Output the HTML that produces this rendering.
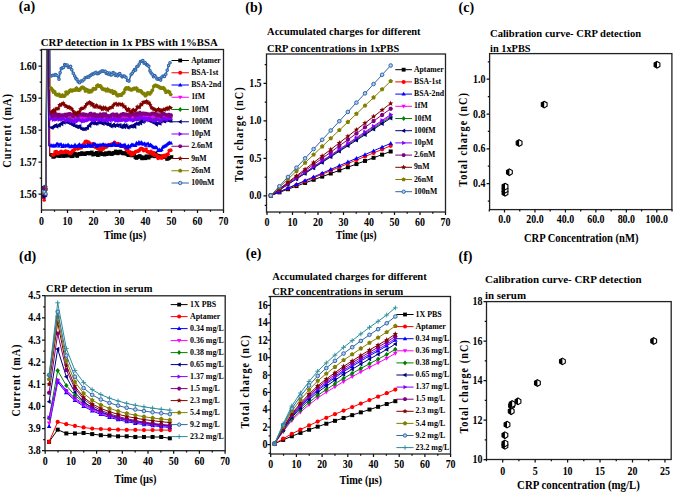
<!DOCTYPE html>
<html><head><meta charset="utf-8"><style>
html,body{margin:0;padding:0;background:#fff;width:675px;height:495px;overflow:hidden}
svg{display:block}
</style></head><body>
<svg width="675" height="495" viewBox="0 0 675 495" font-family='"Liberation Serif", serif'>
<rect width="675" height="495" fill="#fff"/>
<text x="18.8" y="11.3" font-size="14" text-anchor="start" font-weight="bold" fill="#000">(a)</text>
<text x="40.8" y="46.0" font-size="10.6" text-anchor="start" font-weight="bold" fill="#000" textLength="177.0" lengthAdjust="spacingAndGlyphs">CRP detection in 1x PBS with 1%BSA</text>
<clipPath id="ca"><rect x="41.5" y="49.5" width="182.0" height="160.5"/></clipPath>
<g clip-path="url(#ca)">
<polyline points="42.6,187.6 44.2,189.7 45.8,189.2 46.8,40.0 49.3,40.0 49.6,156.0 52.0,156.0" fill="none" stroke="#000000" stroke-width="0.9" stroke-linejoin="round"/>
<rect x="41.00" y="186.01" width="3.20" height="3.20" fill="#000000"/>
<rect x="42.60" y="188.10" width="3.20" height="3.20" fill="#000000"/>
<rect x="44.20" y="187.60" width="3.20" height="3.20" fill="#000000"/>
<polyline points="42.6,197.5 44.2,200.2 45.8,194.8 47.0,40.0 49.5,40.0 49.8,153.7 52.7,153.7" fill="none" stroke="#ff0000" stroke-width="0.9" stroke-linejoin="round"/>
<circle cx="42.60" cy="197.47" r="1.68" fill="#ff0000"/>
<circle cx="44.20" cy="200.16" r="1.68" fill="#ff0000"/>
<circle cx="45.80" cy="194.81" r="1.68" fill="#ff0000"/>
<polyline points="42.6,188.9 44.2,189.1 45.8,188.1 46.9,40.0 48.2,40.0 48.5,146.0 51.0,146.0" fill="none" stroke="#0000ff" stroke-width="0.9" stroke-linejoin="round"/>
<polygon points="42.6,186.9 44.4,190.1 40.8,190.1" fill="#0000ff"/>
<polygon points="44.2,187.2 46.0,190.4 42.4,190.4" fill="#0000ff"/>
<polygon points="45.8,186.2 47.6,189.4 44.0,189.4" fill="#0000ff"/>
<polyline points="42.6,188.8 44.2,186.5 45.8,188.2 47.3,40.0 48.8,40.0 49.1,117.0 51.0,117.0" fill="none" stroke="#008000" stroke-width="0.9" stroke-linejoin="round"/>
<polygon points="42.6,186.8 44.4,188.8 42.6,190.9 40.8,188.8" fill="#008000"/>
<polygon points="44.2,184.4 46.0,186.5 44.2,188.5 42.4,186.5" fill="#008000"/>
<polygon points="45.8,186.1 47.6,188.2 45.8,190.3 44.0,188.2" fill="#008000"/>
<polyline points="42.6,193.5 44.2,194.9 45.8,195.2 47.1,40.0 49.0,40.0 49.3,117.0 51.0,117.0" fill="none" stroke="#ff00ff" stroke-width="0.9" stroke-linejoin="round"/>
<polygon points="42.6,195.4 44.4,192.2 40.8,192.2" fill="#ff00ff"/>
<polygon points="44.2,196.8 46.0,193.6 42.4,193.6" fill="#ff00ff"/>
<polygon points="45.8,197.2 47.6,194.0 44.0,194.0" fill="#ff00ff"/>
<polyline points="42.6,195.5 44.2,197.5 45.8,195.4 46.7,40.0 48.5,40.0 48.8,126.9 51.3,126.9" fill="none" stroke="#000080" stroke-width="0.9" stroke-linejoin="round"/>
<polygon points="40.7,195.5 43.9,193.7 43.9,197.4" fill="#000080"/>
<polygon points="42.3,197.5 45.5,195.6 45.5,199.3" fill="#000080"/>
<polygon points="43.9,195.4 47.1,193.6 47.1,197.3" fill="#000080"/>
<polyline points="42.6,189.9 44.2,187.8 45.8,190.8 47.0,40.0 49.1,40.0 49.4,119.5 51.0,119.5" fill="none" stroke="#8000ff" stroke-width="0.9" stroke-linejoin="round"/>
<polygon points="44.5,189.9 41.3,188.0 41.3,191.7" fill="#8000ff"/>
<polygon points="46.1,187.8 42.9,186.0 42.9,189.6" fill="#8000ff"/>
<polygon points="47.7,190.8 44.5,189.0 44.5,192.6" fill="#8000ff"/>
<polyline points="42.6,188.7 44.2,191.5 45.8,186.5 47.2,40.0 49.4,40.0 49.7,115.0 51.0,115.0" fill="none" stroke="#800080" stroke-width="0.9" stroke-linejoin="round"/>
<polygon points="44.4,188.7 43.5,190.3 41.7,190.3 40.8,188.7 41.7,187.1 43.5,187.1" fill="#800080"/>
<polygon points="46.0,191.5 45.1,193.1 43.3,193.1 42.4,191.5 43.3,189.9 45.1,189.9" fill="#800080"/>
<polygon points="47.6,186.5 46.7,188.1 44.9,188.1 44.0,186.5 44.9,184.9 46.7,184.9" fill="#800080"/>
<polyline points="42.6,191.6 44.2,190.8 45.8,189.4 47.3,40.0 49.6,40.0 49.9,112.2 51.3,112.2" fill="none" stroke="#800000" stroke-width="0.9" stroke-linejoin="round"/>
<polygon points="42.6,189.3 43.2,190.7 44.7,190.9 43.6,191.9 43.9,193.4 42.6,192.6 41.3,193.4 41.6,191.9 40.5,190.9 42.0,190.7" fill="#800000"/>
<polygon points="44.2,188.6 44.8,190.0 46.3,190.1 45.2,191.1 45.5,192.6 44.2,191.8 42.9,192.6 43.2,191.1 42.1,190.1 43.6,190.0" fill="#800000"/>
<polygon points="45.8,187.1 46.4,188.6 47.9,188.7 46.8,189.7 47.1,191.2 45.8,190.4 44.5,191.2 44.8,189.7 43.7,188.7 45.2,188.6" fill="#800000"/>
<polyline points="42.6,192.9 44.2,192.4 45.8,193.3 46.5,40.0 49.8,40.0 50.1,88.0 51.0,88.0" fill="none" stroke="#808000" stroke-width="0.9" stroke-linejoin="round"/>
<polygon points="42.6,190.9 44.4,192.3 43.7,194.4 41.5,194.4 40.8,192.3" fill="#808000"/>
<polygon points="44.2,190.5 46.0,191.8 45.3,194.0 43.1,194.0 42.4,191.8" fill="#808000"/>
<polygon points="45.8,191.4 47.6,192.7 46.9,194.9 44.7,194.9 44.0,192.7" fill="#808000"/>
<polyline points="42.6,191.4 44.2,191.8 45.8,194.0 47.0,40.0 50.0,40.0 50.3,76.2 51.3,76.2" fill="none" stroke="#2f66a8" stroke-width="0.9" stroke-linejoin="round"/>
<circle cx="42.60" cy="191.43" r="1.44" fill="#b5cdee" stroke="#2f66a8" stroke-width="0.80"/>
<circle cx="44.20" cy="191.79" r="1.44" fill="#b5cdee" stroke="#2f66a8" stroke-width="0.80"/>
<circle cx="45.80" cy="193.97" r="1.44" fill="#b5cdee" stroke="#2f66a8" stroke-width="0.80"/>
<polyline points="52.0,155.0 53.1,156.9 54.3,156.5 55.5,155.0 56.6,155.6 57.8,155.4 58.9,155.8 60.1,156.1 61.2,154.1 62.4,153.9 63.5,156.1 64.7,155.0 65.8,155.9 67.0,153.7 68.1,154.9 69.2,155.7 70.4,154.3 71.5,156.3 72.7,156.2 73.8,153.7 75.0,153.7 76.1,155.0 77.2,156.0 78.3,154.4 79.5,153.8 80.6,154.3 81.7,153.1 82.8,153.5 83.9,154.0 85.0,154.1 86.2,153.3 87.3,153.1 88.4,153.0 89.5,153.6 90.7,153.1 91.8,152.4 93.0,154.6 94.2,153.9 95.3,154.1 96.5,152.8 97.7,155.1 98.8,154.7 100.0,152.6 101.1,153.2 102.3,154.2 103.4,154.1 104.5,154.6 105.7,153.1 106.8,154.2 107.9,153.7 109.0,152.6 110.2,153.3 111.3,154.1 112.4,153.9 113.5,152.9 114.6,153.0 115.7,151.4 116.8,151.9 117.9,153.4 119.0,152.2 120.1,151.5 121.2,152.4 122.4,153.2 123.6,153.5 124.8,153.0 125.9,153.6 127.1,154.1 128.3,155.2 129.5,154.9 130.7,154.9 131.8,155.5 133.0,154.6 134.2,155.0 135.4,157.2 136.5,158.0 137.6,157.0 138.7,156.5 139.8,156.0 140.9,157.0 142.0,158.4 143.1,157.9 144.2,157.3 145.3,158.3 146.4,156.3 147.6,156.8 148.7,157.7 149.8,156.4 150.9,155.8 152.1,155.0 153.2,155.5 154.3,156.3 155.5,153.4 156.6,155.3 157.8,155.8 158.9,156.3 160.1,156.3 161.2,156.9 162.4,156.5 163.5,157.0 164.7,157.0 165.8,156.3 167.0,159.0 168.1,158.5 169.3,157.9 171.5,157.0" fill="none" stroke="#000000" stroke-width="1.6" stroke-linejoin="round"/>
<rect x="50.20" y="153.18" width="3.60" height="3.60" fill="#000000"/>
<rect x="51.35" y="155.07" width="3.60" height="3.60" fill="#000000"/>
<rect x="52.50" y="154.74" width="3.60" height="3.60" fill="#000000"/>
<rect x="53.65" y="153.21" width="3.60" height="3.60" fill="#000000"/>
<rect x="54.80" y="153.79" width="3.60" height="3.60" fill="#000000"/>
<rect x="55.95" y="153.56" width="3.60" height="3.60" fill="#000000"/>
<rect x="57.10" y="154.02" width="3.60" height="3.60" fill="#000000"/>
<rect x="58.25" y="154.31" width="3.60" height="3.60" fill="#000000"/>
<rect x="59.40" y="152.26" width="3.60" height="3.60" fill="#000000"/>
<rect x="60.55" y="152.06" width="3.60" height="3.60" fill="#000000"/>
<rect x="61.70" y="154.31" width="3.60" height="3.60" fill="#000000"/>
<rect x="62.85" y="153.16" width="3.60" height="3.60" fill="#000000"/>
<rect x="64.00" y="154.07" width="3.60" height="3.60" fill="#000000"/>
<rect x="65.15" y="151.92" width="3.60" height="3.60" fill="#000000"/>
<rect x="66.30" y="153.15" width="3.60" height="3.60" fill="#000000"/>
<rect x="67.45" y="153.90" width="3.60" height="3.60" fill="#000000"/>
<rect x="68.60" y="152.51" width="3.60" height="3.60" fill="#000000"/>
<rect x="69.75" y="154.50" width="3.60" height="3.60" fill="#000000"/>
<rect x="70.90" y="154.36" width="3.60" height="3.60" fill="#000000"/>
<rect x="72.05" y="151.90" width="3.60" height="3.60" fill="#000000"/>
<rect x="73.20" y="151.87" width="3.60" height="3.60" fill="#000000"/>
<rect x="74.32" y="153.22" width="3.60" height="3.60" fill="#000000"/>
<rect x="75.43" y="154.23" width="3.60" height="3.60" fill="#000000"/>
<rect x="76.55" y="152.57" width="3.60" height="3.60" fill="#000000"/>
<rect x="77.66" y="152.01" width="3.60" height="3.60" fill="#000000"/>
<rect x="78.78" y="152.48" width="3.60" height="3.60" fill="#000000"/>
<rect x="79.89" y="151.28" width="3.60" height="3.60" fill="#000000"/>
<rect x="81.01" y="151.72" width="3.60" height="3.60" fill="#000000"/>
<rect x="82.12" y="152.23" width="3.60" height="3.60" fill="#000000"/>
<rect x="83.24" y="152.29" width="3.60" height="3.60" fill="#000000"/>
<rect x="84.35" y="151.45" width="3.60" height="3.60" fill="#000000"/>
<rect x="85.47" y="151.35" width="3.60" height="3.60" fill="#000000"/>
<rect x="86.58" y="151.21" width="3.60" height="3.60" fill="#000000"/>
<rect x="87.70" y="151.79" width="3.60" height="3.60" fill="#000000"/>
<rect x="88.87" y="151.31" width="3.60" height="3.60" fill="#000000"/>
<rect x="90.03" y="150.56" width="3.60" height="3.60" fill="#000000"/>
<rect x="91.20" y="152.85" width="3.60" height="3.60" fill="#000000"/>
<rect x="92.37" y="152.06" width="3.60" height="3.60" fill="#000000"/>
<rect x="93.53" y="152.30" width="3.60" height="3.60" fill="#000000"/>
<rect x="94.70" y="151.02" width="3.60" height="3.60" fill="#000000"/>
<rect x="95.87" y="153.28" width="3.60" height="3.60" fill="#000000"/>
<rect x="97.03" y="152.91" width="3.60" height="3.60" fill="#000000"/>
<rect x="98.20" y="150.84" width="3.60" height="3.60" fill="#000000"/>
<rect x="99.33" y="151.36" width="3.60" height="3.60" fill="#000000"/>
<rect x="100.46" y="152.38" width="3.60" height="3.60" fill="#000000"/>
<rect x="101.59" y="152.28" width="3.60" height="3.60" fill="#000000"/>
<rect x="102.72" y="152.84" width="3.60" height="3.60" fill="#000000"/>
<rect x="103.85" y="151.33" width="3.60" height="3.60" fill="#000000"/>
<rect x="104.98" y="152.40" width="3.60" height="3.60" fill="#000000"/>
<rect x="106.11" y="151.89" width="3.60" height="3.60" fill="#000000"/>
<rect x="107.24" y="150.79" width="3.60" height="3.60" fill="#000000"/>
<rect x="108.37" y="151.52" width="3.60" height="3.60" fill="#000000"/>
<rect x="109.50" y="152.27" width="3.60" height="3.60" fill="#000000"/>
<rect x="110.60" y="152.09" width="3.60" height="3.60" fill="#000000"/>
<rect x="111.70" y="151.06" width="3.60" height="3.60" fill="#000000"/>
<rect x="112.80" y="151.22" width="3.60" height="3.60" fill="#000000"/>
<rect x="113.90" y="149.59" width="3.60" height="3.60" fill="#000000"/>
<rect x="115.00" y="150.09" width="3.60" height="3.60" fill="#000000"/>
<rect x="116.10" y="151.57" width="3.60" height="3.60" fill="#000000"/>
<rect x="117.20" y="150.42" width="3.60" height="3.60" fill="#000000"/>
<rect x="118.30" y="149.66" width="3.60" height="3.60" fill="#000000"/>
<rect x="119.40" y="150.64" width="3.60" height="3.60" fill="#000000"/>
<rect x="120.58" y="151.43" width="3.60" height="3.60" fill="#000000"/>
<rect x="121.77" y="151.71" width="3.60" height="3.60" fill="#000000"/>
<rect x="122.95" y="151.22" width="3.60" height="3.60" fill="#000000"/>
<rect x="124.13" y="151.76" width="3.60" height="3.60" fill="#000000"/>
<rect x="125.32" y="152.32" width="3.60" height="3.60" fill="#000000"/>
<rect x="126.50" y="153.43" width="3.60" height="3.60" fill="#000000"/>
<rect x="127.68" y="153.07" width="3.60" height="3.60" fill="#000000"/>
<rect x="128.87" y="153.07" width="3.60" height="3.60" fill="#000000"/>
<rect x="130.05" y="153.70" width="3.60" height="3.60" fill="#000000"/>
<rect x="131.23" y="152.77" width="3.60" height="3.60" fill="#000000"/>
<rect x="132.42" y="153.16" width="3.60" height="3.60" fill="#000000"/>
<rect x="133.60" y="155.37" width="3.60" height="3.60" fill="#000000"/>
<rect x="134.70" y="156.23" width="3.60" height="3.60" fill="#000000"/>
<rect x="135.80" y="155.22" width="3.60" height="3.60" fill="#000000"/>
<rect x="136.90" y="154.74" width="3.60" height="3.60" fill="#000000"/>
<rect x="138.00" y="154.19" width="3.60" height="3.60" fill="#000000"/>
<rect x="139.10" y="155.20" width="3.60" height="3.60" fill="#000000"/>
<rect x="140.20" y="156.62" width="3.60" height="3.60" fill="#000000"/>
<rect x="141.30" y="156.10" width="3.60" height="3.60" fill="#000000"/>
<rect x="142.40" y="155.53" width="3.60" height="3.60" fill="#000000"/>
<rect x="143.50" y="156.51" width="3.60" height="3.60" fill="#000000"/>
<rect x="144.63" y="154.47" width="3.60" height="3.60" fill="#000000"/>
<rect x="145.76" y="154.98" width="3.60" height="3.60" fill="#000000"/>
<rect x="146.89" y="155.93" width="3.60" height="3.60" fill="#000000"/>
<rect x="148.02" y="154.60" width="3.60" height="3.60" fill="#000000"/>
<rect x="149.15" y="153.99" width="3.60" height="3.60" fill="#000000"/>
<rect x="150.28" y="153.17" width="3.60" height="3.60" fill="#000000"/>
<rect x="151.41" y="153.67" width="3.60" height="3.60" fill="#000000"/>
<rect x="152.54" y="154.54" width="3.60" height="3.60" fill="#000000"/>
<rect x="153.67" y="151.60" width="3.60" height="3.60" fill="#000000"/>
<rect x="154.80" y="153.49" width="3.60" height="3.60" fill="#000000"/>
<rect x="155.95" y="153.98" width="3.60" height="3.60" fill="#000000"/>
<rect x="157.11" y="154.54" width="3.60" height="3.60" fill="#000000"/>
<rect x="158.26" y="154.52" width="3.60" height="3.60" fill="#000000"/>
<rect x="159.42" y="155.09" width="3.60" height="3.60" fill="#000000"/>
<rect x="160.57" y="154.66" width="3.60" height="3.60" fill="#000000"/>
<rect x="161.73" y="155.16" width="3.60" height="3.60" fill="#000000"/>
<rect x="162.88" y="155.17" width="3.60" height="3.60" fill="#000000"/>
<rect x="164.04" y="154.51" width="3.60" height="3.60" fill="#000000"/>
<rect x="165.19" y="157.17" width="3.60" height="3.60" fill="#000000"/>
<rect x="166.35" y="156.71" width="3.60" height="3.60" fill="#000000"/>
<rect x="167.50" y="156.06" width="3.60" height="3.60" fill="#000000"/>
<rect x="169.70" y="155.20" width="3.60" height="3.60" fill="#000000"/>
<polyline points="52.7,155.0 53.9,154.7 55.1,151.9 56.4,151.7 57.6,153.5 58.8,152.9 60.0,152.5 61.1,151.5 62.2,152.3 63.3,152.3 64.4,152.2 65.6,151.0 66.7,151.8 67.8,151.7 68.9,152.6 70.0,153.4 71.1,152.8 72.2,151.2 73.3,150.5 74.4,149.6 75.6,148.5 76.7,148.0 77.8,148.8 78.9,147.9 80.0,147.7 81.3,147.7 82.7,145.3 84.0,144.0 85.3,141.7 86.4,141.3 87.5,142.4 88.7,142.2 89.8,143.5 90.9,145.1 92.0,144.5 93.1,143.8 94.3,146.5 95.4,146.9 96.6,147.4 97.7,148.6 98.9,148.9 100.0,149.6 101.1,147.9 102.2,149.2 103.3,148.7 104.5,146.0 105.6,147.2 106.7,146.7 107.8,145.5 108.9,145.2 110.0,144.7 111.1,145.4 112.3,143.8 113.4,144.2 114.5,142.4 115.6,143.5 116.8,144.1 118.0,143.5 119.2,144.4 120.4,146.0 121.6,146.1 122.8,146.0 124.0,145.9 125.2,147.4 126.4,149.6 127.5,149.3 128.7,152.5 129.9,151.9 131.1,154.9 132.2,152.7 133.4,154.0 134.5,152.8 135.6,151.8 136.8,151.3 137.9,151.2 139.0,150.5 140.1,149.3 141.3,148.5 142.4,148.8 143.6,150.5 144.8,150.1 146.0,149.1 147.3,151.7 148.5,151.9 149.7,152.9 150.9,151.4 152.1,153.8 153.3,152.7 154.5,155.2 155.8,154.9 157.0,155.6 158.2,158.2 159.4,156.9 160.6,157.6 161.8,158.1 162.9,155.9 164.1,155.3 165.3,156.7 166.5,155.0 167.9,154.1 169.3,150.6 170.7,150.2" fill="none" stroke="#ff0000" stroke-width="1.6" stroke-linejoin="round"/>
<circle cx="52.70" cy="154.98" r="1.89" fill="#ff0000"/>
<circle cx="53.92" cy="154.67" r="1.89" fill="#ff0000"/>
<circle cx="55.13" cy="151.89" r="1.89" fill="#ff0000"/>
<circle cx="56.35" cy="151.69" r="1.89" fill="#ff0000"/>
<circle cx="57.57" cy="153.51" r="1.89" fill="#ff0000"/>
<circle cx="58.78" cy="152.94" r="1.89" fill="#ff0000"/>
<circle cx="60.00" cy="152.48" r="1.89" fill="#ff0000"/>
<circle cx="61.11" cy="151.46" r="1.89" fill="#ff0000"/>
<circle cx="62.22" cy="152.30" r="1.89" fill="#ff0000"/>
<circle cx="63.33" cy="152.30" r="1.89" fill="#ff0000"/>
<circle cx="64.44" cy="152.23" r="1.89" fill="#ff0000"/>
<circle cx="65.56" cy="151.04" r="1.89" fill="#ff0000"/>
<circle cx="66.67" cy="151.81" r="1.89" fill="#ff0000"/>
<circle cx="67.78" cy="151.70" r="1.89" fill="#ff0000"/>
<circle cx="68.89" cy="152.62" r="1.89" fill="#ff0000"/>
<circle cx="70.00" cy="153.39" r="1.89" fill="#ff0000"/>
<circle cx="71.11" cy="152.81" r="1.89" fill="#ff0000"/>
<circle cx="72.22" cy="151.23" r="1.89" fill="#ff0000"/>
<circle cx="73.33" cy="150.51" r="1.89" fill="#ff0000"/>
<circle cx="74.44" cy="149.57" r="1.89" fill="#ff0000"/>
<circle cx="75.56" cy="148.48" r="1.89" fill="#ff0000"/>
<circle cx="76.67" cy="148.01" r="1.89" fill="#ff0000"/>
<circle cx="77.78" cy="148.79" r="1.89" fill="#ff0000"/>
<circle cx="78.89" cy="147.94" r="1.89" fill="#ff0000"/>
<circle cx="80.00" cy="147.66" r="1.89" fill="#ff0000"/>
<circle cx="81.33" cy="147.70" r="1.89" fill="#ff0000"/>
<circle cx="82.65" cy="145.27" r="1.89" fill="#ff0000"/>
<circle cx="83.97" cy="143.97" r="1.89" fill="#ff0000"/>
<circle cx="85.30" cy="141.66" r="1.89" fill="#ff0000"/>
<circle cx="86.42" cy="141.33" r="1.89" fill="#ff0000"/>
<circle cx="87.53" cy="142.44" r="1.89" fill="#ff0000"/>
<circle cx="88.65" cy="142.18" r="1.89" fill="#ff0000"/>
<circle cx="89.77" cy="143.50" r="1.89" fill="#ff0000"/>
<circle cx="90.88" cy="145.13" r="1.89" fill="#ff0000"/>
<circle cx="92.00" cy="144.49" r="1.89" fill="#ff0000"/>
<circle cx="93.14" cy="143.79" r="1.89" fill="#ff0000"/>
<circle cx="94.29" cy="146.47" r="1.89" fill="#ff0000"/>
<circle cx="95.43" cy="146.89" r="1.89" fill="#ff0000"/>
<circle cx="96.57" cy="147.40" r="1.89" fill="#ff0000"/>
<circle cx="97.71" cy="148.57" r="1.89" fill="#ff0000"/>
<circle cx="98.86" cy="148.85" r="1.89" fill="#ff0000"/>
<circle cx="100.00" cy="149.61" r="1.89" fill="#ff0000"/>
<circle cx="101.11" cy="147.93" r="1.89" fill="#ff0000"/>
<circle cx="102.23" cy="149.23" r="1.89" fill="#ff0000"/>
<circle cx="103.34" cy="148.72" r="1.89" fill="#ff0000"/>
<circle cx="104.46" cy="146.02" r="1.89" fill="#ff0000"/>
<circle cx="105.57" cy="147.23" r="1.89" fill="#ff0000"/>
<circle cx="106.69" cy="146.66" r="1.89" fill="#ff0000"/>
<circle cx="107.80" cy="145.49" r="1.89" fill="#ff0000"/>
<circle cx="108.91" cy="145.23" r="1.89" fill="#ff0000"/>
<circle cx="110.03" cy="144.66" r="1.89" fill="#ff0000"/>
<circle cx="111.14" cy="145.42" r="1.89" fill="#ff0000"/>
<circle cx="112.26" cy="143.77" r="1.89" fill="#ff0000"/>
<circle cx="113.37" cy="144.24" r="1.89" fill="#ff0000"/>
<circle cx="114.49" cy="142.45" r="1.89" fill="#ff0000"/>
<circle cx="115.60" cy="143.47" r="1.89" fill="#ff0000"/>
<circle cx="116.80" cy="144.13" r="1.89" fill="#ff0000"/>
<circle cx="118.00" cy="143.52" r="1.89" fill="#ff0000"/>
<circle cx="119.20" cy="144.43" r="1.89" fill="#ff0000"/>
<circle cx="120.40" cy="146.03" r="1.89" fill="#ff0000"/>
<circle cx="121.60" cy="146.10" r="1.89" fill="#ff0000"/>
<circle cx="122.80" cy="146.05" r="1.89" fill="#ff0000"/>
<circle cx="124.00" cy="145.92" r="1.89" fill="#ff0000"/>
<circle cx="125.18" cy="147.38" r="1.89" fill="#ff0000"/>
<circle cx="126.37" cy="149.59" r="1.89" fill="#ff0000"/>
<circle cx="127.55" cy="149.26" r="1.89" fill="#ff0000"/>
<circle cx="128.73" cy="152.51" r="1.89" fill="#ff0000"/>
<circle cx="129.92" cy="151.88" r="1.89" fill="#ff0000"/>
<circle cx="131.10" cy="154.85" r="1.89" fill="#ff0000"/>
<circle cx="132.23" cy="152.68" r="1.89" fill="#ff0000"/>
<circle cx="133.36" cy="154.00" r="1.89" fill="#ff0000"/>
<circle cx="134.49" cy="152.81" r="1.89" fill="#ff0000"/>
<circle cx="135.62" cy="151.75" r="1.89" fill="#ff0000"/>
<circle cx="136.75" cy="151.30" r="1.89" fill="#ff0000"/>
<circle cx="137.88" cy="151.18" r="1.89" fill="#ff0000"/>
<circle cx="139.01" cy="150.52" r="1.89" fill="#ff0000"/>
<circle cx="140.14" cy="149.25" r="1.89" fill="#ff0000"/>
<circle cx="141.27" cy="148.47" r="1.89" fill="#ff0000"/>
<circle cx="142.40" cy="148.83" r="1.89" fill="#ff0000"/>
<circle cx="143.61" cy="150.52" r="1.89" fill="#ff0000"/>
<circle cx="144.83" cy="150.15" r="1.89" fill="#ff0000"/>
<circle cx="146.04" cy="149.11" r="1.89" fill="#ff0000"/>
<circle cx="147.26" cy="151.70" r="1.89" fill="#ff0000"/>
<circle cx="148.47" cy="151.93" r="1.89" fill="#ff0000"/>
<circle cx="149.69" cy="152.94" r="1.89" fill="#ff0000"/>
<circle cx="150.90" cy="151.44" r="1.89" fill="#ff0000"/>
<circle cx="152.11" cy="153.80" r="1.89" fill="#ff0000"/>
<circle cx="153.33" cy="152.69" r="1.89" fill="#ff0000"/>
<circle cx="154.54" cy="155.17" r="1.89" fill="#ff0000"/>
<circle cx="155.76" cy="154.92" r="1.89" fill="#ff0000"/>
<circle cx="156.97" cy="155.61" r="1.89" fill="#ff0000"/>
<circle cx="158.19" cy="158.24" r="1.89" fill="#ff0000"/>
<circle cx="159.40" cy="156.90" r="1.89" fill="#ff0000"/>
<circle cx="160.58" cy="157.60" r="1.89" fill="#ff0000"/>
<circle cx="161.77" cy="158.06" r="1.89" fill="#ff0000"/>
<circle cx="162.95" cy="155.89" r="1.89" fill="#ff0000"/>
<circle cx="164.13" cy="155.32" r="1.89" fill="#ff0000"/>
<circle cx="165.32" cy="156.73" r="1.89" fill="#ff0000"/>
<circle cx="166.50" cy="154.98" r="1.89" fill="#ff0000"/>
<circle cx="167.90" cy="154.14" r="1.89" fill="#ff0000"/>
<circle cx="169.30" cy="150.56" r="1.89" fill="#ff0000"/>
<circle cx="170.70" cy="150.20" r="1.89" fill="#ff0000"/>
<polyline points="51.0,145.3 52.1,146.0 53.2,145.4 54.4,145.9 55.5,145.9 56.6,144.2 57.8,143.9 58.9,146.1 60.0,144.3 61.2,144.3 62.3,146.5 63.5,145.1 64.6,146.2 65.8,145.3 66.9,145.9 68.1,144.6 69.2,146.0 70.4,146.7 71.5,145.8 72.7,146.5 73.8,146.4 75.0,144.8 76.2,146.6 77.3,146.1 78.5,145.2 79.6,144.4 80.8,146.6 81.9,145.5 83.1,146.1 84.2,146.4 85.4,145.9 86.5,146.4 87.7,144.9 88.8,145.9 90.0,144.8 91.1,146.3 92.2,146.1 93.3,144.0 94.4,144.1 95.6,144.4 96.7,146.5 97.8,145.1 98.9,145.6 100.0,144.7 101.2,145.2 102.3,144.7 103.5,144.5 104.7,145.0 105.8,144.9 107.0,145.7 108.2,144.9 109.3,145.5 110.5,145.2 111.7,145.4 112.8,144.4 114.0,142.9 115.1,145.0 116.2,145.5 117.3,145.6 118.4,144.9 119.5,145.5 120.6,144.3 121.7,146.3 122.8,145.8 123.9,145.2 125.0,144.8 126.1,147.2 127.2,147.8 128.3,145.5 129.5,147.2 130.7,145.7 131.8,144.6 133.0,144.7 134.2,145.7 135.4,145.6 136.5,142.9 137.7,144.2 138.9,142.2 140.1,143.7 141.2,142.3 142.4,143.5 143.6,144.3 144.7,143.4 145.9,145.3 147.1,143.9 148.2,143.8 149.4,145.7 150.5,144.7 151.7,145.6 152.9,146.7 154.0,147.8 155.2,147.0 156.6,147.5 158.0,150.5 159.4,149.7 160.5,150.6 161.6,149.6 162.7,147.3 163.8,146.6 164.9,145.9 166.0,145.4 167.1,144.4 168.2,143.4 169.3,142.7 171.0,143.0" fill="none" stroke="#0000ff" stroke-width="1.6" stroke-linejoin="round"/>
<polygon points="51.0,143.1 53.1,146.7 48.9,146.7" fill="#0000ff"/>
<polygon points="52.1,143.8 54.2,147.4 50.1,147.4" fill="#0000ff"/>
<polygon points="53.2,143.2 55.3,146.8 51.2,146.8" fill="#0000ff"/>
<polygon points="54.4,143.8 56.4,147.4 52.3,147.4" fill="#0000ff"/>
<polygon points="55.5,143.7 57.6,147.3 53.4,147.3" fill="#0000ff"/>
<polygon points="56.6,142.0 58.7,145.6 54.6,145.6" fill="#0000ff"/>
<polygon points="57.8,141.7 59.8,145.3 55.7,145.3" fill="#0000ff"/>
<polygon points="58.9,143.9 60.9,147.5 56.8,147.5" fill="#0000ff"/>
<polygon points="60.0,142.2 62.1,145.8 57.9,145.8" fill="#0000ff"/>
<polygon points="61.2,142.2 63.2,145.8 59.1,145.8" fill="#0000ff"/>
<polygon points="62.3,144.4 64.4,148.0 60.2,148.0" fill="#0000ff"/>
<polygon points="63.5,143.0 65.5,146.6 61.4,146.6" fill="#0000ff"/>
<polygon points="64.6,144.1 66.7,147.7 62.5,147.7" fill="#0000ff"/>
<polygon points="65.8,143.2 67.8,146.8 63.7,146.8" fill="#0000ff"/>
<polygon points="66.9,143.7 69.0,147.3 64.9,147.3" fill="#0000ff"/>
<polygon points="68.1,142.4 70.1,146.0 66.0,146.0" fill="#0000ff"/>
<polygon points="69.2,143.8 71.3,147.4 67.2,147.4" fill="#0000ff"/>
<polygon points="70.4,144.6 72.5,148.2 68.3,148.2" fill="#0000ff"/>
<polygon points="71.5,143.7 73.6,147.3 69.5,147.3" fill="#0000ff"/>
<polygon points="72.7,144.4 74.8,148.0 70.6,148.0" fill="#0000ff"/>
<polygon points="73.8,144.2 75.9,147.8 71.8,147.8" fill="#0000ff"/>
<polygon points="75.0,142.6 77.1,146.2 72.9,146.2" fill="#0000ff"/>
<polygon points="76.2,144.5 78.2,148.1 74.1,148.1" fill="#0000ff"/>
<polygon points="77.3,143.9 79.4,147.5 75.2,147.5" fill="#0000ff"/>
<polygon points="78.5,143.1 80.5,146.7 76.4,146.7" fill="#0000ff"/>
<polygon points="79.6,142.2 81.7,145.8 77.5,145.8" fill="#0000ff"/>
<polygon points="80.8,144.5 82.8,148.1 78.7,148.1" fill="#0000ff"/>
<polygon points="81.9,143.3 84.0,146.9 79.9,146.9" fill="#0000ff"/>
<polygon points="83.1,143.9 85.1,147.5 81.0,147.5" fill="#0000ff"/>
<polygon points="84.2,144.3 86.3,147.9 82.2,147.9" fill="#0000ff"/>
<polygon points="85.4,143.7 87.5,147.3 83.3,147.3" fill="#0000ff"/>
<polygon points="86.5,144.2 88.6,147.8 84.5,147.8" fill="#0000ff"/>
<polygon points="87.7,142.7 89.8,146.3 85.6,146.3" fill="#0000ff"/>
<polygon points="88.8,143.8 90.9,147.4 86.8,147.4" fill="#0000ff"/>
<polygon points="90.0,142.7 92.1,146.3 87.9,146.3" fill="#0000ff"/>
<polygon points="91.1,144.1 93.2,147.7 89.0,147.7" fill="#0000ff"/>
<polygon points="92.2,144.0 94.3,147.6 90.2,147.6" fill="#0000ff"/>
<polygon points="93.3,141.8 95.4,145.4 91.3,145.4" fill="#0000ff"/>
<polygon points="94.4,142.0 96.5,145.6 92.4,145.6" fill="#0000ff"/>
<polygon points="95.6,142.2 97.6,145.8 93.5,145.8" fill="#0000ff"/>
<polygon points="96.7,144.3 98.7,147.9 94.6,147.9" fill="#0000ff"/>
<polygon points="97.8,142.9 99.8,146.5 95.7,146.5" fill="#0000ff"/>
<polygon points="98.9,143.5 101.0,147.1 96.8,147.1" fill="#0000ff"/>
<polygon points="100.0,142.6 102.1,146.2 97.9,146.2" fill="#0000ff"/>
<polygon points="101.2,143.0 103.2,146.6 99.1,146.6" fill="#0000ff"/>
<polygon points="102.3,142.6 104.4,146.2 100.3,146.2" fill="#0000ff"/>
<polygon points="103.5,142.3 105.6,145.9 101.4,145.9" fill="#0000ff"/>
<polygon points="104.7,142.9 106.7,146.5 102.6,146.5" fill="#0000ff"/>
<polygon points="105.8,142.8 107.9,146.4 103.8,146.4" fill="#0000ff"/>
<polygon points="107.0,143.5 109.1,147.1 104.9,147.1" fill="#0000ff"/>
<polygon points="108.2,142.8 110.2,146.4 106.1,146.4" fill="#0000ff"/>
<polygon points="109.3,143.3 111.4,146.9 107.3,146.9" fill="#0000ff"/>
<polygon points="110.5,143.0 112.6,146.6 108.4,146.6" fill="#0000ff"/>
<polygon points="111.7,143.3 113.7,146.9 109.6,146.9" fill="#0000ff"/>
<polygon points="112.8,142.2 114.9,145.8 110.8,145.8" fill="#0000ff"/>
<polygon points="114.0,140.7 116.1,144.3 111.9,144.3" fill="#0000ff"/>
<polygon points="115.1,142.9 117.2,146.5 113.0,146.5" fill="#0000ff"/>
<polygon points="116.2,143.4 118.3,147.0 114.1,147.0" fill="#0000ff"/>
<polygon points="117.3,143.4 119.4,147.0 115.2,147.0" fill="#0000ff"/>
<polygon points="118.4,142.7 120.5,146.3 116.3,146.3" fill="#0000ff"/>
<polygon points="119.5,143.4 121.6,147.0 117.4,147.0" fill="#0000ff"/>
<polygon points="120.6,142.2 122.7,145.8 118.5,145.8" fill="#0000ff"/>
<polygon points="121.7,144.1 123.8,147.7 119.6,147.7" fill="#0000ff"/>
<polygon points="122.8,143.6 124.9,147.2 120.7,147.2" fill="#0000ff"/>
<polygon points="123.9,143.0 126.0,146.6 121.8,146.6" fill="#0000ff"/>
<polygon points="125.0,142.6 127.1,146.2 122.9,146.2" fill="#0000ff"/>
<polygon points="126.1,145.1 128.2,148.7 124.0,148.7" fill="#0000ff"/>
<polygon points="127.2,145.7 129.3,149.3 125.1,149.3" fill="#0000ff"/>
<polygon points="128.3,143.4 130.4,147.0 126.2,147.0" fill="#0000ff"/>
<polygon points="129.5,145.0 131.5,148.6 127.4,148.6" fill="#0000ff"/>
<polygon points="130.7,143.6 132.7,147.2 128.6,147.2" fill="#0000ff"/>
<polygon points="131.8,142.5 133.9,146.1 129.8,146.1" fill="#0000ff"/>
<polygon points="133.0,142.5 135.1,146.1 130.9,146.1" fill="#0000ff"/>
<polygon points="134.2,143.5 136.2,147.1 132.1,147.1" fill="#0000ff"/>
<polygon points="135.4,143.4 137.4,147.0 133.3,147.0" fill="#0000ff"/>
<polygon points="136.5,140.8 138.6,144.4 134.5,144.4" fill="#0000ff"/>
<polygon points="137.7,142.0 139.8,145.6 135.6,145.6" fill="#0000ff"/>
<polygon points="138.9,140.0 140.9,143.6 136.8,143.6" fill="#0000ff"/>
<polygon points="140.1,141.6 142.1,145.2 138.0,145.2" fill="#0000ff"/>
<polygon points="141.2,140.1 143.3,143.7 139.2,143.7" fill="#0000ff"/>
<polygon points="142.4,141.3 144.5,144.9 140.3,144.9" fill="#0000ff"/>
<polygon points="143.6,142.1 145.6,145.7 141.5,145.7" fill="#0000ff"/>
<polygon points="144.7,141.3 146.8,144.9 142.7,144.9" fill="#0000ff"/>
<polygon points="145.9,143.2 148.0,146.8 143.8,146.8" fill="#0000ff"/>
<polygon points="147.1,141.7 149.1,145.3 145.0,145.3" fill="#0000ff"/>
<polygon points="148.2,141.6 150.3,145.2 146.1,145.2" fill="#0000ff"/>
<polygon points="149.4,143.6 151.5,147.2 147.3,147.2" fill="#0000ff"/>
<polygon points="150.5,142.5 152.6,146.1 148.5,146.1" fill="#0000ff"/>
<polygon points="151.7,143.5 153.8,147.1 149.6,147.1" fill="#0000ff"/>
<polygon points="152.9,144.6 154.9,148.2 150.8,148.2" fill="#0000ff"/>
<polygon points="154.0,145.6 156.1,149.2 152.0,149.2" fill="#0000ff"/>
<polygon points="155.2,144.9 157.3,148.5 153.1,148.5" fill="#0000ff"/>
<polygon points="156.6,145.3 158.7,148.9 154.5,148.9" fill="#0000ff"/>
<polygon points="158.0,148.3 160.1,151.9 155.9,151.9" fill="#0000ff"/>
<polygon points="159.4,147.5 161.5,151.1 157.3,151.1" fill="#0000ff"/>
<polygon points="160.5,148.5 162.6,152.1 158.4,152.1" fill="#0000ff"/>
<polygon points="161.6,147.4 163.7,151.0 159.5,151.0" fill="#0000ff"/>
<polygon points="162.7,145.1 164.8,148.7 160.6,148.7" fill="#0000ff"/>
<polygon points="163.8,144.5 165.9,148.1 161.7,148.1" fill="#0000ff"/>
<polygon points="164.9,143.8 167.0,147.4 162.8,147.4" fill="#0000ff"/>
<polygon points="166.0,143.2 168.1,146.8 163.9,146.8" fill="#0000ff"/>
<polygon points="167.1,142.2 169.2,145.8 165.0,145.8" fill="#0000ff"/>
<polygon points="168.2,141.3 170.3,144.9 166.1,144.9" fill="#0000ff"/>
<polygon points="169.3,140.6 171.4,144.2 167.2,144.2" fill="#0000ff"/>
<polygon points="171.0,140.8 173.1,144.4 168.9,144.4" fill="#0000ff"/>
<polyline points="51.0,116.3 52.1,115.9 53.2,116.8 54.4,116.1 55.5,115.9 56.6,116.9 57.7,118.3 58.8,118.0 59.9,118.0 61.1,116.5 62.2,117.4 63.3,116.7 64.4,116.4 65.5,116.3 66.6,116.6 67.8,118.6 68.9,118.4 70.0,118.4 71.1,118.3 72.2,116.6 73.3,116.9 74.4,117.8 75.6,118.1 76.7,118.4 77.8,118.4 78.9,116.2 80.0,117.6 81.1,117.8 82.2,117.3 83.3,116.4 84.4,117.2 85.6,116.1 86.7,118.4 87.8,118.2 88.9,117.3 90.0,116.6 91.1,118.3 92.2,117.3 93.3,118.2 94.4,118.1 95.6,117.1 96.7,116.8 97.8,117.3 98.9,116.8 100.0,116.1 101.1,116.5 102.2,117.9 103.3,115.8 104.4,115.9 105.6,117.5 106.7,116.6 107.8,117.4 108.9,117.2 110.0,116.9 111.1,118.8 112.2,116.6 113.3,117.2 114.4,116.6 115.6,117.9 116.7,116.9 117.8,117.2 118.9,118.3 120.0,117.2 121.1,117.9 122.2,118.9 123.3,116.7 124.4,116.6 125.6,117.1 126.7,118.6 127.8,118.2 128.9,117.2 130.0,117.5 131.1,117.1 132.2,117.8 133.3,116.6 134.4,118.4 135.5,119.0 136.6,119.1 137.8,118.5 138.9,119.1 140.0,116.4 141.1,117.1 142.2,119.0 143.3,118.4 144.4,117.4 145.5,118.9 146.6,117.9 147.7,118.5 148.8,117.0 149.9,116.6 151.1,117.3 152.2,116.4 153.3,117.1 154.4,118.7 155.5,116.9 156.6,116.0 157.7,116.0 158.8,116.4 159.9,118.1 161.0,116.9 162.1,116.6 163.2,116.1 164.4,118.5 165.5,116.9 166.6,116.3 167.7,115.8 168.8,115.8 169.9,116.1 171.0,117.0" fill="none" stroke="#008000" stroke-width="1.6" stroke-linejoin="round"/>
<polygon points="51.0,113.9 53.0,116.3 51.0,118.6 49.0,116.3" fill="#008000"/>
<polygon points="52.1,113.6 54.1,115.9 52.1,118.3 50.1,115.9" fill="#008000"/>
<polygon points="53.2,114.4 55.2,116.8 53.2,119.1 51.3,116.8" fill="#008000"/>
<polygon points="54.4,113.8 56.3,116.1 54.4,118.5 52.4,116.1" fill="#008000"/>
<polygon points="55.5,113.6 57.5,115.9 55.5,118.2 53.5,115.9" fill="#008000"/>
<polygon points="56.6,114.5 58.6,116.9 56.6,119.2 54.6,116.9" fill="#008000"/>
<polygon points="57.7,116.0 59.7,118.3 57.7,120.7 55.7,118.3" fill="#008000"/>
<polygon points="58.8,115.7 60.8,118.0 58.8,120.4 56.8,118.0" fill="#008000"/>
<polygon points="59.9,115.6 61.9,118.0 59.9,120.3 58.0,118.0" fill="#008000"/>
<polygon points="61.1,114.1 63.0,116.5 61.1,118.8 59.1,116.5" fill="#008000"/>
<polygon points="62.2,115.1 64.2,117.4 62.2,119.7 60.2,117.4" fill="#008000"/>
<polygon points="63.3,114.4 65.3,116.7 63.3,119.0 61.3,116.7" fill="#008000"/>
<polygon points="64.4,114.1 66.4,116.4 64.4,118.8 62.4,116.4" fill="#008000"/>
<polygon points="65.5,113.9 67.5,116.3 65.5,118.6 63.5,116.3" fill="#008000"/>
<polygon points="66.6,114.3 68.6,116.6 66.6,119.0 64.7,116.6" fill="#008000"/>
<polygon points="67.8,116.3 69.7,118.6 67.8,121.0 65.8,118.6" fill="#008000"/>
<polygon points="68.9,116.1 70.9,118.4 68.9,120.7 66.9,118.4" fill="#008000"/>
<polygon points="70.0,116.0 72.0,118.4 70.0,120.7 68.0,118.4" fill="#008000"/>
<polygon points="71.1,116.0 73.1,118.3 71.1,120.7 69.1,118.3" fill="#008000"/>
<polygon points="72.2,114.3 74.2,116.6 72.2,118.9 70.2,116.6" fill="#008000"/>
<polygon points="73.3,114.6 75.3,116.9 73.3,119.3 71.4,116.9" fill="#008000"/>
<polygon points="74.4,115.4 76.4,117.8 74.4,120.1 72.5,117.8" fill="#008000"/>
<polygon points="75.6,115.7 77.5,118.1 75.6,120.4 73.6,118.1" fill="#008000"/>
<polygon points="76.7,116.0 78.6,118.4 76.7,120.7 74.7,118.4" fill="#008000"/>
<polygon points="77.8,116.1 79.8,118.4 77.8,120.8 75.8,118.4" fill="#008000"/>
<polygon points="78.9,113.9 80.9,116.2 78.9,118.5 76.9,116.2" fill="#008000"/>
<polygon points="80.0,115.3 82.0,117.6 80.0,120.0 78.0,117.6" fill="#008000"/>
<polygon points="81.1,115.5 83.1,117.8 81.1,120.1 79.1,117.8" fill="#008000"/>
<polygon points="82.2,115.0 84.2,117.3 82.2,119.7 80.2,117.3" fill="#008000"/>
<polygon points="83.3,114.0 85.3,116.4 83.3,118.7 81.4,116.4" fill="#008000"/>
<polygon points="84.4,114.8 86.4,117.2 84.4,119.5 82.5,117.2" fill="#008000"/>
<polygon points="85.6,113.8 87.5,116.1 85.6,118.4 83.6,116.1" fill="#008000"/>
<polygon points="86.7,116.1 88.6,118.4 86.7,120.8 84.7,118.4" fill="#008000"/>
<polygon points="87.8,115.9 89.8,118.2 87.8,120.6 85.8,118.2" fill="#008000"/>
<polygon points="88.9,115.0 90.9,117.3 88.9,119.7 86.9,117.3" fill="#008000"/>
<polygon points="90.0,114.3 92.0,116.6 90.0,118.9 88.0,116.6" fill="#008000"/>
<polygon points="91.1,116.0 93.1,118.3 91.1,120.6 89.1,118.3" fill="#008000"/>
<polygon points="92.2,115.0 94.2,117.3 92.2,119.7 90.2,117.3" fill="#008000"/>
<polygon points="93.3,115.8 95.3,118.2 93.3,120.5 91.4,118.2" fill="#008000"/>
<polygon points="94.4,115.7 96.4,118.1 94.4,120.4 92.5,118.1" fill="#008000"/>
<polygon points="95.6,114.8 97.5,117.1 95.6,119.4 93.6,117.1" fill="#008000"/>
<polygon points="96.7,114.5 98.6,116.8 96.7,119.2 94.7,116.8" fill="#008000"/>
<polygon points="97.8,115.0 99.8,117.3 97.8,119.7 95.8,117.3" fill="#008000"/>
<polygon points="98.9,114.5 100.9,116.8 98.9,119.2 96.9,116.8" fill="#008000"/>
<polygon points="100.0,113.7 102.0,116.1 100.0,118.4 98.0,116.1" fill="#008000"/>
<polygon points="101.1,114.2 103.1,116.5 101.1,118.8 99.1,116.5" fill="#008000"/>
<polygon points="102.2,115.6 104.2,117.9 102.2,120.3 100.2,117.9" fill="#008000"/>
<polygon points="103.3,113.5 105.3,115.8 103.3,118.2 101.4,115.8" fill="#008000"/>
<polygon points="104.4,113.5 106.4,115.9 104.4,118.2 102.5,115.9" fill="#008000"/>
<polygon points="105.6,115.2 107.5,117.5 105.6,119.9 103.6,117.5" fill="#008000"/>
<polygon points="106.7,114.3 108.6,116.6 106.7,118.9 104.7,116.6" fill="#008000"/>
<polygon points="107.8,115.0 109.8,117.4 107.8,119.7 105.8,117.4" fill="#008000"/>
<polygon points="108.9,114.9 110.9,117.2 108.9,119.6 106.9,117.2" fill="#008000"/>
<polygon points="110.0,114.6 112.0,116.9 110.0,119.2 108.0,116.9" fill="#008000"/>
<polygon points="111.1,116.4 113.1,118.8 111.1,121.1 109.1,118.8" fill="#008000"/>
<polygon points="112.2,114.2 114.2,116.6 112.2,118.9 110.2,116.6" fill="#008000"/>
<polygon points="113.3,114.9 115.3,117.2 113.3,119.5 111.4,117.2" fill="#008000"/>
<polygon points="114.4,114.3 116.4,116.6 114.4,119.0 112.5,116.6" fill="#008000"/>
<polygon points="115.6,115.5 117.5,117.9 115.6,120.2 113.6,117.9" fill="#008000"/>
<polygon points="116.7,114.6 118.6,116.9 116.7,119.3 114.7,116.9" fill="#008000"/>
<polygon points="117.8,114.8 119.8,117.2 117.8,119.5 115.8,117.2" fill="#008000"/>
<polygon points="118.9,116.0 120.9,118.3 118.9,120.7 116.9,118.3" fill="#008000"/>
<polygon points="120.0,114.8 122.0,117.2 120.0,119.5 118.0,117.2" fill="#008000"/>
<polygon points="121.1,115.5 123.1,117.9 121.1,120.2 119.1,117.9" fill="#008000"/>
<polygon points="122.2,116.5 124.2,118.9 122.2,121.2 120.2,118.9" fill="#008000"/>
<polygon points="123.3,114.3 125.3,116.7 123.3,119.0 121.4,116.7" fill="#008000"/>
<polygon points="124.4,114.2 126.4,116.6 124.4,118.9 122.5,116.6" fill="#008000"/>
<polygon points="125.6,114.8 127.5,117.1 125.6,119.4 123.6,117.1" fill="#008000"/>
<polygon points="126.7,116.3 128.6,118.6 126.7,121.0 124.7,118.6" fill="#008000"/>
<polygon points="127.8,115.9 129.8,118.2 127.8,120.6 125.8,118.2" fill="#008000"/>
<polygon points="128.9,114.9 130.9,117.2 128.9,119.6 126.9,117.2" fill="#008000"/>
<polygon points="130.0,115.2 132.0,117.5 130.0,119.9 128.0,117.5" fill="#008000"/>
<polygon points="131.1,114.7 133.1,117.1 131.1,119.4 129.1,117.1" fill="#008000"/>
<polygon points="132.2,115.5 134.2,117.8 132.2,120.2 130.2,117.8" fill="#008000"/>
<polygon points="133.3,114.3 135.3,116.6 133.3,119.0 131.3,116.6" fill="#008000"/>
<polygon points="134.4,116.1 136.4,118.4 134.4,120.8 132.5,118.4" fill="#008000"/>
<polygon points="135.5,116.6 137.5,119.0 135.5,121.3 133.6,119.0" fill="#008000"/>
<polygon points="136.6,116.8 138.6,119.1 136.6,121.5 134.7,119.1" fill="#008000"/>
<polygon points="137.8,116.1 139.7,118.5 137.8,120.8 135.8,118.5" fill="#008000"/>
<polygon points="138.9,116.7 140.8,119.1 138.9,121.4 136.9,119.1" fill="#008000"/>
<polygon points="140.0,114.1 142.0,116.4 140.0,118.7 138.0,116.4" fill="#008000"/>
<polygon points="141.1,114.8 143.1,117.1 141.1,119.5 139.1,117.1" fill="#008000"/>
<polygon points="142.2,116.7 144.2,119.0 142.2,121.3 140.2,119.0" fill="#008000"/>
<polygon points="143.3,116.1 145.3,118.4 143.3,120.8 141.3,118.4" fill="#008000"/>
<polygon points="144.4,115.1 146.4,117.4 144.4,119.7 142.4,117.4" fill="#008000"/>
<polygon points="145.5,116.5 147.5,118.9 145.5,121.2 143.5,118.9" fill="#008000"/>
<polygon points="146.6,115.6 148.6,117.9 146.6,120.3 144.6,117.9" fill="#008000"/>
<polygon points="147.7,116.1 149.7,118.5 147.7,120.8 145.7,118.5" fill="#008000"/>
<polygon points="148.8,114.6 150.8,117.0 148.8,119.3 146.9,117.0" fill="#008000"/>
<polygon points="149.9,114.3 151.9,116.6 149.9,119.0 148.0,116.6" fill="#008000"/>
<polygon points="151.1,115.0 153.0,117.3 151.1,119.7 149.1,117.3" fill="#008000"/>
<polygon points="152.2,114.1 154.1,116.4 152.2,118.8 150.2,116.4" fill="#008000"/>
<polygon points="153.3,114.8 155.3,117.1 153.3,119.4 151.3,117.1" fill="#008000"/>
<polygon points="154.4,116.4 156.4,118.7 154.4,121.0 152.4,118.7" fill="#008000"/>
<polygon points="155.5,114.6 157.5,116.9 155.5,119.2 153.5,116.9" fill="#008000"/>
<polygon points="156.6,113.6 158.6,116.0 156.6,118.3 154.6,116.0" fill="#008000"/>
<polygon points="157.7,113.7 159.7,116.0 157.7,118.4 155.7,116.0" fill="#008000"/>
<polygon points="158.8,114.0 160.8,116.4 158.8,118.7 156.8,116.4" fill="#008000"/>
<polygon points="159.9,115.7 161.9,118.1 159.9,120.4 157.9,118.1" fill="#008000"/>
<polygon points="161.0,114.5 163.0,116.9 161.0,119.2 159.0,116.9" fill="#008000"/>
<polygon points="162.1,114.3 164.1,116.6 162.1,119.0 160.2,116.6" fill="#008000"/>
<polygon points="163.2,113.7 165.2,116.1 163.2,118.4 161.3,116.1" fill="#008000"/>
<polygon points="164.4,116.2 166.3,118.5 164.4,120.9 162.4,118.5" fill="#008000"/>
<polygon points="165.5,114.6 167.4,116.9 165.5,119.3 163.5,116.9" fill="#008000"/>
<polygon points="166.6,114.0 168.5,116.3 166.6,118.6 164.6,116.3" fill="#008000"/>
<polygon points="167.7,113.5 169.7,115.8 167.7,118.2 165.7,115.8" fill="#008000"/>
<polygon points="168.8,113.5 170.8,115.8 168.8,118.1 166.8,115.8" fill="#008000"/>
<polygon points="169.9,113.8 171.9,116.1 169.9,118.4 167.9,116.1" fill="#008000"/>
<polygon points="171.0,114.7 173.0,117.0 171.0,119.3 169.0,117.0" fill="#008000"/>
<polyline points="51.0,117.3 52.1,117.6 53.2,117.8 54.4,118.2 55.5,117.6 56.6,118.0 57.7,115.5 58.8,116.7 59.9,118.0 61.1,117.2 62.2,117.8 63.3,115.6 64.4,116.6 65.5,115.9 66.6,116.7 67.8,116.8 68.9,115.2 70.0,115.7 71.1,115.9 72.2,117.7 73.3,117.4 74.4,115.7 75.6,117.5 76.7,115.7 77.8,117.1 78.9,115.8 80.0,115.4 81.1,117.9 82.2,116.1 83.3,116.1 84.4,118.3 85.6,118.1 86.7,116.5 87.8,118.4 88.9,117.2 90.0,117.7 91.1,116.4 92.2,118.5 93.3,117.8 94.4,118.6 95.6,118.5 96.7,116.8 97.8,117.0 98.9,116.5 100.0,116.5 101.1,116.3 102.2,116.9 103.3,117.7 104.4,116.0 105.6,117.9 106.7,116.9 107.8,116.8 108.9,118.2 110.0,117.3 111.1,116.8 112.2,117.2 113.3,117.9 114.4,116.0 115.6,118.6 116.7,115.9 117.8,117.9 118.9,118.2 120.0,115.8 121.1,118.0 122.2,116.8 123.3,117.3 124.4,115.7 125.6,115.8 126.7,116.2 127.8,118.3 128.9,116.2 130.0,117.7 131.1,118.2 132.2,118.2 133.3,116.5 134.4,116.5 135.5,117.0 136.6,117.7 137.8,115.8 138.9,117.6 140.0,117.7 141.1,117.9 142.2,115.6 143.3,118.1 144.4,115.7 145.5,116.4 146.6,117.1 147.7,118.0 148.8,116.3 149.9,117.9 151.1,116.9 152.2,116.2 153.3,116.2 154.4,115.8 155.5,115.5 156.6,115.7 157.7,117.2 158.8,118.0 159.9,115.7 161.0,115.4 162.1,118.0 163.2,116.7 164.4,116.3 165.5,115.8 166.6,116.8 167.7,117.5 168.8,116.4 169.9,116.3 171.0,116.5" fill="none" stroke="#ff00ff" stroke-width="1.6" stroke-linejoin="round"/>
<polygon points="51.0,119.5 53.1,115.9 48.9,115.9" fill="#ff00ff"/>
<polygon points="52.1,119.8 54.2,116.2 50.0,116.2" fill="#ff00ff"/>
<polygon points="53.2,119.9 55.3,116.3 51.2,116.3" fill="#ff00ff"/>
<polygon points="54.4,120.3 56.4,116.7 52.3,116.7" fill="#ff00ff"/>
<polygon points="55.5,119.7 57.5,116.1 53.4,116.1" fill="#ff00ff"/>
<polygon points="56.6,120.2 58.7,116.6 54.5,116.6" fill="#ff00ff"/>
<polygon points="57.7,117.7 59.8,114.1 55.6,114.1" fill="#ff00ff"/>
<polygon points="58.8,118.9 60.9,115.3 56.8,115.3" fill="#ff00ff"/>
<polygon points="59.9,120.2 62.0,116.6 57.9,116.6" fill="#ff00ff"/>
<polygon points="61.1,119.3 63.1,115.7 59.0,115.7" fill="#ff00ff"/>
<polygon points="62.2,120.0 64.2,116.4 60.1,116.4" fill="#ff00ff"/>
<polygon points="63.3,117.8 65.4,114.2 61.2,114.2" fill="#ff00ff"/>
<polygon points="64.4,118.7 66.5,115.1 62.3,115.1" fill="#ff00ff"/>
<polygon points="65.5,118.1 67.6,114.5 63.5,114.5" fill="#ff00ff"/>
<polygon points="66.6,118.9 68.7,115.3 64.6,115.3" fill="#ff00ff"/>
<polygon points="67.8,118.9 69.8,115.3 65.7,115.3" fill="#ff00ff"/>
<polygon points="68.9,117.3 71.0,113.7 66.8,113.7" fill="#ff00ff"/>
<polygon points="70.0,117.9 72.1,114.3 67.9,114.3" fill="#ff00ff"/>
<polygon points="71.1,118.1 73.2,114.5 69.0,114.5" fill="#ff00ff"/>
<polygon points="72.2,119.9 74.3,116.3 70.2,116.3" fill="#ff00ff"/>
<polygon points="73.3,119.5 75.4,115.9 71.3,115.9" fill="#ff00ff"/>
<polygon points="74.4,117.9 76.5,114.3 72.4,114.3" fill="#ff00ff"/>
<polygon points="75.6,119.7 77.6,116.1 73.5,116.1" fill="#ff00ff"/>
<polygon points="76.7,117.9 78.7,114.3 74.6,114.3" fill="#ff00ff"/>
<polygon points="77.8,119.2 79.8,115.6 75.7,115.6" fill="#ff00ff"/>
<polygon points="78.9,117.9 81.0,114.3 76.8,114.3" fill="#ff00ff"/>
<polygon points="80.0,117.6 82.1,114.0 77.9,114.0" fill="#ff00ff"/>
<polygon points="81.1,120.1 83.2,116.5 79.0,116.5" fill="#ff00ff"/>
<polygon points="82.2,118.3 84.3,114.7 80.2,114.7" fill="#ff00ff"/>
<polygon points="83.3,118.3 85.4,114.7 81.3,114.7" fill="#ff00ff"/>
<polygon points="84.4,120.5 86.5,116.9 82.4,116.9" fill="#ff00ff"/>
<polygon points="85.6,120.2 87.6,116.6 83.5,116.6" fill="#ff00ff"/>
<polygon points="86.7,118.6 88.7,115.0 84.6,115.0" fill="#ff00ff"/>
<polygon points="87.8,120.5 89.8,116.9 85.7,116.9" fill="#ff00ff"/>
<polygon points="88.9,119.4 91.0,115.8 86.8,115.8" fill="#ff00ff"/>
<polygon points="90.0,119.8 92.1,116.2 87.9,116.2" fill="#ff00ff"/>
<polygon points="91.1,118.5 93.2,114.9 89.0,114.9" fill="#ff00ff"/>
<polygon points="92.2,120.6 94.3,117.0 90.2,117.0" fill="#ff00ff"/>
<polygon points="93.3,120.0 95.4,116.4 91.3,116.4" fill="#ff00ff"/>
<polygon points="94.4,120.8 96.5,117.2 92.4,117.2" fill="#ff00ff"/>
<polygon points="95.6,120.6 97.6,117.0 93.5,117.0" fill="#ff00ff"/>
<polygon points="96.7,119.0 98.7,115.4 94.6,115.4" fill="#ff00ff"/>
<polygon points="97.8,119.2 99.8,115.6 95.7,115.6" fill="#ff00ff"/>
<polygon points="98.9,118.7 101.0,115.1 96.8,115.1" fill="#ff00ff"/>
<polygon points="100.0,118.7 102.1,115.1 97.9,115.1" fill="#ff00ff"/>
<polygon points="101.1,118.4 103.2,114.8 99.0,114.8" fill="#ff00ff"/>
<polygon points="102.2,119.1 104.3,115.5 100.2,115.5" fill="#ff00ff"/>
<polygon points="103.3,119.9 105.4,116.3 101.3,116.3" fill="#ff00ff"/>
<polygon points="104.4,118.2 106.5,114.6 102.4,114.6" fill="#ff00ff"/>
<polygon points="105.6,120.1 107.6,116.5 103.5,116.5" fill="#ff00ff"/>
<polygon points="106.7,119.1 108.7,115.5 104.6,115.5" fill="#ff00ff"/>
<polygon points="107.8,119.0 109.8,115.4 105.7,115.4" fill="#ff00ff"/>
<polygon points="108.9,120.4 111.0,116.8 106.8,116.8" fill="#ff00ff"/>
<polygon points="110.0,119.4 112.1,115.8 107.9,115.8" fill="#ff00ff"/>
<polygon points="111.1,119.0 113.2,115.4 109.0,115.4" fill="#ff00ff"/>
<polygon points="112.2,119.4 114.3,115.8 110.2,115.8" fill="#ff00ff"/>
<polygon points="113.3,120.0 115.4,116.4 111.3,116.4" fill="#ff00ff"/>
<polygon points="114.4,118.2 116.5,114.6 112.4,114.6" fill="#ff00ff"/>
<polygon points="115.6,120.7 117.6,117.1 113.5,117.1" fill="#ff00ff"/>
<polygon points="116.7,118.0 118.7,114.4 114.6,114.4" fill="#ff00ff"/>
<polygon points="117.8,120.1 119.8,116.5 115.7,116.5" fill="#ff00ff"/>
<polygon points="118.9,120.3 121.0,116.7 116.8,116.7" fill="#ff00ff"/>
<polygon points="120.0,118.0 122.1,114.4 117.9,114.4" fill="#ff00ff"/>
<polygon points="121.1,120.1 123.2,116.5 119.0,116.5" fill="#ff00ff"/>
<polygon points="122.2,118.9 124.3,115.3 120.2,115.3" fill="#ff00ff"/>
<polygon points="123.3,119.5 125.4,115.9 121.3,115.9" fill="#ff00ff"/>
<polygon points="124.4,117.9 126.5,114.3 122.4,114.3" fill="#ff00ff"/>
<polygon points="125.6,118.0 127.6,114.4 123.5,114.4" fill="#ff00ff"/>
<polygon points="126.7,118.3 128.7,114.7 124.6,114.7" fill="#ff00ff"/>
<polygon points="127.8,120.5 129.8,116.9 125.7,116.9" fill="#ff00ff"/>
<polygon points="128.9,118.3 131.0,114.7 126.8,114.7" fill="#ff00ff"/>
<polygon points="130.0,119.9 132.1,116.3 127.9,116.3" fill="#ff00ff"/>
<polygon points="131.1,120.3 133.2,116.7 129.0,116.7" fill="#ff00ff"/>
<polygon points="132.2,120.4 134.3,116.8 130.1,116.8" fill="#ff00ff"/>
<polygon points="133.3,118.7 135.4,115.1 131.3,115.1" fill="#ff00ff"/>
<polygon points="134.4,118.7 136.5,115.1 132.4,115.1" fill="#ff00ff"/>
<polygon points="135.5,119.2 137.6,115.6 133.5,115.6" fill="#ff00ff"/>
<polygon points="136.6,119.9 138.7,116.3 134.6,116.3" fill="#ff00ff"/>
<polygon points="137.8,118.0 139.8,114.4 135.7,114.4" fill="#ff00ff"/>
<polygon points="138.9,119.7 140.9,116.1 136.8,116.1" fill="#ff00ff"/>
<polygon points="140.0,119.9 142.0,116.3 137.9,116.3" fill="#ff00ff"/>
<polygon points="141.1,120.0 143.2,116.4 139.0,116.4" fill="#ff00ff"/>
<polygon points="142.2,117.7 144.3,114.1 140.1,114.1" fill="#ff00ff"/>
<polygon points="143.3,120.2 145.4,116.6 141.2,116.6" fill="#ff00ff"/>
<polygon points="144.4,117.8 146.5,114.2 142.3,114.2" fill="#ff00ff"/>
<polygon points="145.5,118.5 147.6,114.9 143.4,114.9" fill="#ff00ff"/>
<polygon points="146.6,119.3 148.7,115.7 144.6,115.7" fill="#ff00ff"/>
<polygon points="147.7,120.1 149.8,116.5 145.7,116.5" fill="#ff00ff"/>
<polygon points="148.8,118.5 150.9,114.9 146.8,114.9" fill="#ff00ff"/>
<polygon points="149.9,120.1 152.0,116.5 147.9,116.5" fill="#ff00ff"/>
<polygon points="151.1,119.0 153.1,115.4 149.0,115.4" fill="#ff00ff"/>
<polygon points="152.2,118.4 154.2,114.8 150.1,114.8" fill="#ff00ff"/>
<polygon points="153.3,118.4 155.3,114.8 151.2,114.8" fill="#ff00ff"/>
<polygon points="154.4,118.0 156.4,114.4 152.3,114.4" fill="#ff00ff"/>
<polygon points="155.5,117.7 157.6,114.1 153.4,114.1" fill="#ff00ff"/>
<polygon points="156.6,117.9 158.7,114.3 154.5,114.3" fill="#ff00ff"/>
<polygon points="157.7,119.4 159.8,115.8 155.6,115.8" fill="#ff00ff"/>
<polygon points="158.8,120.2 160.9,116.6 156.7,116.6" fill="#ff00ff"/>
<polygon points="159.9,117.8 162.0,114.2 157.8,114.2" fill="#ff00ff"/>
<polygon points="161.0,117.5 163.1,113.9 159.0,113.9" fill="#ff00ff"/>
<polygon points="162.1,120.1 164.2,116.5 160.1,116.5" fill="#ff00ff"/>
<polygon points="163.2,118.8 165.3,115.2 161.2,115.2" fill="#ff00ff"/>
<polygon points="164.4,118.5 166.4,114.9 162.3,114.9" fill="#ff00ff"/>
<polygon points="165.5,118.0 167.5,114.4 163.4,114.4" fill="#ff00ff"/>
<polygon points="166.6,119.0 168.6,115.4 164.5,115.4" fill="#ff00ff"/>
<polygon points="167.7,119.6 169.7,116.0 165.6,116.0" fill="#ff00ff"/>
<polygon points="168.8,118.6 170.9,115.0 166.7,115.0" fill="#ff00ff"/>
<polygon points="169.9,118.5 172.0,114.9 167.8,114.9" fill="#ff00ff"/>
<polygon points="171.0,118.7 173.1,115.1 168.9,115.1" fill="#ff00ff"/>
<polyline points="51.3,127.7 52.4,127.7 53.6,126.6 54.7,125.8 55.9,124.9 57.0,126.7 58.2,125.4 59.4,125.5 60.6,123.7 61.9,124.1 63.1,122.0 64.3,122.8 65.5,121.8 66.7,121.5 67.9,122.3 69.1,123.3 70.4,122.4 71.6,123.9 72.8,125.1 74.0,124.1 75.2,126.1 76.4,126.3 77.6,127.3 78.8,126.3 80.0,126.2 81.2,128.6 82.4,129.2 83.8,129.2 85.3,129.3 86.4,128.1 87.6,127.9 88.7,125.6 89.9,126.0 91.0,123.5 92.2,122.3 93.5,123.4 94.7,122.4 95.9,123.8 97.1,123.6 98.3,122.3 99.6,122.5 100.8,122.5 102.0,123.2 103.1,124.0 104.3,121.8 105.5,123.1 106.6,124.2 107.8,123.8 109.0,124.9 110.1,124.0 111.3,126.6 112.4,125.6 113.5,124.6 114.6,126.2 115.8,125.3 116.9,125.0 118.0,125.9 119.1,125.0 120.2,125.3 121.3,127.2 122.5,126.8 123.6,124.9 124.7,127.2 125.8,125.1 126.9,126.1 128.0,127.7 129.2,127.0 130.3,126.2 131.4,126.5 132.5,126.6 133.7,125.1 134.9,126.9 136.1,123.5 137.2,123.9 138.4,124.0 139.6,122.4 140.8,123.3 142.0,120.5 143.1,121.9 144.3,120.9 145.5,119.6 146.7,119.5 147.8,118.9 148.9,120.6 150.0,121.1 151.1,120.9 152.2,121.4 153.3,122.7 154.4,122.5 155.5,122.2 156.6,124.7 157.8,123.0 158.9,123.2 160.1,123.6 161.2,121.6 162.4,120.8 163.5,120.7 164.7,121.6 165.8,120.6 167.0,119.9 168.1,120.0 169.3,121.0 171.0,121.0" fill="none" stroke="#000080" stroke-width="1.6" stroke-linejoin="round"/>
<polygon points="49.1,127.7 52.7,125.7 52.7,129.8" fill="#000080"/>
<polygon points="50.3,127.7 53.9,125.6 53.9,129.7" fill="#000080"/>
<polygon points="51.4,126.6 55.0,124.5 55.0,128.6" fill="#000080"/>
<polygon points="52.6,125.8 56.2,123.7 56.2,127.9" fill="#000080"/>
<polygon points="53.7,124.9 57.3,122.9 57.3,127.0" fill="#000080"/>
<polygon points="54.8,126.7 58.4,124.6 58.4,128.7" fill="#000080"/>
<polygon points="56.1,125.4 59.7,123.3 59.7,127.5" fill="#000080"/>
<polygon points="57.3,125.5 60.9,123.4 60.9,127.6" fill="#000080"/>
<polygon points="58.5,123.7 62.1,121.6 62.1,125.8" fill="#000080"/>
<polygon points="59.7,124.1 63.3,122.0 63.3,126.2" fill="#000080"/>
<polygon points="60.9,122.0 64.5,119.9 64.5,124.1" fill="#000080"/>
<polygon points="62.1,122.8 65.7,120.7 65.7,124.8" fill="#000080"/>
<polygon points="63.3,121.8 66.9,119.8 66.9,123.9" fill="#000080"/>
<polygon points="64.6,121.5 68.2,119.4 68.2,123.5" fill="#000080"/>
<polygon points="65.8,122.3 69.4,120.3 69.4,124.4" fill="#000080"/>
<polygon points="67.0,123.3 70.6,121.2 70.6,125.3" fill="#000080"/>
<polygon points="68.2,122.4 71.8,120.3 71.8,124.5" fill="#000080"/>
<polygon points="69.4,123.9 73.0,121.9 73.0,126.0" fill="#000080"/>
<polygon points="70.6,125.1 74.2,123.1 74.2,127.2" fill="#000080"/>
<polygon points="71.8,124.1 75.4,122.1 75.4,126.2" fill="#000080"/>
<polygon points="73.0,126.1 76.6,124.1 76.6,128.2" fill="#000080"/>
<polygon points="74.2,126.3 77.8,124.2 77.8,128.4" fill="#000080"/>
<polygon points="75.4,127.3 79.0,125.2 79.0,129.3" fill="#000080"/>
<polygon points="76.6,126.3 80.2,124.3 80.2,128.4" fill="#000080"/>
<polygon points="77.8,126.2 81.4,124.1 81.4,128.2" fill="#000080"/>
<polygon points="79.0,128.6 82.6,126.6 82.6,130.7" fill="#000080"/>
<polygon points="80.2,129.2 83.8,127.1 83.8,131.2" fill="#000080"/>
<polygon points="81.7,129.2 85.3,127.1 85.3,131.3" fill="#000080"/>
<polygon points="83.1,129.3 86.7,127.2 86.7,131.3" fill="#000080"/>
<polygon points="84.3,128.1 87.9,126.1 87.9,130.2" fill="#000080"/>
<polygon points="85.4,127.9 89.0,125.9 89.0,130.0" fill="#000080"/>
<polygon points="86.6,125.6 90.2,123.5 90.2,127.6" fill="#000080"/>
<polygon points="87.7,126.0 91.3,123.9 91.3,128.1" fill="#000080"/>
<polygon points="88.8,123.5 92.4,121.5 92.4,125.6" fill="#000080"/>
<polygon points="90.1,122.3 93.7,120.2 93.7,124.4" fill="#000080"/>
<polygon points="91.3,123.4 94.9,121.3 94.9,125.5" fill="#000080"/>
<polygon points="92.5,122.4 96.1,120.3 96.1,124.5" fill="#000080"/>
<polygon points="93.7,123.8 97.3,121.7 97.3,125.9" fill="#000080"/>
<polygon points="95.0,123.6 98.6,121.5 98.6,125.6" fill="#000080"/>
<polygon points="96.2,122.3 99.8,120.2 99.8,124.4" fill="#000080"/>
<polygon points="97.4,122.5 101.0,120.4 101.0,124.5" fill="#000080"/>
<polygon points="98.6,122.5 102.2,120.4 102.2,124.5" fill="#000080"/>
<polygon points="99.8,123.2 103.4,121.1 103.4,125.2" fill="#000080"/>
<polygon points="101.0,124.0 104.6,122.0 104.6,126.1" fill="#000080"/>
<polygon points="102.1,121.8 105.7,119.7 105.7,123.8" fill="#000080"/>
<polygon points="103.3,123.1 106.9,121.0 106.9,125.2" fill="#000080"/>
<polygon points="104.5,124.2 108.1,122.1 108.1,126.3" fill="#000080"/>
<polygon points="105.6,123.8 109.2,121.7 109.2,125.8" fill="#000080"/>
<polygon points="106.8,124.9 110.4,122.9 110.4,127.0" fill="#000080"/>
<polygon points="108.0,124.0 111.6,121.9 111.6,126.0" fill="#000080"/>
<polygon points="109.1,126.6 112.7,124.5 112.7,128.6" fill="#000080"/>
<polygon points="110.3,125.6 113.9,123.6 113.9,127.7" fill="#000080"/>
<polygon points="111.4,124.6 115.0,122.5 115.0,126.6" fill="#000080"/>
<polygon points="112.5,126.2 116.1,124.1 116.1,128.2" fill="#000080"/>
<polygon points="113.6,125.3 117.2,123.2 117.2,127.3" fill="#000080"/>
<polygon points="114.7,125.0 118.3,122.9 118.3,127.1" fill="#000080"/>
<polygon points="115.8,125.9 119.4,123.8 119.4,128.0" fill="#000080"/>
<polygon points="117.0,125.0 120.6,122.9 120.6,127.1" fill="#000080"/>
<polygon points="118.1,125.3 121.7,123.2 121.7,127.3" fill="#000080"/>
<polygon points="119.2,127.2 122.8,125.1 122.8,129.3" fill="#000080"/>
<polygon points="120.3,126.8 123.9,124.7 123.9,128.9" fill="#000080"/>
<polygon points="121.4,124.9 125.0,122.9 125.0,127.0" fill="#000080"/>
<polygon points="122.5,127.2 126.1,125.1 126.1,129.2" fill="#000080"/>
<polygon points="123.6,125.1 127.2,123.0 127.2,127.2" fill="#000080"/>
<polygon points="124.8,126.1 128.4,124.0 128.4,128.1" fill="#000080"/>
<polygon points="125.9,127.7 129.5,125.7 129.5,129.8" fill="#000080"/>
<polygon points="127.0,127.0 130.6,124.9 130.6,129.1" fill="#000080"/>
<polygon points="128.1,126.2 131.7,124.1 131.7,128.3" fill="#000080"/>
<polygon points="129.2,126.5 132.8,124.4 132.8,128.6" fill="#000080"/>
<polygon points="130.3,126.6 133.9,124.5 133.9,128.7" fill="#000080"/>
<polygon points="131.5,125.1 135.1,123.1 135.1,127.2" fill="#000080"/>
<polygon points="132.7,126.9 136.3,124.8 136.3,129.0" fill="#000080"/>
<polygon points="133.9,123.5 137.5,121.5 137.5,125.6" fill="#000080"/>
<polygon points="135.1,123.9 138.7,121.8 138.7,125.9" fill="#000080"/>
<polygon points="136.3,124.0 139.9,122.0 139.9,126.1" fill="#000080"/>
<polygon points="137.4,122.4 141.0,120.3 141.0,124.4" fill="#000080"/>
<polygon points="138.6,123.3 142.2,121.2 142.2,125.4" fill="#000080"/>
<polygon points="139.8,120.5 143.4,118.5 143.4,122.6" fill="#000080"/>
<polygon points="141.0,121.9 144.6,119.8 144.6,123.9" fill="#000080"/>
<polygon points="142.2,120.9 145.8,118.8 145.8,123.0" fill="#000080"/>
<polygon points="143.4,119.6 147.0,117.5 147.0,121.7" fill="#000080"/>
<polygon points="144.5,119.5 148.1,117.4 148.1,121.6" fill="#000080"/>
<polygon points="145.6,118.9 149.2,116.8 149.2,120.9" fill="#000080"/>
<polygon points="146.7,120.6 150.3,118.5 150.3,122.6" fill="#000080"/>
<polygon points="147.8,121.1 151.4,119.0 151.4,123.2" fill="#000080"/>
<polygon points="148.9,120.9 152.5,118.9 152.5,123.0" fill="#000080"/>
<polygon points="150.0,121.4 153.6,119.4 153.6,123.5" fill="#000080"/>
<polygon points="151.1,122.7 154.7,120.6 154.7,124.8" fill="#000080"/>
<polygon points="152.2,122.5 155.8,120.4 155.8,124.6" fill="#000080"/>
<polygon points="153.3,122.2 156.9,120.1 156.9,124.3" fill="#000080"/>
<polygon points="154.4,124.7 158.0,122.6 158.0,126.8" fill="#000080"/>
<polygon points="155.6,123.0 159.2,120.9 159.2,125.0" fill="#000080"/>
<polygon points="156.7,123.2 160.3,121.1 160.3,125.3" fill="#000080"/>
<polygon points="157.9,123.6 161.5,121.6 161.5,125.7" fill="#000080"/>
<polygon points="159.1,121.6 162.7,119.5 162.7,123.6" fill="#000080"/>
<polygon points="160.2,120.8 163.8,118.7 163.8,122.8" fill="#000080"/>
<polygon points="161.4,120.7 165.0,118.6 165.0,122.7" fill="#000080"/>
<polygon points="162.5,121.6 166.1,119.5 166.1,123.6" fill="#000080"/>
<polygon points="163.7,120.6 167.3,118.5 167.3,122.6" fill="#000080"/>
<polygon points="164.8,119.9 168.4,117.8 168.4,122.0" fill="#000080"/>
<polygon points="166.0,120.0 169.6,118.0 169.6,122.1" fill="#000080"/>
<polygon points="167.1,121.0 170.7,118.9 170.7,123.1" fill="#000080"/>
<polygon points="168.8,121.0 172.4,118.9 172.4,123.1" fill="#000080"/>
<polyline points="51.0,119.0 52.2,118.6 53.3,120.0 54.5,118.4 55.7,119.8 56.8,119.3 58.0,118.5 59.2,119.8 60.3,118.5 61.5,119.7 62.7,118.7 63.8,118.8 65.0,119.8 66.2,121.0 67.3,119.1 68.5,119.5 69.6,120.7 70.8,121.6 71.9,120.7 73.1,120.2 74.2,121.9 75.4,119.4 76.5,121.8 77.7,120.3 78.8,119.9 80.0,119.9 81.1,120.4 82.2,121.7 83.3,119.9 84.4,120.9 85.6,121.0 86.7,120.1 87.8,120.6 88.9,119.1 90.0,119.0 91.1,119.3 92.2,120.6 93.3,119.8 94.4,119.4 95.6,120.1 96.7,119.6 97.8,119.1 98.9,120.4 100.0,120.1 101.1,118.8 102.2,119.8 103.3,119.7 104.4,120.7 105.6,120.3 106.7,119.1 107.8,121.0 108.9,118.7 110.0,119.5 111.1,120.5 112.2,118.8 113.3,119.8 114.4,118.6 115.6,120.4 116.7,120.7 117.8,120.1 118.9,121.0 120.0,119.5 121.1,120.5 122.2,120.2 123.3,120.1 124.4,119.7 125.6,120.7 126.7,120.9 127.8,119.5 128.9,120.0 130.0,118.3 131.1,120.0 132.2,119.8 133.3,120.7 134.4,120.2 135.6,118.6 136.7,118.8 137.8,119.6 138.9,117.7 140.0,118.9 141.1,118.1 142.2,118.0 143.3,117.9 144.4,120.0 145.6,118.2 146.7,118.6 147.8,119.1 148.9,120.5 150.0,118.3 151.1,119.4 152.2,119.7 153.3,120.7 154.4,120.6 155.6,120.8 156.7,119.2 157.8,119.7 158.9,119.5 160.0,121.1 161.1,121.2 162.2,118.8 163.3,118.8 164.4,118.8 165.5,118.8 166.6,119.4 167.7,119.5 168.8,118.5 169.9,117.7 171.0,119.0" fill="none" stroke="#8000ff" stroke-width="1.6" stroke-linejoin="round"/>
<polygon points="53.2,119.0 49.6,116.9 49.6,121.1" fill="#8000ff"/>
<polygon points="54.3,118.6 50.7,116.5 50.7,120.6" fill="#8000ff"/>
<polygon points="55.5,120.0 51.9,117.9 51.9,122.1" fill="#8000ff"/>
<polygon points="56.7,118.4 53.1,116.4 53.1,120.5" fill="#8000ff"/>
<polygon points="57.8,119.8 54.2,117.7 54.2,121.8" fill="#8000ff"/>
<polygon points="59.0,119.3 55.4,117.3 55.4,121.4" fill="#8000ff"/>
<polygon points="60.2,118.5 56.6,116.4 56.6,120.6" fill="#8000ff"/>
<polygon points="61.3,119.8 57.7,117.7 57.7,121.9" fill="#8000ff"/>
<polygon points="62.5,118.5 58.9,116.5 58.9,120.6" fill="#8000ff"/>
<polygon points="63.7,119.7 60.1,117.6 60.1,121.8" fill="#8000ff"/>
<polygon points="64.8,118.7 61.2,116.6 61.2,120.8" fill="#8000ff"/>
<polygon points="66.0,118.8 62.4,116.7 62.4,120.9" fill="#8000ff"/>
<polygon points="67.2,119.8 63.6,117.7 63.6,121.9" fill="#8000ff"/>
<polygon points="68.3,121.0 64.7,118.9 64.7,123.1" fill="#8000ff"/>
<polygon points="69.5,119.1 65.9,117.0 65.9,121.2" fill="#8000ff"/>
<polygon points="70.6,119.5 67.0,117.4 67.0,121.5" fill="#8000ff"/>
<polygon points="71.8,120.7 68.2,118.6 68.2,122.7" fill="#8000ff"/>
<polygon points="72.9,121.6 69.3,119.6 69.3,123.7" fill="#8000ff"/>
<polygon points="74.1,120.7 70.5,118.6 70.5,122.7" fill="#8000ff"/>
<polygon points="75.2,120.2 71.6,118.2 71.6,122.3" fill="#8000ff"/>
<polygon points="76.4,121.9 72.8,119.9 72.8,124.0" fill="#8000ff"/>
<polygon points="77.5,119.4 73.9,117.4 73.9,121.5" fill="#8000ff"/>
<polygon points="78.7,121.8 75.1,119.7 75.1,123.8" fill="#8000ff"/>
<polygon points="79.9,120.3 76.3,118.2 76.3,122.3" fill="#8000ff"/>
<polygon points="81.0,119.9 77.4,117.9 77.4,122.0" fill="#8000ff"/>
<polygon points="82.2,119.9 78.6,117.9 78.6,122.0" fill="#8000ff"/>
<polygon points="83.3,120.4 79.7,118.3 79.7,122.5" fill="#8000ff"/>
<polygon points="84.4,121.7 80.8,119.6 80.8,123.8" fill="#8000ff"/>
<polygon points="85.5,119.9 81.9,117.8 81.9,121.9" fill="#8000ff"/>
<polygon points="86.6,120.9 83.0,118.8 83.0,123.0" fill="#8000ff"/>
<polygon points="87.7,121.0 84.1,118.9 84.1,123.0" fill="#8000ff"/>
<polygon points="88.8,120.1 85.2,118.1 85.2,122.2" fill="#8000ff"/>
<polygon points="89.9,120.6 86.3,118.5 86.3,122.6" fill="#8000ff"/>
<polygon points="91.0,119.1 87.4,117.0 87.4,121.2" fill="#8000ff"/>
<polygon points="92.2,119.0 88.6,116.9 88.6,121.1" fill="#8000ff"/>
<polygon points="93.3,119.3 89.7,117.3 89.7,121.4" fill="#8000ff"/>
<polygon points="94.4,120.6 90.8,118.5 90.8,122.7" fill="#8000ff"/>
<polygon points="95.5,119.8 91.9,117.7 91.9,121.9" fill="#8000ff"/>
<polygon points="96.6,119.4 93.0,117.3 93.0,121.5" fill="#8000ff"/>
<polygon points="97.7,120.1 94.1,118.0 94.1,122.1" fill="#8000ff"/>
<polygon points="98.8,119.6 95.2,117.5 95.2,121.7" fill="#8000ff"/>
<polygon points="99.9,119.1 96.3,117.0 96.3,121.2" fill="#8000ff"/>
<polygon points="101.0,120.4 97.4,118.3 97.4,122.5" fill="#8000ff"/>
<polygon points="102.2,120.1 98.6,118.0 98.6,122.1" fill="#8000ff"/>
<polygon points="103.3,118.8 99.7,116.7 99.7,120.9" fill="#8000ff"/>
<polygon points="104.4,119.8 100.8,117.7 100.8,121.8" fill="#8000ff"/>
<polygon points="105.5,119.7 101.9,117.6 101.9,121.7" fill="#8000ff"/>
<polygon points="106.6,120.7 103.0,118.6 103.0,122.7" fill="#8000ff"/>
<polygon points="107.7,120.3 104.1,118.2 104.1,122.4" fill="#8000ff"/>
<polygon points="108.8,119.1 105.2,117.0 105.2,121.1" fill="#8000ff"/>
<polygon points="109.9,121.0 106.3,119.0 106.3,123.1" fill="#8000ff"/>
<polygon points="111.0,118.7 107.4,116.6 107.4,120.7" fill="#8000ff"/>
<polygon points="112.2,119.5 108.6,117.5 108.6,121.6" fill="#8000ff"/>
<polygon points="113.3,120.5 109.7,118.4 109.7,122.6" fill="#8000ff"/>
<polygon points="114.4,118.8 110.8,116.8 110.8,120.9" fill="#8000ff"/>
<polygon points="115.5,119.8 111.9,117.7 111.9,121.9" fill="#8000ff"/>
<polygon points="116.6,118.6 113.0,116.5 113.0,120.6" fill="#8000ff"/>
<polygon points="117.7,120.4 114.1,118.3 114.1,122.4" fill="#8000ff"/>
<polygon points="118.8,120.7 115.2,118.6 115.2,122.7" fill="#8000ff"/>
<polygon points="119.9,120.1 116.3,118.1 116.3,122.2" fill="#8000ff"/>
<polygon points="121.0,121.0 117.4,119.0 117.4,123.1" fill="#8000ff"/>
<polygon points="122.2,119.5 118.6,117.4 118.6,121.5" fill="#8000ff"/>
<polygon points="123.3,120.5 119.7,118.4 119.7,122.6" fill="#8000ff"/>
<polygon points="124.4,120.2 120.8,118.1 120.8,122.2" fill="#8000ff"/>
<polygon points="125.5,120.1 121.9,118.0 121.9,122.1" fill="#8000ff"/>
<polygon points="126.6,119.7 123.0,117.6 123.0,121.7" fill="#8000ff"/>
<polygon points="127.7,120.7 124.1,118.6 124.1,122.7" fill="#8000ff"/>
<polygon points="128.8,120.9 125.2,118.8 125.2,123.0" fill="#8000ff"/>
<polygon points="129.9,119.5 126.3,117.5 126.3,121.6" fill="#8000ff"/>
<polygon points="131.0,120.0 127.4,117.9 127.4,122.1" fill="#8000ff"/>
<polygon points="132.2,118.3 128.6,116.2 128.6,120.3" fill="#8000ff"/>
<polygon points="133.3,120.0 129.7,117.9 129.7,122.1" fill="#8000ff"/>
<polygon points="134.4,119.8 130.8,117.7 130.8,121.9" fill="#8000ff"/>
<polygon points="135.5,120.7 131.9,118.6 131.9,122.8" fill="#8000ff"/>
<polygon points="136.6,120.2 133.0,118.1 133.0,122.2" fill="#8000ff"/>
<polygon points="137.7,118.6 134.1,116.5 134.1,120.7" fill="#8000ff"/>
<polygon points="138.8,118.8 135.2,116.8 135.2,120.9" fill="#8000ff"/>
<polygon points="139.9,119.6 136.3,117.5 136.3,121.7" fill="#8000ff"/>
<polygon points="141.0,117.7 137.4,115.6 137.4,119.8" fill="#8000ff"/>
<polygon points="142.2,118.9 138.6,116.8 138.6,121.0" fill="#8000ff"/>
<polygon points="143.3,118.1 139.7,116.1 139.7,120.2" fill="#8000ff"/>
<polygon points="144.4,118.0 140.8,116.0 140.8,120.1" fill="#8000ff"/>
<polygon points="145.5,117.9 141.9,115.9 141.9,120.0" fill="#8000ff"/>
<polygon points="146.6,120.0 143.0,117.9 143.0,122.0" fill="#8000ff"/>
<polygon points="147.7,118.2 144.1,116.2 144.1,120.3" fill="#8000ff"/>
<polygon points="148.8,118.6 145.2,116.6 145.2,120.7" fill="#8000ff"/>
<polygon points="149.9,119.1 146.3,117.0 146.3,121.2" fill="#8000ff"/>
<polygon points="151.0,120.5 147.4,118.4 147.4,122.6" fill="#8000ff"/>
<polygon points="152.2,118.3 148.6,116.3 148.6,120.4" fill="#8000ff"/>
<polygon points="153.3,119.4 149.7,117.3 149.7,121.5" fill="#8000ff"/>
<polygon points="154.4,119.7 150.8,117.7 150.8,121.8" fill="#8000ff"/>
<polygon points="155.5,120.7 151.9,118.7 151.9,122.8" fill="#8000ff"/>
<polygon points="156.6,120.6 153.0,118.5 153.0,122.7" fill="#8000ff"/>
<polygon points="157.7,120.8 154.1,118.7 154.1,122.9" fill="#8000ff"/>
<polygon points="158.8,119.2 155.2,117.1 155.2,121.3" fill="#8000ff"/>
<polygon points="159.9,119.7 156.3,117.6 156.3,121.7" fill="#8000ff"/>
<polygon points="161.0,119.5 157.4,117.5 157.4,121.6" fill="#8000ff"/>
<polygon points="162.2,121.1 158.6,119.0 158.6,123.1" fill="#8000ff"/>
<polygon points="163.3,121.2 159.7,119.1 159.7,123.3" fill="#8000ff"/>
<polygon points="164.4,118.8 160.8,116.8 160.8,120.9" fill="#8000ff"/>
<polygon points="165.5,118.8 161.9,116.7 161.9,120.9" fill="#8000ff"/>
<polygon points="166.6,118.8 163.0,116.8 163.0,120.9" fill="#8000ff"/>
<polygon points="167.7,118.8 164.1,116.7 164.1,120.8" fill="#8000ff"/>
<polygon points="168.8,119.4 165.2,117.3 165.2,121.4" fill="#8000ff"/>
<polygon points="169.9,119.5 166.3,117.5 166.3,121.6" fill="#8000ff"/>
<polygon points="171.0,118.5 167.4,116.5 167.4,120.6" fill="#8000ff"/>
<polygon points="172.1,117.7 168.5,115.6 168.5,119.8" fill="#8000ff"/>
<polygon points="173.2,119.0 169.6,116.9 169.6,121.1" fill="#8000ff"/>
<polyline points="51.0,114.2 52.2,116.3 53.3,114.0 54.5,115.7 55.7,114.0 56.8,114.5 58.0,116.6 59.2,114.5 60.3,115.7 61.5,115.3 62.7,115.3 63.8,115.4 65.0,114.6 66.2,116.3 67.3,114.2 68.5,114.5 69.6,113.8 70.8,114.5 71.9,114.8 73.1,116.1 74.2,114.5 75.4,113.7 76.5,114.1 77.7,116.0 78.8,113.4 80.0,114.8 81.1,114.2 82.2,115.0 83.3,114.1 84.4,115.1 85.6,114.6 86.7,115.1 87.8,115.8 88.9,115.0 90.0,113.7 91.1,113.6 92.2,116.1 93.3,114.8 94.4,114.0 95.6,116.1 96.7,115.1 97.8,115.6 98.9,116.0 100.0,114.4 101.1,114.6 102.2,116.1 103.3,114.1 104.4,115.9 105.6,114.0 106.7,115.7 107.8,115.8 108.9,116.5 110.0,116.2 111.1,115.3 112.2,114.5 113.3,114.4 114.4,115.4 115.6,115.4 116.7,114.2 117.8,116.6 118.9,115.5 120.0,116.1 121.1,114.6 122.2,114.6 123.3,113.9 124.4,114.7 125.6,114.4 126.7,114.8 127.8,114.6 128.9,115.8 130.0,115.8 131.1,113.8 132.2,114.3 133.3,113.6 134.4,114.9 135.6,115.7 136.7,113.4 137.8,114.9 138.9,113.5 140.0,112.6 141.1,114.8 142.2,113.7 143.3,113.2 144.4,114.0 145.6,113.5 146.7,114.1 147.8,114.2 148.9,114.2 150.0,114.7 151.1,114.0 152.2,113.5 153.3,113.5 154.4,113.6 155.6,114.8 156.7,114.4 157.8,115.8 158.9,115.0 160.0,115.6 161.1,116.3 162.2,113.8 163.3,113.6 164.4,114.0 165.5,114.7 166.6,115.2 167.7,115.7 168.8,114.6 169.9,116.3 171.0,115.0" fill="none" stroke="#800080" stroke-width="1.6" stroke-linejoin="round"/>
<polygon points="53.1,114.2 52.0,116.0 50.0,116.0 48.9,114.2 50.0,112.4 52.0,112.4" fill="#800080"/>
<polygon points="54.2,116.3 53.2,118.1 51.1,118.1 50.1,116.3 51.1,114.5 53.2,114.5" fill="#800080"/>
<polygon points="55.4,114.0 54.4,115.8 52.3,115.8 51.3,114.0 52.3,112.2 54.4,112.2" fill="#800080"/>
<polygon points="56.6,115.7 55.5,117.5 53.5,117.5 52.4,115.7 53.5,113.9 55.5,113.9" fill="#800080"/>
<polygon points="57.7,114.0 56.7,115.8 54.6,115.8 53.6,114.0 54.6,112.2 56.7,112.2" fill="#800080"/>
<polygon points="58.9,114.5 57.9,116.3 55.8,116.3 54.8,114.5 55.8,112.7 57.9,112.7" fill="#800080"/>
<polygon points="60.1,116.6 59.0,118.4 57.0,118.4 55.9,116.6 57.0,114.9 59.0,114.9" fill="#800080"/>
<polygon points="61.2,114.5 60.2,116.3 58.1,116.3 57.1,114.5 58.1,112.7 60.2,112.7" fill="#800080"/>
<polygon points="62.4,115.7 61.4,117.5 59.3,117.5 58.3,115.7 59.3,113.9 61.4,113.9" fill="#800080"/>
<polygon points="63.6,115.3 62.5,117.1 60.5,117.1 59.4,115.3 60.5,113.5 62.5,113.5" fill="#800080"/>
<polygon points="64.7,115.3 63.7,117.1 61.6,117.1 60.6,115.3 61.6,113.5 63.7,113.5" fill="#800080"/>
<polygon points="65.9,115.4 64.9,117.2 62.8,117.2 61.8,115.4 62.8,113.7 64.9,113.7" fill="#800080"/>
<polygon points="67.1,114.6 66.0,116.4 64.0,116.4 62.9,114.6 64.0,112.8 66.0,112.8" fill="#800080"/>
<polygon points="68.2,116.3 67.2,118.1 65.1,118.1 64.1,116.3 65.1,114.6 67.2,114.6" fill="#800080"/>
<polygon points="69.4,114.2 68.3,116.0 66.3,116.0 65.2,114.2 66.3,112.4 68.3,112.4" fill="#800080"/>
<polygon points="70.5,114.5 69.5,116.3 67.4,116.3 66.4,114.5 67.4,112.7 69.5,112.7" fill="#800080"/>
<polygon points="71.7,113.8 70.7,115.6 68.6,115.6 67.5,113.8 68.6,112.1 70.7,112.1" fill="#800080"/>
<polygon points="72.8,114.5 71.8,116.3 69.7,116.3 68.7,114.5 69.7,112.7 71.8,112.7" fill="#800080"/>
<polygon points="74.0,114.8 73.0,116.6 70.9,116.6 69.9,114.8 70.9,113.0 73.0,113.0" fill="#800080"/>
<polygon points="75.1,116.1 74.1,117.9 72.0,117.9 71.0,116.1 72.0,114.3 74.1,114.3" fill="#800080"/>
<polygon points="76.3,114.5 75.3,116.3 73.2,116.3 72.2,114.5 73.2,112.8 75.3,112.8" fill="#800080"/>
<polygon points="77.5,113.7 76.4,115.5 74.3,115.5 73.3,113.7 74.3,111.9 76.4,111.9" fill="#800080"/>
<polygon points="78.6,114.1 77.6,115.8 75.5,115.8 74.5,114.1 75.5,112.3 77.6,112.3" fill="#800080"/>
<polygon points="79.8,116.0 78.7,117.8 76.7,117.8 75.6,116.0 76.7,114.2 78.7,114.2" fill="#800080"/>
<polygon points="80.9,113.4 79.9,115.1 77.8,115.1 76.8,113.4 77.8,111.6 79.9,111.6" fill="#800080"/>
<polygon points="82.1,114.8 81.0,116.6 79.0,116.6 77.9,114.8 79.0,113.0 81.0,113.0" fill="#800080"/>
<polygon points="83.2,114.2 82.1,116.0 80.1,116.0 79.0,114.2 80.1,112.4 82.1,112.4" fill="#800080"/>
<polygon points="84.3,115.0 83.3,116.8 81.2,116.8 80.2,115.0 81.2,113.2 83.3,113.2" fill="#800080"/>
<polygon points="85.4,114.1 84.4,115.9 82.3,115.9 81.3,114.1 82.3,112.3 84.4,112.3" fill="#800080"/>
<polygon points="86.5,115.1 85.5,116.9 83.4,116.9 82.4,115.1 83.4,113.4 85.5,113.4" fill="#800080"/>
<polygon points="87.6,114.6 86.6,116.4 84.5,116.4 83.5,114.6 84.5,112.8 86.6,112.8" fill="#800080"/>
<polygon points="88.7,115.1 87.7,116.9 85.6,116.9 84.6,115.1 85.6,113.3 87.7,113.3" fill="#800080"/>
<polygon points="89.8,115.8 88.8,117.6 86.7,117.6 85.7,115.8 86.7,114.0 88.8,114.0" fill="#800080"/>
<polygon points="91.0,115.0 89.9,116.7 87.9,116.7 86.8,115.0 87.9,113.2 89.9,113.2" fill="#800080"/>
<polygon points="92.1,113.7 91.0,115.5 89.0,115.5 87.9,113.7 89.0,112.0 91.0,112.0" fill="#800080"/>
<polygon points="93.2,113.6 92.1,115.4 90.1,115.4 89.0,113.6 90.1,111.8 92.1,111.8" fill="#800080"/>
<polygon points="94.3,116.1 93.3,117.8 91.2,117.8 90.2,116.1 91.2,114.3 93.3,114.3" fill="#800080"/>
<polygon points="95.4,114.8 94.4,116.6 92.3,116.6 91.3,114.8 92.3,113.0 94.4,113.0" fill="#800080"/>
<polygon points="96.5,114.0 95.5,115.8 93.4,115.8 92.4,114.0 93.4,112.2 95.5,112.2" fill="#800080"/>
<polygon points="97.6,116.1 96.6,117.9 94.5,117.9 93.5,116.1 94.5,114.3 96.6,114.3" fill="#800080"/>
<polygon points="98.7,115.1 97.7,116.9 95.6,116.9 94.6,115.1 95.6,113.3 97.7,113.3" fill="#800080"/>
<polygon points="99.8,115.6 98.8,117.4 96.7,117.4 95.7,115.6 96.7,113.8 98.8,113.8" fill="#800080"/>
<polygon points="101.0,116.0 99.9,117.8 97.9,117.8 96.8,116.0 97.9,114.2 99.9,114.2" fill="#800080"/>
<polygon points="102.1,114.4 101.0,116.2 99.0,116.2 97.9,114.4 99.0,112.6 101.0,112.6" fill="#800080"/>
<polygon points="103.2,114.6 102.1,116.4 100.1,116.4 99.0,114.6 100.1,112.8 102.1,112.8" fill="#800080"/>
<polygon points="104.3,116.1 103.3,117.9 101.2,117.9 100.2,116.1 101.2,114.3 103.3,114.3" fill="#800080"/>
<polygon points="105.4,114.1 104.4,115.9 102.3,115.9 101.3,114.1 102.3,112.3 104.4,112.3" fill="#800080"/>
<polygon points="106.5,115.9 105.5,117.6 103.4,117.6 102.4,115.9 103.4,114.1 105.5,114.1" fill="#800080"/>
<polygon points="107.6,114.0 106.6,115.8 104.5,115.8 103.5,114.0 104.5,112.2 106.6,112.2" fill="#800080"/>
<polygon points="108.7,115.7 107.7,117.5 105.6,117.5 104.6,115.7 105.6,113.9 107.7,113.9" fill="#800080"/>
<polygon points="109.8,115.8 108.8,117.6 106.7,117.6 105.7,115.8 106.7,114.0 108.8,114.0" fill="#800080"/>
<polygon points="111.0,116.5 109.9,118.3 107.9,118.3 106.8,116.5 107.9,114.7 109.9,114.7" fill="#800080"/>
<polygon points="112.1,116.2 111.0,118.0 109.0,118.0 107.9,116.2 109.0,114.4 111.0,114.4" fill="#800080"/>
<polygon points="113.2,115.3 112.1,117.1 110.1,117.1 109.0,115.3 110.1,113.5 112.1,113.5" fill="#800080"/>
<polygon points="114.3,114.5 113.3,116.3 111.2,116.3 110.2,114.5 111.2,112.7 113.3,112.7" fill="#800080"/>
<polygon points="115.4,114.4 114.4,116.1 112.3,116.1 111.3,114.4 112.3,112.6 114.4,112.6" fill="#800080"/>
<polygon points="116.5,115.4 115.5,117.2 113.4,117.2 112.4,115.4 113.4,113.6 115.5,113.6" fill="#800080"/>
<polygon points="117.6,115.4 116.6,117.2 114.5,117.2 113.5,115.4 114.5,113.6 116.6,113.6" fill="#800080"/>
<polygon points="118.7,114.2 117.7,116.0 115.6,116.0 114.6,114.2 115.6,112.4 117.7,112.4" fill="#800080"/>
<polygon points="119.8,116.6 118.8,118.4 116.7,118.4 115.7,116.6 116.7,114.8 118.8,114.8" fill="#800080"/>
<polygon points="121.0,115.5 119.9,117.3 117.9,117.3 116.8,115.5 117.9,113.7 119.9,113.7" fill="#800080"/>
<polygon points="122.1,116.1 121.0,117.9 119.0,117.9 117.9,116.1 119.0,114.3 121.0,114.3" fill="#800080"/>
<polygon points="123.2,114.6 122.1,116.4 120.1,116.4 119.0,114.6 120.1,112.8 122.1,112.8" fill="#800080"/>
<polygon points="124.3,114.6 123.3,116.4 121.2,116.4 120.2,114.6 121.2,112.8 123.3,112.8" fill="#800080"/>
<polygon points="125.4,113.9 124.4,115.7 122.3,115.7 121.3,113.9 122.3,112.1 124.4,112.1" fill="#800080"/>
<polygon points="126.5,114.7 125.5,116.5 123.4,116.5 122.4,114.7 123.4,112.9 125.5,112.9" fill="#800080"/>
<polygon points="127.6,114.4 126.6,116.2 124.5,116.2 123.5,114.4 124.5,112.6 126.6,112.6" fill="#800080"/>
<polygon points="128.7,114.8 127.7,116.6 125.6,116.6 124.6,114.8 125.6,113.0 127.7,113.0" fill="#800080"/>
<polygon points="129.8,114.6 128.8,116.4 126.7,116.4 125.7,114.6 126.7,112.8 128.8,112.8" fill="#800080"/>
<polygon points="131.0,115.8 129.9,117.6 127.9,117.6 126.8,115.8 127.9,114.0 129.9,114.0" fill="#800080"/>
<polygon points="132.1,115.8 131.0,117.6 129.0,117.6 127.9,115.8 129.0,114.1 131.0,114.1" fill="#800080"/>
<polygon points="133.2,113.8 132.1,115.6 130.1,115.6 129.0,113.8 130.1,112.0 132.1,112.0" fill="#800080"/>
<polygon points="134.3,114.3 133.3,116.1 131.2,116.1 130.2,114.3 131.2,112.5 133.3,112.5" fill="#800080"/>
<polygon points="135.4,113.6 134.4,115.4 132.3,115.4 131.3,113.6 132.3,111.8 134.4,111.8" fill="#800080"/>
<polygon points="136.5,114.9 135.5,116.7 133.4,116.7 132.4,114.9 133.4,113.1 135.5,113.1" fill="#800080"/>
<polygon points="137.6,115.7 136.6,117.5 134.5,117.5 133.5,115.7 134.5,113.9 136.6,113.9" fill="#800080"/>
<polygon points="138.7,113.4 137.7,115.2 135.6,115.2 134.6,113.4 135.6,111.6 137.7,111.6" fill="#800080"/>
<polygon points="139.8,114.9 138.8,116.7 136.7,116.7 135.7,114.9 136.7,113.1 138.8,113.1" fill="#800080"/>
<polygon points="141.0,113.5 139.9,115.3 137.9,115.3 136.8,113.5 137.9,111.7 139.9,111.7" fill="#800080"/>
<polygon points="142.1,112.6 141.0,114.4 139.0,114.4 137.9,112.6 139.0,110.8 141.0,110.8" fill="#800080"/>
<polygon points="143.2,114.8 142.1,116.6 140.1,116.6 139.0,114.8 140.1,113.0 142.1,113.0" fill="#800080"/>
<polygon points="144.3,113.7 143.3,115.5 141.2,115.5 140.2,113.7 141.2,111.9 143.3,111.9" fill="#800080"/>
<polygon points="145.4,113.2 144.4,115.0 142.3,115.0 141.3,113.2 142.3,111.5 144.4,111.5" fill="#800080"/>
<polygon points="146.5,114.0 145.5,115.8 143.4,115.8 142.4,114.0 143.4,112.2 145.5,112.2" fill="#800080"/>
<polygon points="147.6,113.5 146.6,115.3 144.5,115.3 143.5,113.5 144.5,111.7 146.6,111.7" fill="#800080"/>
<polygon points="148.7,114.1 147.7,115.9 145.6,115.9 144.6,114.1 145.6,112.3 147.7,112.3" fill="#800080"/>
<polygon points="149.8,114.2 148.8,116.0 146.7,116.0 145.7,114.2 146.7,112.4 148.8,112.4" fill="#800080"/>
<polygon points="151.0,114.2 149.9,116.0 147.9,116.0 146.8,114.2 147.9,112.4 149.9,112.4" fill="#800080"/>
<polygon points="152.1,114.7 151.0,116.5 149.0,116.5 147.9,114.7 149.0,113.0 151.0,113.0" fill="#800080"/>
<polygon points="153.2,114.0 152.1,115.8 150.1,115.8 149.0,114.0 150.1,112.2 152.1,112.2" fill="#800080"/>
<polygon points="154.3,113.5 153.3,115.3 151.2,115.3 150.2,113.5 151.2,111.7 153.3,111.7" fill="#800080"/>
<polygon points="155.4,113.5 154.4,115.3 152.3,115.3 151.3,113.5 152.3,111.7 154.4,111.7" fill="#800080"/>
<polygon points="156.5,113.6 155.5,115.4 153.4,115.4 152.4,113.6 153.4,111.8 155.5,111.8" fill="#800080"/>
<polygon points="157.6,114.8 156.6,116.6 154.5,116.6 153.5,114.8 154.5,113.0 156.6,113.0" fill="#800080"/>
<polygon points="158.7,114.4 157.7,116.2 155.6,116.2 154.6,114.4 155.6,112.6 157.7,112.6" fill="#800080"/>
<polygon points="159.8,115.8 158.8,117.5 156.7,117.5 155.7,115.8 156.7,114.0 158.8,114.0" fill="#800080"/>
<polygon points="161.0,115.0 159.9,116.8 157.9,116.8 156.8,115.0 157.9,113.2 159.9,113.2" fill="#800080"/>
<polygon points="162.1,115.6 161.0,117.4 159.0,117.4 157.9,115.6 159.0,113.8 161.0,113.8" fill="#800080"/>
<polygon points="163.2,116.3 162.1,118.1 160.1,118.1 159.0,116.3 160.1,114.6 162.1,114.6" fill="#800080"/>
<polygon points="164.3,113.8 163.2,115.6 161.2,115.6 160.1,113.8 161.2,112.0 163.2,112.0" fill="#800080"/>
<polygon points="165.4,113.6 164.3,115.4 162.3,115.4 161.2,113.6 162.3,111.9 164.3,111.9" fill="#800080"/>
<polygon points="166.5,114.0 165.4,115.8 163.4,115.8 162.3,114.0 163.4,112.2 165.4,112.2" fill="#800080"/>
<polygon points="167.6,114.7 166.5,116.5 164.5,116.5 163.4,114.7 164.5,112.9 166.5,112.9" fill="#800080"/>
<polygon points="168.7,115.2 167.6,117.0 165.6,117.0 164.5,115.2 165.6,113.4 167.6,113.4" fill="#800080"/>
<polygon points="169.8,115.7 168.7,117.5 166.7,117.5 165.6,115.7 166.7,113.9 168.7,113.9" fill="#800080"/>
<polygon points="170.9,114.6 169.8,116.4 167.8,116.4 166.7,114.6 167.8,112.8 169.8,112.8" fill="#800080"/>
<polygon points="172.0,116.3 170.9,118.1 168.9,118.1 167.8,116.3 168.9,114.5 170.9,114.5" fill="#800080"/>
<polygon points="173.1,115.0 172.0,116.8 170.0,116.8 168.9,115.0 170.0,113.2 172.0,113.2" fill="#800080"/>
<polyline points="51.3,112.1 52.5,111.3 53.6,110.1 54.8,111.6 56.0,108.6 57.2,108.7 58.4,108.6 59.6,105.0 60.8,105.1 62.0,104.0 63.2,103.1 64.4,104.7 65.6,106.2 66.8,106.2 68.0,107.6 69.3,107.0 70.5,108.2 71.8,108.7 73.0,110.8 74.3,112.9 75.5,112.9 76.8,114.4 78.0,112.2 79.3,112.0 80.5,109.1 81.8,108.5 83.0,108.5 84.3,107.6 85.6,105.8 86.9,103.8 88.2,103.3 89.5,102.2 90.6,103.0 91.7,105.1 92.8,104.0 93.9,106.5 95.0,107.1 96.2,105.3 97.5,106.7 98.8,107.5 100.0,106.7 101.1,107.9 102.2,109.4 103.3,107.4 104.4,108.9 105.6,107.7 106.7,109.2 107.8,110.2 108.9,108.4 110.0,108.0 111.3,107.1 112.5,107.2 113.8,104.6 115.0,103.7 116.3,103.7 117.5,105.1 118.8,103.9 120.0,104.0 121.2,104.9 122.4,104.3 123.7,106.6 124.9,106.5 126.2,108.7 127.4,110.6 128.6,109.0 129.9,111.4 131.1,112.5 132.3,110.3 133.5,109.8 134.7,110.9 136.0,110.0 137.2,106.6 138.4,107.4 139.6,107.2 140.8,104.3 142.0,104.5 143.1,102.1 144.3,102.2 145.5,102.2 146.7,101.2 147.9,103.1 149.0,102.6 150.2,104.7 151.4,107.6 152.5,108.2 153.7,109.3 154.9,109.3 156.1,111.2 157.3,110.2 158.6,108.9 159.8,111.2 161.0,110.1 162.2,110.6 163.4,109.6 164.6,109.8 165.8,109.1 167.1,108.0 168.3,109.2 169.5,107.3 170.7,108.0" fill="none" stroke="#800000" stroke-width="1.6" stroke-linejoin="round"/>
<polygon points="51.3,109.6 52.0,111.2 53.7,111.3 52.4,112.4 52.8,114.1 51.3,113.2 49.8,114.1 50.2,112.4 48.9,111.3 50.6,111.2" fill="#800000"/>
<polygon points="52.5,108.8 53.1,110.4 54.9,110.5 53.6,111.6 54.0,113.3 52.5,112.4 51.0,113.3 51.4,111.6 50.1,110.5 51.8,110.4" fill="#800000"/>
<polygon points="53.6,107.6 54.3,109.2 56.0,109.3 54.7,110.4 55.1,112.1 53.6,111.2 52.2,112.1 52.6,110.4 51.3,109.3 53.0,109.2" fill="#800000"/>
<polygon points="54.8,109.1 55.5,110.7 57.2,110.8 55.9,111.9 56.3,113.6 54.8,112.7 53.3,113.6 53.7,111.9 52.4,110.8 54.2,110.7" fill="#800000"/>
<polygon points="56.0,106.1 56.7,107.7 58.4,107.8 57.1,109.0 57.5,110.7 56.0,109.8 54.5,110.7 54.9,109.0 53.6,107.8 55.3,107.7" fill="#800000"/>
<polygon points="57.2,106.2 57.9,107.8 59.6,108.0 58.3,109.1 58.7,110.8 57.2,109.9 55.7,110.8 56.1,109.1 54.8,108.0 56.5,107.8" fill="#800000"/>
<polygon points="58.4,106.1 59.1,107.7 60.8,107.8 59.5,108.9 59.9,110.6 58.4,109.7 56.9,110.6 57.3,108.9 56.0,107.8 57.7,107.7" fill="#800000"/>
<polygon points="59.6,102.5 60.3,104.1 62.0,104.3 60.7,105.4 61.1,107.1 59.6,106.2 58.1,107.1 58.5,105.4 57.2,104.3 58.9,104.1" fill="#800000"/>
<polygon points="60.8,102.6 61.5,104.2 63.2,104.3 61.9,105.5 62.3,107.2 60.8,106.2 59.3,107.2 59.7,105.5 58.4,104.3 60.1,104.2" fill="#800000"/>
<polygon points="62.0,101.5 62.7,103.1 64.4,103.2 63.1,104.4 63.5,106.1 62.0,105.2 60.5,106.1 60.9,104.4 59.6,103.2 61.3,103.1" fill="#800000"/>
<polygon points="63.2,100.6 63.9,102.2 65.6,102.3 64.3,103.4 64.7,105.1 63.2,104.2 61.7,105.1 62.1,103.4 60.8,102.3 62.5,102.2" fill="#800000"/>
<polygon points="64.4,102.2 65.1,103.8 66.8,103.9 65.5,105.0 65.9,106.7 64.4,105.8 62.9,106.7 63.3,105.0 62.0,103.9 63.7,103.8" fill="#800000"/>
<polygon points="65.6,103.7 66.3,105.3 68.0,105.5 66.7,106.6 67.1,108.3 65.6,107.4 64.1,108.3 64.5,106.6 63.2,105.5 64.9,105.3" fill="#800000"/>
<polygon points="66.8,103.7 67.5,105.3 69.2,105.4 67.9,106.6 68.3,108.2 66.8,107.3 65.3,108.2 65.7,106.6 64.4,105.4 66.1,105.3" fill="#800000"/>
<polygon points="68.0,105.1 68.7,106.7 70.4,106.9 69.1,108.0 69.5,109.7 68.0,108.8 66.5,109.7 66.9,108.0 65.6,106.9 67.3,106.7" fill="#800000"/>
<polygon points="69.3,104.5 69.9,106.1 71.7,106.2 70.3,107.3 70.7,109.0 69.3,108.1 67.8,109.0 68.2,107.3 66.9,106.2 68.6,106.1" fill="#800000"/>
<polygon points="70.5,105.6 71.2,107.2 72.9,107.4 71.6,108.5 72.0,110.2 70.5,109.3 69.0,110.2 69.4,108.5 68.1,107.4 69.8,107.2" fill="#800000"/>
<polygon points="71.8,106.2 72.4,107.8 74.2,108.0 72.8,109.1 73.3,110.8 71.8,109.9 70.3,110.8 70.7,109.1 69.4,108.0 71.1,107.8" fill="#800000"/>
<polygon points="73.0,108.3 73.7,109.9 75.4,110.0 74.1,111.1 74.5,112.8 73.0,111.9 71.5,112.8 72.0,111.1 70.6,110.0 72.4,109.9" fill="#800000"/>
<polygon points="74.3,110.4 75.0,112.0 76.7,112.1 75.4,113.3 75.8,114.9 74.3,114.0 72.8,114.9 73.2,113.3 71.9,112.1 73.6,112.0" fill="#800000"/>
<polygon points="75.5,110.4 76.2,112.0 77.9,112.1 76.6,113.3 77.0,114.9 75.5,114.0 74.1,114.9 74.5,113.3 73.1,112.1 74.9,112.0" fill="#800000"/>
<polygon points="76.8,111.8 77.5,113.5 79.2,113.6 77.9,114.7 78.3,116.4 76.8,115.5 75.3,116.4 75.7,114.7 74.4,113.6 76.1,113.5" fill="#800000"/>
<polygon points="78.0,109.6 78.7,111.2 80.4,111.4 79.1,112.5 79.5,114.2 78.0,113.3 76.6,114.2 77.0,112.5 75.6,111.4 77.4,111.2" fill="#800000"/>
<polygon points="79.3,109.5 79.9,111.1 81.7,111.3 80.4,112.4 80.8,114.1 79.3,113.2 77.8,114.1 78.2,112.4 76.9,111.3 78.6,111.1" fill="#800000"/>
<polygon points="80.5,106.6 81.2,108.2 82.9,108.3 81.6,109.5 82.0,111.2 80.5,110.3 79.0,111.2 79.4,109.5 78.1,108.3 79.9,108.2" fill="#800000"/>
<polygon points="81.8,106.0 82.4,107.6 84.2,107.8 82.8,108.9 83.2,110.6 81.8,109.7 80.3,110.6 80.7,108.9 79.4,107.8 81.1,107.6" fill="#800000"/>
<polygon points="83.0,106.0 83.7,107.6 85.4,107.7 84.1,108.8 84.5,110.5 83.0,109.6 81.5,110.5 81.9,108.8 80.6,107.7 82.3,107.6" fill="#800000"/>
<polygon points="84.3,105.1 85.0,106.7 86.7,106.9 85.4,108.0 85.8,109.7 84.3,108.8 82.8,109.7 83.2,108.0 81.9,106.9 83.6,106.7" fill="#800000"/>
<polygon points="85.6,103.3 86.3,104.9 88.0,105.0 86.7,106.1 87.1,107.8 85.6,106.9 84.1,107.8 84.5,106.1 83.2,105.0 84.9,104.9" fill="#800000"/>
<polygon points="86.9,101.3 87.6,102.9 89.3,103.1 88.0,104.2 88.4,105.9 86.9,105.0 85.4,105.9 85.8,104.2 84.5,103.1 86.2,102.9" fill="#800000"/>
<polygon points="88.2,100.8 88.9,102.4 90.6,102.6 89.3,103.7 89.7,105.4 88.2,104.5 86.7,105.4 87.1,103.7 85.8,102.6 87.5,102.4" fill="#800000"/>
<polygon points="89.5,99.7 90.2,101.3 91.9,101.4 90.6,102.5 91.0,104.2 89.5,103.3 88.0,104.2 88.4,102.5 87.1,101.4 88.8,101.3" fill="#800000"/>
<polygon points="90.6,100.5 91.3,102.1 93.0,102.2 91.7,103.3 92.1,105.0 90.6,104.1 89.1,105.0 89.5,103.3 88.2,102.2 89.9,102.1" fill="#800000"/>
<polygon points="91.7,102.5 92.4,104.1 94.1,104.3 92.8,105.4 93.2,107.1 91.7,106.2 90.2,107.1 90.6,105.4 89.3,104.3 91.0,104.1" fill="#800000"/>
<polygon points="92.8,101.4 93.5,103.0 95.2,103.2 93.9,104.3 94.3,106.0 92.8,105.1 91.3,106.0 91.7,104.3 90.4,103.2 92.1,103.0" fill="#800000"/>
<polygon points="93.9,104.0 94.6,105.6 96.3,105.7 95.0,106.8 95.4,108.5 93.9,107.6 92.4,108.5 92.8,106.8 91.5,105.7 93.2,105.6" fill="#800000"/>
<polygon points="95.0,104.5 95.7,106.1 97.4,106.3 96.1,107.4 96.5,109.1 95.0,108.2 93.5,109.1 93.9,107.4 92.6,106.3 94.3,106.1" fill="#800000"/>
<polygon points="96.2,102.7 96.9,104.3 98.6,104.5 97.3,105.6 97.7,107.3 96.2,106.4 94.8,107.3 95.2,105.6 93.9,104.5 95.6,104.3" fill="#800000"/>
<polygon points="97.5,104.1 98.2,105.7 99.9,105.9 98.6,107.0 99.0,108.7 97.5,107.8 96.0,108.7 96.4,107.0 95.1,105.9 96.8,105.7" fill="#800000"/>
<polygon points="98.8,105.0 99.4,106.6 101.1,106.7 99.8,107.8 100.2,109.5 98.8,108.6 97.3,109.5 97.7,107.8 96.4,106.7 98.1,106.6" fill="#800000"/>
<polygon points="100.0,104.1 100.7,105.7 102.4,105.9 101.1,107.0 101.5,108.7 100.0,107.8 98.5,108.7 98.9,107.0 97.6,105.9 99.3,105.7" fill="#800000"/>
<polygon points="101.1,105.4 101.8,107.0 103.5,107.2 102.2,108.3 102.6,110.0 101.1,109.1 99.6,110.0 100.0,108.3 98.7,107.2 100.4,107.0" fill="#800000"/>
<polygon points="102.2,106.9 102.9,108.5 104.6,108.7 103.3,109.8 103.7,111.5 102.2,110.6 100.7,111.5 101.1,109.8 99.8,108.7 101.6,108.5" fill="#800000"/>
<polygon points="103.3,104.9 104.0,106.5 105.7,106.6 104.4,107.7 104.8,109.4 103.3,108.5 101.9,109.4 102.3,107.7 100.9,106.6 102.7,106.5" fill="#800000"/>
<polygon points="104.4,106.4 105.1,108.0 106.8,108.1 105.5,109.2 105.9,110.9 104.4,110.0 103.0,110.9 103.4,109.2 102.0,108.1 103.8,108.0" fill="#800000"/>
<polygon points="105.6,105.2 106.2,106.8 108.0,106.9 106.6,108.1 107.0,109.8 105.6,108.9 104.1,109.8 104.5,108.1 103.2,106.9 104.9,106.8" fill="#800000"/>
<polygon points="106.7,106.6 107.3,108.2 109.1,108.4 107.7,109.5 108.1,111.2 106.7,110.3 105.2,111.2 105.6,109.5 104.3,108.4 106.0,108.2" fill="#800000"/>
<polygon points="107.8,107.7 108.4,109.3 110.2,109.4 108.9,110.5 109.3,112.2 107.8,111.3 106.3,112.2 106.7,110.5 105.4,109.4 107.1,109.3" fill="#800000"/>
<polygon points="108.9,105.9 109.6,107.5 111.3,107.6 110.0,108.8 110.4,110.5 108.9,109.5 107.4,110.5 107.8,108.8 106.5,107.6 108.2,107.5" fill="#800000"/>
<polygon points="110.0,105.5 110.7,107.1 112.4,107.2 111.1,108.4 111.5,110.1 110.0,109.2 108.5,110.1 108.9,108.4 107.6,107.2 109.3,107.1" fill="#800000"/>
<polygon points="111.3,104.6 111.9,106.2 113.7,106.3 112.3,107.4 112.7,109.1 111.3,108.2 109.8,109.1 110.2,107.4 108.9,106.3 110.6,106.2" fill="#800000"/>
<polygon points="112.5,104.7 113.2,106.3 114.9,106.5 113.6,107.6 114.0,109.3 112.5,108.4 111.0,109.3 111.4,107.6 110.1,106.5 111.9,106.3" fill="#800000"/>
<polygon points="113.8,102.1 114.4,103.7 116.2,103.9 114.9,105.0 115.3,106.7 113.8,105.8 112.3,106.7 112.7,105.0 111.4,103.9 113.1,103.7" fill="#800000"/>
<polygon points="115.0,101.2 115.7,102.8 117.4,102.9 116.1,104.0 116.5,105.7 115.0,104.8 113.6,105.7 114.0,104.0 112.6,102.9 114.4,102.8" fill="#800000"/>
<polygon points="116.3,101.2 117.0,102.8 118.7,102.9 117.4,104.0 117.8,105.7 116.3,104.8 114.8,105.7 115.2,104.0 113.9,102.9 115.6,102.8" fill="#800000"/>
<polygon points="117.5,102.6 118.2,104.2 119.9,104.3 118.6,105.4 119.0,107.1 117.5,106.2 116.0,107.1 116.4,105.4 115.1,104.3 116.9,104.2" fill="#800000"/>
<polygon points="118.8,101.4 119.4,103.0 121.1,103.1 119.8,104.2 120.2,105.9 118.8,105.0 117.3,105.9 117.7,104.2 116.4,103.1 118.1,103.0" fill="#800000"/>
<polygon points="120.0,101.5 120.6,103.1 122.4,103.2 121.1,104.4 121.5,106.1 120.0,105.1 118.5,106.1 118.9,104.4 117.6,103.2 119.3,103.1" fill="#800000"/>
<polygon points="121.2,102.4 121.9,104.0 123.6,104.1 122.3,105.2 122.7,106.9 121.2,106.0 119.7,106.9 120.1,105.2 118.8,104.1 120.5,104.0" fill="#800000"/>
<polygon points="122.4,101.8 123.1,103.4 124.8,103.5 123.5,104.7 123.9,106.4 122.4,105.5 121.0,106.4 121.4,104.7 120.0,103.5 121.8,103.4" fill="#800000"/>
<polygon points="123.7,104.1 124.3,105.7 126.1,105.9 124.8,107.0 125.2,108.7 123.7,107.8 122.2,108.7 122.6,107.0 121.3,105.9 123.0,105.7" fill="#800000"/>
<polygon points="124.9,104.0 125.6,105.6 127.3,105.7 126.0,106.8 126.4,108.5 124.9,107.6 123.4,108.5 123.8,106.8 122.5,105.7 124.2,105.6" fill="#800000"/>
<polygon points="126.2,106.1 126.8,107.7 128.5,107.9 127.2,109.0 127.6,110.7 126.2,109.8 124.7,110.7 125.1,109.0 123.8,107.9 125.5,107.7" fill="#800000"/>
<polygon points="127.4,108.1 128.1,109.7 129.8,109.8 128.5,110.9 128.9,112.6 127.4,111.7 125.9,112.6 126.3,110.9 125.0,109.8 126.7,109.7" fill="#800000"/>
<polygon points="128.6,106.5 129.3,108.1 131.0,108.2 129.7,109.4 130.1,111.1 128.6,110.2 127.1,111.1 127.5,109.4 126.2,108.2 128.0,108.1" fill="#800000"/>
<polygon points="129.9,108.9 130.5,110.5 132.3,110.6 130.9,111.7 131.3,113.4 129.9,112.5 128.4,113.4 128.8,111.7 127.5,110.6 129.2,110.5" fill="#800000"/>
<polygon points="131.1,110.0 131.8,111.6 133.5,111.7 132.2,112.8 132.6,114.5 131.1,113.6 129.6,114.5 130.0,112.8 128.7,111.7 130.4,111.6" fill="#800000"/>
<polygon points="132.3,107.8 133.0,109.4 134.7,109.5 133.4,110.7 133.8,112.4 132.3,111.5 130.8,112.4 131.2,110.7 129.9,109.5 131.6,109.4" fill="#800000"/>
<polygon points="133.5,107.2 134.2,108.8 135.9,109.0 134.6,110.1 135.0,111.8 133.5,110.9 132.0,111.8 132.5,110.1 131.1,109.0 132.9,108.8" fill="#800000"/>
<polygon points="134.7,108.4 135.4,110.0 137.1,110.1 135.8,111.2 136.2,112.9 134.7,112.0 133.3,112.9 133.7,111.2 132.3,110.1 134.1,110.0" fill="#800000"/>
<polygon points="136.0,107.5 136.6,109.1 138.4,109.2 137.0,110.3 137.4,112.0 136.0,111.1 134.5,112.0 134.9,110.3 133.6,109.2 135.3,109.1" fill="#800000"/>
<polygon points="137.2,104.1 137.8,105.7 139.6,105.9 138.2,107.0 138.7,108.7 137.2,107.8 135.7,108.7 136.1,107.0 134.8,105.9 136.5,105.7" fill="#800000"/>
<polygon points="138.4,104.9 139.1,106.5 140.8,106.6 139.5,107.7 139.9,109.4 138.4,108.5 136.9,109.4 137.3,107.7 136.0,106.6 137.7,106.5" fill="#800000"/>
<polygon points="139.6,104.6 140.3,106.2 142.0,106.4 140.7,107.5 141.1,109.2 139.6,108.3 138.1,109.2 138.5,107.5 137.2,106.4 138.9,106.2" fill="#800000"/>
<polygon points="140.8,101.8 141.4,103.4 143.2,103.6 141.9,104.7 142.3,106.4 140.8,105.5 139.3,106.4 139.7,104.7 138.4,103.6 140.1,103.4" fill="#800000"/>
<polygon points="142.0,102.0 142.6,103.6 144.4,103.8 143.0,104.9 143.4,106.6 142.0,105.7 140.5,106.6 140.9,104.9 139.6,103.8 141.3,103.6" fill="#800000"/>
<polygon points="143.1,99.6 143.8,101.2 145.5,101.3 144.2,102.5 144.6,104.2 143.1,103.3 141.7,104.2 142.1,102.5 140.8,101.3 142.5,101.2" fill="#800000"/>
<polygon points="144.3,99.7 145.0,101.3 146.7,101.4 145.4,102.5 145.8,104.2 144.3,103.3 142.9,104.2 143.3,102.5 141.9,101.4 143.7,101.3" fill="#800000"/>
<polygon points="145.5,99.7 146.2,101.3 147.9,101.4 146.6,102.6 147.0,104.3 145.5,103.4 144.0,104.3 144.4,102.6 143.1,101.4 144.9,101.3" fill="#800000"/>
<polygon points="146.7,98.6 147.4,100.2 149.1,100.4 147.8,101.5 148.2,103.2 146.7,102.3 145.2,103.2 145.6,101.5 144.3,100.4 146.0,100.2" fill="#800000"/>
<polygon points="147.9,100.6 148.5,102.2 150.3,102.3 148.9,103.4 149.3,105.1 147.9,104.2 146.4,105.1 146.8,103.4 145.5,102.3 147.2,102.2" fill="#800000"/>
<polygon points="149.0,100.1 149.7,101.7 151.4,101.8 150.1,102.9 150.5,104.6 149.0,103.7 147.6,104.6 148.0,102.9 146.6,101.8 148.4,101.7" fill="#800000"/>
<polygon points="150.2,102.2 150.9,103.8 152.6,103.9 151.3,105.1 151.7,106.8 150.2,105.9 148.7,106.8 149.1,105.1 147.8,103.9 149.5,103.8" fill="#800000"/>
<polygon points="151.4,105.1 152.0,106.7 153.8,106.8 152.4,107.9 152.8,109.6 151.4,108.7 149.9,109.6 150.3,107.9 149.0,106.8 150.7,106.7" fill="#800000"/>
<polygon points="152.5,105.7 153.2,107.3 154.9,107.4 153.6,108.6 154.0,110.3 152.5,109.4 151.1,110.3 151.5,108.6 150.1,107.4 151.9,107.3" fill="#800000"/>
<polygon points="153.7,106.7 154.4,108.3 156.1,108.5 154.8,109.6 155.2,111.3 153.7,110.4 152.2,111.3 152.6,109.6 151.3,108.5 153.0,108.3" fill="#800000"/>
<polygon points="154.9,106.8 155.6,108.4 157.3,108.5 156.0,109.7 156.4,111.4 154.9,110.5 153.4,111.4 153.8,109.7 152.5,108.5 154.2,108.4" fill="#800000"/>
<polygon points="156.1,108.6 156.8,110.2 158.5,110.4 157.2,111.5 157.6,113.2 156.1,112.3 154.6,113.2 155.1,111.5 153.7,110.4 155.5,110.2" fill="#800000"/>
<polygon points="157.3,107.7 158.0,109.3 159.7,109.4 158.4,110.6 158.8,112.2 157.3,111.3 155.9,112.2 156.3,110.6 154.9,109.4 156.7,109.3" fill="#800000"/>
<polygon points="158.6,106.3 159.2,107.9 161.0,108.1 159.6,109.2 160.0,110.9 158.6,110.0 157.1,110.9 157.5,109.2 156.2,108.1 157.9,107.9" fill="#800000"/>
<polygon points="159.8,108.7 160.4,110.3 162.2,110.5 160.8,111.6 161.3,113.3 159.8,112.4 158.3,113.3 158.7,111.6 157.4,110.5 159.1,110.3" fill="#800000"/>
<polygon points="161.0,107.6 161.7,109.2 163.4,109.3 162.1,110.5 162.5,112.2 161.0,111.3 159.5,112.2 159.9,110.5 158.6,109.3 160.3,109.2" fill="#800000"/>
<polygon points="162.2,108.1 162.9,109.7 164.6,109.8 163.3,111.0 163.7,112.7 162.2,111.7 160.7,112.7 161.1,111.0 159.8,109.8 161.5,109.7" fill="#800000"/>
<polygon points="163.4,107.1 164.1,108.7 165.8,108.8 164.5,109.9 164.9,111.6 163.4,110.7 161.9,111.6 162.3,109.9 161.0,108.8 162.7,108.7" fill="#800000"/>
<polygon points="164.6,107.3 165.3,108.9 167.0,109.1 165.7,110.2 166.1,111.9 164.6,111.0 163.1,111.9 163.6,110.2 162.2,109.1 164.0,108.9" fill="#800000"/>
<polygon points="165.8,106.6 166.5,108.2 168.2,108.3 166.9,109.5 167.3,111.1 165.8,110.2 164.4,111.1 164.8,109.5 163.4,108.3 165.2,108.2" fill="#800000"/>
<polygon points="167.1,105.5 167.7,107.1 169.5,107.3 168.1,108.4 168.5,110.1 167.1,109.2 165.6,110.1 166.0,108.4 164.7,107.3 166.4,107.1" fill="#800000"/>
<polygon points="168.3,106.6 168.9,108.2 170.7,108.4 169.3,109.5 169.8,111.2 168.3,110.3 166.8,111.2 167.2,109.5 165.9,108.4 167.6,108.2" fill="#800000"/>
<polygon points="169.5,104.8 170.2,106.4 171.9,106.5 170.6,107.6 171.0,109.3 169.5,108.4 168.0,109.3 168.4,107.6 167.1,106.5 168.8,106.4" fill="#800000"/>
<polygon points="170.7,105.5 171.4,107.1 173.1,107.2 171.8,108.4 172.2,110.0 170.7,109.1 169.2,110.0 169.6,108.4 168.3,107.2 170.0,107.1" fill="#800000"/>
<polyline points="51.0,88.2 52.2,89.7 53.4,91.9 54.5,91.6 55.6,94.0 56.7,94.7 57.9,95.0 59.0,94.3 60.1,96.0 61.2,96.2 62.4,95.2 63.6,96.3 64.8,95.6 66.1,92.2 67.3,93.6 68.5,92.1 69.7,90.7 70.8,90.1 72.0,90.9 73.1,90.0 74.2,90.4 75.3,90.1 76.5,88.3 77.6,89.8 78.7,90.1 79.9,89.8 81.0,88.5 82.1,87.3 83.2,87.6 84.3,88.3 85.4,91.0 86.6,89.6 87.7,90.2 88.8,92.0 89.9,90.8 91.0,91.8 92.2,90.6 93.3,88.6 94.5,89.1 95.7,88.9 96.8,86.0 98.0,85.2 99.2,86.4 100.4,85.9 101.6,87.8 102.8,89.3 104.0,89.4 105.2,89.5 106.4,90.8 107.5,89.2 108.7,90.8 109.9,90.6 111.0,91.8 112.2,90.9 113.3,93.3 114.4,91.9 115.6,92.6 116.7,94.9 117.8,95.8 118.9,94.8 120.1,95.3 121.2,95.3 122.5,93.6 123.7,92.8 125.0,89.8 126.2,87.8 127.4,88.8 128.5,88.0 129.7,89.3 130.8,89.8 132.0,89.7 133.1,88.8 134.2,88.5 135.4,88.7 136.5,88.1 137.6,90.8 138.7,90.3 139.8,90.9 140.9,90.9 142.0,92.6 143.1,93.6 144.2,93.7 145.3,95.6 146.4,94.6 147.5,93.0 148.7,93.4 149.8,94.0 150.9,92.5 152.3,90.4 153.8,86.5 155.2,85.4 156.4,85.8 157.6,86.1 158.8,86.7 160.0,87.6 161.2,88.0 162.4,88.4 163.6,88.0 164.8,89.7 166.0,92.1 167.1,91.5 168.3,91.4 169.5,92.3 170.7,94.6" fill="none" stroke="#808000" stroke-width="1.6" stroke-linejoin="round"/>
<polygon points="51.0,86.0 53.1,87.5 52.3,89.9 49.7,89.9 48.9,87.5" fill="#808000"/>
<polygon points="52.2,87.5 54.3,89.0 53.5,91.4 50.9,91.4 50.1,89.0" fill="#808000"/>
<polygon points="53.4,89.8 55.5,91.3 54.7,93.7 52.1,93.7 51.3,91.3" fill="#808000"/>
<polygon points="54.5,89.4 56.6,90.9 55.8,93.3 53.2,93.3 52.5,90.9" fill="#808000"/>
<polygon points="55.6,91.8 57.7,93.3 56.9,95.8 54.4,95.8 53.6,93.3" fill="#808000"/>
<polygon points="56.7,92.6 58.8,94.1 58.0,96.5 55.5,96.5 54.7,94.1" fill="#808000"/>
<polygon points="57.9,92.8 59.9,94.3 59.1,96.7 56.6,96.7 55.8,94.3" fill="#808000"/>
<polygon points="59.0,92.2 61.0,93.7 60.2,96.1 57.7,96.1 56.9,93.7" fill="#808000"/>
<polygon points="60.1,93.9 62.1,95.4 61.4,97.8 58.8,97.8 58.0,95.4" fill="#808000"/>
<polygon points="61.2,94.1 63.3,95.6 62.5,98.0 59.9,98.0 59.1,95.6" fill="#808000"/>
<polygon points="62.4,93.0 64.5,94.5 63.7,96.9 61.1,96.9 60.4,94.5" fill="#808000"/>
<polygon points="63.6,94.2 65.7,95.7 64.9,98.1 62.4,98.1 61.6,95.7" fill="#808000"/>
<polygon points="64.8,93.5 66.9,95.0 66.1,97.4 63.6,97.4 62.8,95.0" fill="#808000"/>
<polygon points="66.1,90.0 68.1,91.5 67.3,93.9 64.8,93.9 64.0,91.5" fill="#808000"/>
<polygon points="67.3,91.5 69.3,93.0 68.5,95.4 66.0,95.4 65.2,93.0" fill="#808000"/>
<polygon points="68.5,89.9 70.5,91.4 69.8,93.9 67.2,93.9 66.4,91.4" fill="#808000"/>
<polygon points="69.7,88.5 71.8,90.0 71.0,92.4 68.4,92.4 67.6,90.0" fill="#808000"/>
<polygon points="70.8,88.0 72.9,89.4 72.1,91.9 69.6,91.9 68.8,89.4" fill="#808000"/>
<polygon points="72.0,88.8 74.0,90.3 73.2,92.7 70.7,92.7 69.9,90.3" fill="#808000"/>
<polygon points="73.1,87.9 75.1,89.4 74.4,91.8 71.8,91.8 71.0,89.4" fill="#808000"/>
<polygon points="74.2,88.2 76.3,89.7 75.5,92.1 73.0,92.1 72.2,89.7" fill="#808000"/>
<polygon points="75.3,87.9 77.4,89.4 76.6,91.8 74.1,91.8 73.3,89.4" fill="#808000"/>
<polygon points="76.5,86.1 78.5,87.6 77.7,90.0 75.2,90.0 74.4,87.6" fill="#808000"/>
<polygon points="77.6,87.6 79.7,89.1 78.9,91.5 76.3,91.5 75.6,89.1" fill="#808000"/>
<polygon points="78.7,88.0 80.8,89.4 80.0,91.9 77.5,91.9 76.7,89.4" fill="#808000"/>
<polygon points="79.9,87.6 81.9,89.1 81.1,91.5 78.6,91.5 77.8,89.1" fill="#808000"/>
<polygon points="81.0,86.4 83.1,87.8 82.3,90.3 79.7,90.3 78.9,87.8" fill="#808000"/>
<polygon points="82.1,85.2 84.2,86.6 83.4,89.1 80.8,89.1 80.1,86.6" fill="#808000"/>
<polygon points="83.2,85.4 85.3,86.9 84.5,89.3 82.0,89.3 81.2,86.9" fill="#808000"/>
<polygon points="84.3,86.2 86.4,87.7 85.6,90.1 83.1,90.1 82.3,87.7" fill="#808000"/>
<polygon points="85.4,88.8 87.5,90.3 86.7,92.7 84.2,92.7 83.4,90.3" fill="#808000"/>
<polygon points="86.6,87.4 88.6,88.9 87.8,91.3 85.3,91.3 84.5,88.9" fill="#808000"/>
<polygon points="87.7,88.0 89.7,89.5 88.9,91.9 86.4,91.9 85.6,89.5" fill="#808000"/>
<polygon points="88.8,89.9 90.8,91.4 90.0,93.8 87.5,93.8 86.7,91.4" fill="#808000"/>
<polygon points="89.9,88.6 91.9,90.1 91.2,92.5 88.6,92.5 87.8,90.1" fill="#808000"/>
<polygon points="91.0,89.7 93.1,91.2 92.3,93.6 89.7,93.6 88.9,91.2" fill="#808000"/>
<polygon points="92.2,88.4 94.2,89.9 93.4,92.3 90.9,92.3 90.1,89.9" fill="#808000"/>
<polygon points="93.3,86.4 95.4,87.9 94.6,90.3 92.1,90.3 91.3,87.9" fill="#808000"/>
<polygon points="94.5,86.9 96.6,88.4 95.8,90.8 93.2,90.8 92.4,88.4" fill="#808000"/>
<polygon points="95.7,86.7 97.7,88.2 96.9,90.6 94.4,90.6 93.6,88.2" fill="#808000"/>
<polygon points="96.8,83.8 98.9,85.3 98.1,87.7 95.6,87.7 94.8,85.3" fill="#808000"/>
<polygon points="98.0,83.1 100.1,84.6 99.3,87.0 96.7,87.0 95.9,84.6" fill="#808000"/>
<polygon points="99.2,84.2 101.3,85.7 100.5,88.1 97.9,88.1 97.1,85.7" fill="#808000"/>
<polygon points="100.4,83.7 102.5,85.2 101.7,87.7 99.1,87.7 98.3,85.2" fill="#808000"/>
<polygon points="101.6,85.6 103.7,87.1 102.9,89.5 100.3,89.5 99.5,87.1" fill="#808000"/>
<polygon points="102.8,87.1 104.9,88.6 104.1,91.0 101.5,91.0 100.7,88.6" fill="#808000"/>
<polygon points="104.0,87.3 106.1,88.8 105.3,91.2 102.7,91.2 101.9,88.8" fill="#808000"/>
<polygon points="105.2,87.3 107.2,88.8 106.4,91.2 103.9,91.2 103.1,88.8" fill="#808000"/>
<polygon points="106.4,88.6 108.4,90.1 107.6,92.5 105.1,92.5 104.3,90.1" fill="#808000"/>
<polygon points="107.5,87.1 109.6,88.6 108.8,91.0 106.3,91.0 105.5,88.6" fill="#808000"/>
<polygon points="108.7,88.6 110.8,90.1 110.0,92.5 107.5,92.5 106.7,90.1" fill="#808000"/>
<polygon points="109.9,88.5 112.0,90.0 111.2,92.4 108.6,92.4 107.8,90.0" fill="#808000"/>
<polygon points="111.0,89.6 113.1,91.1 112.3,93.5 109.8,93.5 109.0,91.1" fill="#808000"/>
<polygon points="112.2,88.8 114.2,90.2 113.4,92.7 110.9,92.7 110.1,90.2" fill="#808000"/>
<polygon points="113.3,91.1 115.3,92.6 114.6,95.0 112.0,95.0 111.2,92.6" fill="#808000"/>
<polygon points="114.4,89.7 116.5,91.2 115.7,93.6 113.2,93.6 112.4,91.2" fill="#808000"/>
<polygon points="115.6,90.4 117.6,91.9 116.8,94.3 114.3,94.3 113.5,91.9" fill="#808000"/>
<polygon points="116.7,92.7 118.7,94.2 117.9,96.6 115.4,96.6 114.6,94.2" fill="#808000"/>
<polygon points="117.8,93.6 119.9,95.1 119.1,97.5 116.5,97.5 115.8,95.1" fill="#808000"/>
<polygon points="118.9,92.7 121.0,94.1 120.2,96.6 117.7,96.6 116.9,94.1" fill="#808000"/>
<polygon points="120.1,93.1 122.1,94.6 121.3,97.0 118.8,97.0 118.0,94.6" fill="#808000"/>
<polygon points="121.2,93.1 123.3,94.6 122.5,97.0 119.9,97.0 119.1,94.6" fill="#808000"/>
<polygon points="122.5,91.4 124.5,92.9 123.7,95.3 121.2,95.3 120.4,92.9" fill="#808000"/>
<polygon points="123.7,90.6 125.8,92.1 125.0,94.5 122.4,94.5 121.6,92.1" fill="#808000"/>
<polygon points="125.0,87.6 127.0,89.1 126.2,91.5 123.7,91.5 122.9,89.1" fill="#808000"/>
<polygon points="126.2,85.7 128.3,87.2 127.5,89.6 124.9,89.6 124.1,87.2" fill="#808000"/>
<polygon points="127.4,86.6 129.4,88.1 128.6,90.5 126.1,90.5 125.3,88.1" fill="#808000"/>
<polygon points="128.5,85.8 130.6,87.3 129.8,89.7 127.2,89.7 126.4,87.3" fill="#808000"/>
<polygon points="129.7,87.2 131.7,88.6 130.9,91.1 128.4,91.1 127.6,88.6" fill="#808000"/>
<polygon points="130.8,87.6 132.9,89.1 132.1,91.5 129.5,91.5 128.7,89.1" fill="#808000"/>
<polygon points="132.0,87.5 134.0,89.0 133.2,91.4 130.7,91.4 129.9,89.0" fill="#808000"/>
<polygon points="133.1,86.7 135.2,88.2 134.4,90.6 131.8,90.6 131.0,88.2" fill="#808000"/>
<polygon points="134.2,86.3 136.3,87.8 135.5,90.2 133.0,90.2 132.2,87.8" fill="#808000"/>
<polygon points="135.4,86.6 137.5,88.0 136.7,90.5 134.1,90.5 133.3,88.0" fill="#808000"/>
<polygon points="136.5,86.0 138.6,87.5 137.8,89.9 135.2,89.9 134.4,87.5" fill="#808000"/>
<polygon points="137.6,88.6 139.7,90.1 138.9,92.5 136.3,92.5 135.5,90.1" fill="#808000"/>
<polygon points="138.7,88.2 140.8,89.7 140.0,92.1 137.4,92.1 136.6,89.7" fill="#808000"/>
<polygon points="139.8,88.8 141.9,90.3 141.1,92.7 138.5,92.7 137.7,90.3" fill="#808000"/>
<polygon points="140.9,88.7 143.0,90.2 142.2,92.6 139.6,92.6 138.8,90.2" fill="#808000"/>
<polygon points="142.0,90.4 144.1,91.9 143.3,94.3 140.7,94.3 139.9,91.9" fill="#808000"/>
<polygon points="143.1,91.4 145.2,92.9 144.4,95.3 141.8,95.3 141.0,92.9" fill="#808000"/>
<polygon points="144.2,91.5 146.3,93.0 145.5,95.4 142.9,95.4 142.1,93.0" fill="#808000"/>
<polygon points="145.3,93.5 147.4,95.0 146.6,97.4 144.0,97.4 143.2,95.0" fill="#808000"/>
<polygon points="146.4,92.5 148.5,94.0 147.7,96.4 145.2,96.4 144.4,94.0" fill="#808000"/>
<polygon points="147.5,90.8 149.6,92.3 148.8,94.7 146.3,94.7 145.5,92.3" fill="#808000"/>
<polygon points="148.7,91.2 150.7,92.7 149.9,95.1 147.4,95.1 146.6,92.7" fill="#808000"/>
<polygon points="149.8,91.8 151.8,93.3 151.0,95.7 148.5,95.7 147.7,93.3" fill="#808000"/>
<polygon points="150.9,90.3 153.0,91.8 152.2,94.2 149.6,94.2 148.8,91.8" fill="#808000"/>
<polygon points="152.3,88.2 154.4,89.7 153.6,92.1 151.1,92.1 150.3,89.7" fill="#808000"/>
<polygon points="153.8,84.3 155.8,85.8 155.0,88.3 152.5,88.3 151.7,85.8" fill="#808000"/>
<polygon points="155.2,83.2 157.3,84.7 156.5,87.1 153.9,87.1 153.1,84.7" fill="#808000"/>
<polygon points="156.4,83.6 158.5,85.1 157.7,87.5 155.1,87.5 154.3,85.1" fill="#808000"/>
<polygon points="157.6,84.0 159.7,85.5 158.9,87.9 156.3,87.9 155.5,85.5" fill="#808000"/>
<polygon points="158.8,84.5 160.9,86.0 160.1,88.4 157.5,88.4 156.7,86.0" fill="#808000"/>
<polygon points="160.0,85.5 162.1,87.0 161.3,89.4 158.7,89.4 157.9,87.0" fill="#808000"/>
<polygon points="161.2,85.8 163.3,87.3 162.5,89.8 159.9,89.8 159.1,87.3" fill="#808000"/>
<polygon points="162.4,86.2 164.5,87.7 163.7,90.1 161.1,90.1 160.3,87.7" fill="#808000"/>
<polygon points="163.6,85.8 165.7,87.3 164.9,89.7 162.3,89.7 161.5,87.3" fill="#808000"/>
<polygon points="164.8,87.5 166.8,89.0 166.1,91.4 163.5,91.4 162.7,89.0" fill="#808000"/>
<polygon points="166.0,90.0 168.0,91.4 167.2,93.9 164.7,93.9 163.9,91.4" fill="#808000"/>
<polygon points="167.1,89.4 169.2,90.8 168.4,93.3 165.9,93.3 165.1,90.8" fill="#808000"/>
<polygon points="168.3,89.2 170.4,90.7 169.6,93.1 167.1,93.1 166.3,90.7" fill="#808000"/>
<polygon points="169.5,90.1 171.6,91.6 170.8,94.0 168.2,94.0 167.5,91.6" fill="#808000"/>
<polygon points="170.7,92.4 172.8,93.9 172.0,96.3 169.4,96.3 168.6,93.9" fill="#808000"/>
<polyline points="51.3,76.1 52.7,75.3 54.1,75.2 55.5,74.7 57.0,75.5 59.0,79.2 60.1,72.8 61.2,68.4 62.4,67.9 63.5,67.5 64.7,64.7 65.9,65.4 67.1,65.0 68.3,67.2 69.5,67.5 70.6,66.4 71.8,69.8 73.2,73.3 74.7,75.9 75.9,78.4 77.0,79.7 78.2,81.8 79.6,82.8 81.0,81.0 82.4,80.9 83.8,79.7 85.3,77.7 86.7,77.5 87.8,76.7 88.9,77.1 90.1,75.5 91.2,75.1 92.3,74.0 93.5,74.1 94.7,73.1 95.9,72.2 97.2,73.8 98.4,73.4 99.6,72.6 100.8,71.8 101.9,71.0 103.0,71.0 104.1,71.5 105.2,71.2 106.3,73.4 107.4,72.7 108.5,74.3 109.6,73.1 110.8,74.9 111.9,74.7 113.0,72.5 114.2,73.2 115.3,75.3 116.4,74.3 117.5,75.8 118.7,74.4 119.8,73.6 121.0,75.8 122.3,76.9 123.5,76.1 124.8,76.2 126.0,77.5 127.5,80.5 129.0,81.1 131.1,74.4 132.2,73.2 133.4,71.3 134.5,69.6 135.7,70.1 136.8,66.8 138.0,66.1 139.2,64.0 140.5,61.5 141.7,61.2 142.9,60.6 144.1,63.1 145.2,62.7 146.4,64.6 147.6,65.1 148.8,66.4 150.0,70.9 151.1,73.0 152.3,74.3 153.5,76.7 154.7,75.6 155.9,77.0 157.0,79.1 158.2,79.3 159.4,78.6 160.7,80.1 162.0,76.9 163.2,76.1 164.5,76.5 165.8,74.3 167.2,70.2 168.6,65.5 170.0,62.7" fill="none" stroke="#2f66a8" stroke-width="1.6" stroke-linejoin="round"/>
<circle cx="51.30" cy="76.07" r="1.25" fill="#9bbbe4" stroke="#2f66a8" stroke-width="1.1"/>
<circle cx="52.70" cy="75.27" r="1.25" fill="#9bbbe4" stroke="#2f66a8" stroke-width="1.1"/>
<circle cx="54.10" cy="75.19" r="1.25" fill="#9bbbe4" stroke="#2f66a8" stroke-width="1.1"/>
<circle cx="55.55" cy="74.65" r="1.25" fill="#9bbbe4" stroke="#2f66a8" stroke-width="1.1"/>
<circle cx="57.00" cy="75.52" r="1.25" fill="#9bbbe4" stroke="#2f66a8" stroke-width="1.1"/>
<circle cx="59.00" cy="79.24" r="1.25" fill="#9bbbe4" stroke="#2f66a8" stroke-width="1.1"/>
<circle cx="60.10" cy="72.82" r="1.25" fill="#9bbbe4" stroke="#2f66a8" stroke-width="1.1"/>
<circle cx="61.20" cy="68.43" r="1.25" fill="#9bbbe4" stroke="#2f66a8" stroke-width="1.1"/>
<circle cx="62.37" cy="67.90" r="1.25" fill="#9bbbe4" stroke="#2f66a8" stroke-width="1.1"/>
<circle cx="63.53" cy="67.49" r="1.25" fill="#9bbbe4" stroke="#2f66a8" stroke-width="1.1"/>
<circle cx="64.70" cy="64.66" r="1.25" fill="#9bbbe4" stroke="#2f66a8" stroke-width="1.1"/>
<circle cx="65.90" cy="65.42" r="1.25" fill="#9bbbe4" stroke="#2f66a8" stroke-width="1.1"/>
<circle cx="67.10" cy="64.99" r="1.25" fill="#9bbbe4" stroke="#2f66a8" stroke-width="1.1"/>
<circle cx="68.30" cy="67.17" r="1.25" fill="#9bbbe4" stroke="#2f66a8" stroke-width="1.1"/>
<circle cx="69.47" cy="67.54" r="1.25" fill="#9bbbe4" stroke="#2f66a8" stroke-width="1.1"/>
<circle cx="70.63" cy="66.42" r="1.25" fill="#9bbbe4" stroke="#2f66a8" stroke-width="1.1"/>
<circle cx="71.80" cy="69.75" r="1.25" fill="#9bbbe4" stroke="#2f66a8" stroke-width="1.1"/>
<circle cx="73.25" cy="73.25" r="1.25" fill="#9bbbe4" stroke="#2f66a8" stroke-width="1.1"/>
<circle cx="74.70" cy="75.93" r="1.25" fill="#9bbbe4" stroke="#2f66a8" stroke-width="1.1"/>
<circle cx="75.87" cy="78.39" r="1.25" fill="#9bbbe4" stroke="#2f66a8" stroke-width="1.1"/>
<circle cx="77.03" cy="79.67" r="1.25" fill="#9bbbe4" stroke="#2f66a8" stroke-width="1.1"/>
<circle cx="78.20" cy="81.84" r="1.25" fill="#9bbbe4" stroke="#2f66a8" stroke-width="1.1"/>
<circle cx="79.60" cy="82.81" r="1.25" fill="#9bbbe4" stroke="#2f66a8" stroke-width="1.1"/>
<circle cx="81.00" cy="81.03" r="1.25" fill="#9bbbe4" stroke="#2f66a8" stroke-width="1.1"/>
<circle cx="82.40" cy="80.93" r="1.25" fill="#9bbbe4" stroke="#2f66a8" stroke-width="1.1"/>
<circle cx="83.83" cy="79.68" r="1.25" fill="#9bbbe4" stroke="#2f66a8" stroke-width="1.1"/>
<circle cx="85.27" cy="77.68" r="1.25" fill="#9bbbe4" stroke="#2f66a8" stroke-width="1.1"/>
<circle cx="86.70" cy="77.50" r="1.25" fill="#9bbbe4" stroke="#2f66a8" stroke-width="1.1"/>
<circle cx="87.82" cy="76.71" r="1.25" fill="#9bbbe4" stroke="#2f66a8" stroke-width="1.1"/>
<circle cx="88.94" cy="77.12" r="1.25" fill="#9bbbe4" stroke="#2f66a8" stroke-width="1.1"/>
<circle cx="90.06" cy="75.49" r="1.25" fill="#9bbbe4" stroke="#2f66a8" stroke-width="1.1"/>
<circle cx="91.18" cy="75.11" r="1.25" fill="#9bbbe4" stroke="#2f66a8" stroke-width="1.1"/>
<circle cx="92.30" cy="74.00" r="1.25" fill="#9bbbe4" stroke="#2f66a8" stroke-width="1.1"/>
<circle cx="93.51" cy="74.05" r="1.25" fill="#9bbbe4" stroke="#2f66a8" stroke-width="1.1"/>
<circle cx="94.73" cy="73.08" r="1.25" fill="#9bbbe4" stroke="#2f66a8" stroke-width="1.1"/>
<circle cx="95.94" cy="72.18" r="1.25" fill="#9bbbe4" stroke="#2f66a8" stroke-width="1.1"/>
<circle cx="97.16" cy="73.79" r="1.25" fill="#9bbbe4" stroke="#2f66a8" stroke-width="1.1"/>
<circle cx="98.37" cy="73.39" r="1.25" fill="#9bbbe4" stroke="#2f66a8" stroke-width="1.1"/>
<circle cx="99.59" cy="72.55" r="1.25" fill="#9bbbe4" stroke="#2f66a8" stroke-width="1.1"/>
<circle cx="100.80" cy="71.78" r="1.25" fill="#9bbbe4" stroke="#2f66a8" stroke-width="1.1"/>
<circle cx="101.90" cy="70.98" r="1.25" fill="#9bbbe4" stroke="#2f66a8" stroke-width="1.1"/>
<circle cx="103.00" cy="71.04" r="1.25" fill="#9bbbe4" stroke="#2f66a8" stroke-width="1.1"/>
<circle cx="104.10" cy="71.51" r="1.25" fill="#9bbbe4" stroke="#2f66a8" stroke-width="1.1"/>
<circle cx="105.20" cy="71.20" r="1.25" fill="#9bbbe4" stroke="#2f66a8" stroke-width="1.1"/>
<circle cx="106.30" cy="73.45" r="1.25" fill="#9bbbe4" stroke="#2f66a8" stroke-width="1.1"/>
<circle cx="107.40" cy="72.72" r="1.25" fill="#9bbbe4" stroke="#2f66a8" stroke-width="1.1"/>
<circle cx="108.50" cy="74.27" r="1.25" fill="#9bbbe4" stroke="#2f66a8" stroke-width="1.1"/>
<circle cx="109.63" cy="73.13" r="1.25" fill="#9bbbe4" stroke="#2f66a8" stroke-width="1.1"/>
<circle cx="110.76" cy="74.88" r="1.25" fill="#9bbbe4" stroke="#2f66a8" stroke-width="1.1"/>
<circle cx="111.89" cy="74.72" r="1.25" fill="#9bbbe4" stroke="#2f66a8" stroke-width="1.1"/>
<circle cx="113.02" cy="72.50" r="1.25" fill="#9bbbe4" stroke="#2f66a8" stroke-width="1.1"/>
<circle cx="114.15" cy="73.24" r="1.25" fill="#9bbbe4" stroke="#2f66a8" stroke-width="1.1"/>
<circle cx="115.28" cy="75.35" r="1.25" fill="#9bbbe4" stroke="#2f66a8" stroke-width="1.1"/>
<circle cx="116.41" cy="74.27" r="1.25" fill="#9bbbe4" stroke="#2f66a8" stroke-width="1.1"/>
<circle cx="117.54" cy="75.85" r="1.25" fill="#9bbbe4" stroke="#2f66a8" stroke-width="1.1"/>
<circle cx="118.67" cy="74.36" r="1.25" fill="#9bbbe4" stroke="#2f66a8" stroke-width="1.1"/>
<circle cx="119.80" cy="73.60" r="1.25" fill="#9bbbe4" stroke="#2f66a8" stroke-width="1.1"/>
<circle cx="121.04" cy="75.80" r="1.25" fill="#9bbbe4" stroke="#2f66a8" stroke-width="1.1"/>
<circle cx="122.28" cy="76.86" r="1.25" fill="#9bbbe4" stroke="#2f66a8" stroke-width="1.1"/>
<circle cx="123.52" cy="76.08" r="1.25" fill="#9bbbe4" stroke="#2f66a8" stroke-width="1.1"/>
<circle cx="124.76" cy="76.20" r="1.25" fill="#9bbbe4" stroke="#2f66a8" stroke-width="1.1"/>
<circle cx="126.00" cy="77.53" r="1.25" fill="#9bbbe4" stroke="#2f66a8" stroke-width="1.1"/>
<circle cx="127.50" cy="80.50" r="1.25" fill="#9bbbe4" stroke="#2f66a8" stroke-width="1.1"/>
<circle cx="129.00" cy="81.12" r="1.25" fill="#9bbbe4" stroke="#2f66a8" stroke-width="1.1"/>
<circle cx="131.10" cy="74.43" r="1.25" fill="#9bbbe4" stroke="#2f66a8" stroke-width="1.1"/>
<circle cx="132.24" cy="73.23" r="1.25" fill="#9bbbe4" stroke="#2f66a8" stroke-width="1.1"/>
<circle cx="133.38" cy="71.26" r="1.25" fill="#9bbbe4" stroke="#2f66a8" stroke-width="1.1"/>
<circle cx="134.52" cy="69.59" r="1.25" fill="#9bbbe4" stroke="#2f66a8" stroke-width="1.1"/>
<circle cx="135.66" cy="70.09" r="1.25" fill="#9bbbe4" stroke="#2f66a8" stroke-width="1.1"/>
<circle cx="136.80" cy="66.80" r="1.25" fill="#9bbbe4" stroke="#2f66a8" stroke-width="1.1"/>
<circle cx="138.03" cy="66.09" r="1.25" fill="#9bbbe4" stroke="#2f66a8" stroke-width="1.1"/>
<circle cx="139.25" cy="64.00" r="1.25" fill="#9bbbe4" stroke="#2f66a8" stroke-width="1.1"/>
<circle cx="140.47" cy="61.51" r="1.25" fill="#9bbbe4" stroke="#2f66a8" stroke-width="1.1"/>
<circle cx="141.70" cy="61.25" r="1.25" fill="#9bbbe4" stroke="#2f66a8" stroke-width="1.1"/>
<circle cx="142.88" cy="60.63" r="1.25" fill="#9bbbe4" stroke="#2f66a8" stroke-width="1.1"/>
<circle cx="144.07" cy="63.14" r="1.25" fill="#9bbbe4" stroke="#2f66a8" stroke-width="1.1"/>
<circle cx="145.25" cy="62.73" r="1.25" fill="#9bbbe4" stroke="#2f66a8" stroke-width="1.1"/>
<circle cx="146.43" cy="64.64" r="1.25" fill="#9bbbe4" stroke="#2f66a8" stroke-width="1.1"/>
<circle cx="147.62" cy="65.13" r="1.25" fill="#9bbbe4" stroke="#2f66a8" stroke-width="1.1"/>
<circle cx="148.80" cy="66.36" r="1.25" fill="#9bbbe4" stroke="#2f66a8" stroke-width="1.1"/>
<circle cx="149.97" cy="70.92" r="1.25" fill="#9bbbe4" stroke="#2f66a8" stroke-width="1.1"/>
<circle cx="151.13" cy="73.05" r="1.25" fill="#9bbbe4" stroke="#2f66a8" stroke-width="1.1"/>
<circle cx="152.30" cy="74.25" r="1.25" fill="#9bbbe4" stroke="#2f66a8" stroke-width="1.1"/>
<circle cx="153.48" cy="76.69" r="1.25" fill="#9bbbe4" stroke="#2f66a8" stroke-width="1.1"/>
<circle cx="154.67" cy="75.62" r="1.25" fill="#9bbbe4" stroke="#2f66a8" stroke-width="1.1"/>
<circle cx="155.85" cy="76.95" r="1.25" fill="#9bbbe4" stroke="#2f66a8" stroke-width="1.1"/>
<circle cx="157.03" cy="79.06" r="1.25" fill="#9bbbe4" stroke="#2f66a8" stroke-width="1.1"/>
<circle cx="158.22" cy="79.28" r="1.25" fill="#9bbbe4" stroke="#2f66a8" stroke-width="1.1"/>
<circle cx="159.40" cy="78.58" r="1.25" fill="#9bbbe4" stroke="#2f66a8" stroke-width="1.1"/>
<circle cx="160.68" cy="80.09" r="1.25" fill="#9bbbe4" stroke="#2f66a8" stroke-width="1.1"/>
<circle cx="161.96" cy="76.94" r="1.25" fill="#9bbbe4" stroke="#2f66a8" stroke-width="1.1"/>
<circle cx="163.24" cy="76.08" r="1.25" fill="#9bbbe4" stroke="#2f66a8" stroke-width="1.1"/>
<circle cx="164.52" cy="76.54" r="1.25" fill="#9bbbe4" stroke="#2f66a8" stroke-width="1.1"/>
<circle cx="165.80" cy="74.32" r="1.25" fill="#9bbbe4" stroke="#2f66a8" stroke-width="1.1"/>
<circle cx="167.20" cy="70.20" r="1.25" fill="#9bbbe4" stroke="#2f66a8" stroke-width="1.1"/>
<circle cx="168.60" cy="65.54" r="1.25" fill="#9bbbe4" stroke="#2f66a8" stroke-width="1.1"/>
<circle cx="170.00" cy="62.70" r="1.25" fill="#9bbbe4" stroke="#2f66a8" stroke-width="1.1"/>
</g>
<rect x="41.50" y="49.50" width="182.00" height="160.50" fill="none" stroke="#222" stroke-width="1.3"/>
<path d="M38.50,194.00H41.50M38.50,162.00H41.50M38.50,130.00H41.50M38.50,98.00H41.50M38.50,66.00H41.50M39.70,178.00H41.50M39.70,146.00H41.50M39.70,114.00H41.50M39.70,82.00H41.50M39.70,50.00H41.50" stroke="#111" stroke-width="1.25" fill="none"/>
<g transform="translate(36.80 197.50) scale(0.830 1)"><text x="0" y="0" font-size="12.0" text-anchor="end" font-weight="bold" fill="#000">1.56</text></g>
<g transform="translate(36.80 165.50) scale(0.830 1)"><text x="0" y="0" font-size="12.0" text-anchor="end" font-weight="bold" fill="#000">1.57</text></g>
<g transform="translate(36.80 133.50) scale(0.830 1)"><text x="0" y="0" font-size="12.0" text-anchor="end" font-weight="bold" fill="#000">1.58</text></g>
<g transform="translate(36.80 101.50) scale(0.830 1)"><text x="0" y="0" font-size="12.0" text-anchor="end" font-weight="bold" fill="#000">1.59</text></g>
<g transform="translate(36.80 69.50) scale(0.830 1)"><text x="0" y="0" font-size="12.0" text-anchor="end" font-weight="bold" fill="#000">1.60</text></g>
<path d="M41.50,210.00V213.00M67.50,210.00V213.00M93.50,210.00V213.00M119.50,210.00V213.00M145.50,210.00V213.00M171.50,210.00V213.00M197.50,210.00V213.00M223.50,210.00V213.00M54.50,210.00V211.80M80.50,210.00V211.80M106.50,210.00V211.80M132.50,210.00V211.80M158.50,210.00V211.80M184.50,210.00V211.80M210.50,210.00V211.80" stroke="#111" stroke-width="1.25" fill="none"/>
<g transform="translate(41.50 224.60) scale(0.830 1)"><text x="0" y="0" font-size="12.0" text-anchor="middle" font-weight="bold" fill="#000">0</text></g>
<g transform="translate(67.50 224.60) scale(0.830 1)"><text x="0" y="0" font-size="12.0" text-anchor="middle" font-weight="bold" fill="#000">10</text></g>
<g transform="translate(93.50 224.60) scale(0.830 1)"><text x="0" y="0" font-size="12.0" text-anchor="middle" font-weight="bold" fill="#000">20</text></g>
<g transform="translate(119.50 224.60) scale(0.830 1)"><text x="0" y="0" font-size="12.0" text-anchor="middle" font-weight="bold" fill="#000">30</text></g>
<g transform="translate(145.50 224.60) scale(0.830 1)"><text x="0" y="0" font-size="12.0" text-anchor="middle" font-weight="bold" fill="#000">40</text></g>
<g transform="translate(171.50 224.60) scale(0.830 1)"><text x="0" y="0" font-size="12.0" text-anchor="middle" font-weight="bold" fill="#000">50</text></g>
<g transform="translate(197.50 224.60) scale(0.830 1)"><text x="0" y="0" font-size="12.0" text-anchor="middle" font-weight="bold" fill="#000">60</text></g>
<g transform="translate(223.50 224.60) scale(0.830 1)"><text x="0" y="0" font-size="12.0" text-anchor="middle" font-weight="bold" fill="#000">70</text></g>
<text x="10.90" y="130.35" font-size="12" text-anchor="middle" font-weight="bold" letter-spacing="1.3" textLength="75" lengthAdjust="spacingAndGlyphs" transform="rotate(-90 10.90 130.35)">Current (mA)</text>
<text x="124.9" y="238.8" font-size="11.5" text-anchor="middle" font-weight="bold" fill="#000" textLength="42.4" lengthAdjust="spacingAndGlyphs">Time (µs)</text>
<line x1="171.50" y1="60.50" x2="188.90" y2="60.50" stroke="#000000" stroke-width="1.0"/>
<rect x="178.30" y="58.60" width="3.80" height="3.80" fill="#000000"/>
<g transform="translate(191.20 62.60) scale(0.860 1)"><text x="0" y="0" font-size="9.0" text-anchor="start" font-weight="bold" fill="#000">Aptamer</text></g>
<line x1="171.50" y1="72.75" x2="188.90" y2="72.75" stroke="#ff0000" stroke-width="1.0"/>
<circle cx="180.20" cy="72.75" r="1.99" fill="#ff0000"/>
<g transform="translate(191.20 74.85) scale(0.860 1)"><text x="0" y="0" font-size="9.0" text-anchor="start" font-weight="bold" fill="#000">BSA-1st</text></g>
<line x1="171.50" y1="85.00" x2="188.90" y2="85.00" stroke="#0000ff" stroke-width="1.0"/>
<polygon points="180.2,82.7 182.4,86.5 178.0,86.5" fill="#0000ff"/>
<g transform="translate(191.20 87.10) scale(0.860 1)"><text x="0" y="0" font-size="9.0" text-anchor="start" font-weight="bold" fill="#000">BSA-2nd</text></g>
<line x1="171.50" y1="97.25" x2="188.90" y2="97.25" stroke="#ff00ff" stroke-width="1.0"/>
<polygon points="180.2,99.5 182.4,95.7 178.0,95.7" fill="#ff00ff"/>
<g transform="translate(191.20 99.35) scale(0.860 1)"><text x="0" y="0" font-size="9.0" text-anchor="start" font-weight="bold" fill="#000">1fM</text></g>
<line x1="171.50" y1="109.50" x2="188.90" y2="109.50" stroke="#008000" stroke-width="1.0"/>
<polygon points="180.2,107.0 182.3,109.5 180.2,112.0 178.1,109.5" fill="#008000"/>
<g transform="translate(191.20 111.60) scale(0.860 1)"><text x="0" y="0" font-size="9.0" text-anchor="start" font-weight="bold" fill="#000">10fM</text></g>
<line x1="171.50" y1="121.75" x2="188.90" y2="121.75" stroke="#000080" stroke-width="1.0"/>
<polygon points="177.9,121.8 181.7,119.6 181.7,123.9" fill="#000080"/>
<g transform="translate(191.20 123.85) scale(0.860 1)"><text x="0" y="0" font-size="9.0" text-anchor="start" font-weight="bold" fill="#000">100fM</text></g>
<line x1="171.50" y1="134.00" x2="188.90" y2="134.00" stroke="#8000ff" stroke-width="1.0"/>
<polygon points="182.5,134.0 178.7,131.8 178.7,136.2" fill="#8000ff"/>
<g transform="translate(191.20 136.10) scale(0.860 1)"><text x="0" y="0" font-size="9.0" text-anchor="start" font-weight="bold" fill="#000">10pM</text></g>
<line x1="171.50" y1="146.25" x2="188.90" y2="146.25" stroke="#800080" stroke-width="1.0"/>
<polygon points="182.4,146.2 181.3,148.1 179.1,148.1 178.0,146.2 179.1,144.4 181.3,144.4" fill="#800080"/>
<g transform="translate(191.20 148.35) scale(0.860 1)"><text x="0" y="0" font-size="9.0" text-anchor="start" font-weight="bold" fill="#000">2.6nM</text></g>
<line x1="171.50" y1="158.50" x2="188.90" y2="158.50" stroke="#800000" stroke-width="1.0"/>
<polygon points="180.2,155.8 180.9,157.5 182.7,157.7 181.3,158.9 181.8,160.7 180.2,159.7 178.6,160.7 179.1,158.9 177.7,157.7 179.5,157.5" fill="#800000"/>
<g transform="translate(191.20 160.60) scale(0.860 1)"><text x="0" y="0" font-size="9.0" text-anchor="start" font-weight="bold" fill="#000">9nM</text></g>
<line x1="171.50" y1="170.75" x2="188.90" y2="170.75" stroke="#808000" stroke-width="1.0"/>
<polygon points="180.2,168.5 182.4,170.0 181.5,172.6 178.9,172.6 178.0,170.0" fill="#808000"/>
<g transform="translate(191.20 172.85) scale(0.860 1)"><text x="0" y="0" font-size="9.0" text-anchor="start" font-weight="bold" fill="#000">26nM</text></g>
<line x1="171.50" y1="183.00" x2="188.90" y2="183.00" stroke="#2f66a8" stroke-width="1.0"/>
<circle cx="180.20" cy="183.00" r="1.71" fill="#b5cdee" stroke="#2f66a8" stroke-width="0.95"/>
<g transform="translate(191.20 185.10) scale(0.860 1)"><text x="0" y="0" font-size="9.0" text-anchor="start" font-weight="bold" fill="#000">100nM</text></g>
<text x="245.3" y="11.5" font-size="14" text-anchor="start" font-weight="bold" fill="#000">(b)</text>
<text x="267.1" y="35.3" font-size="10.6" text-anchor="start" font-weight="bold" fill="#000" textLength="153.5" lengthAdjust="spacingAndGlyphs">Accumulated charges for different</text>
<text x="267.1" y="51.7" font-size="10.6" text-anchor="start" font-weight="bold" fill="#000" textLength="132.1" lengthAdjust="spacingAndGlyphs">CRP concentrations in 1xPBS</text>
<polyline points="270.8,195.5 279.4,192.4 287.9,189.2 296.5,186.1 305.1,182.9 313.6,179.8 322.2,176.6 330.8,173.5 339.3,170.4 347.9,167.2 356.4,164.1 365.0,160.9 373.6,157.8 382.1,154.6 390.7,151.5" fill="none" stroke="#000000" stroke-width="1.0" stroke-linejoin="round"/>
<rect x="268.82" y="193.50" width="4.00" height="4.00" fill="#000000"/>
<rect x="277.39" y="190.36" width="4.00" height="4.00" fill="#000000"/>
<rect x="285.95" y="187.21" width="4.00" height="4.00" fill="#000000"/>
<rect x="294.51" y="184.07" width="4.00" height="4.00" fill="#000000"/>
<rect x="303.07" y="180.93" width="4.00" height="4.00" fill="#000000"/>
<rect x="311.63" y="177.79" width="4.00" height="4.00" fill="#000000"/>
<rect x="320.19" y="174.64" width="4.00" height="4.00" fill="#000000"/>
<rect x="328.75" y="171.50" width="4.00" height="4.00" fill="#000000"/>
<rect x="337.31" y="168.36" width="4.00" height="4.00" fill="#000000"/>
<rect x="345.87" y="165.21" width="4.00" height="4.00" fill="#000000"/>
<rect x="354.43" y="162.07" width="4.00" height="4.00" fill="#000000"/>
<rect x="362.99" y="158.93" width="4.00" height="4.00" fill="#000000"/>
<rect x="371.55" y="155.79" width="4.00" height="4.00" fill="#000000"/>
<rect x="380.11" y="152.64" width="4.00" height="4.00" fill="#000000"/>
<rect x="388.68" y="149.50" width="4.00" height="4.00" fill="#000000"/>
<polyline points="270.8,195.5 279.4,191.9 287.9,188.4 296.5,184.8 305.1,181.3 313.6,177.8 322.2,174.2 330.8,170.7 339.3,167.1 347.9,163.6 356.4,160.0 365.0,156.5 373.6,152.9 382.1,149.4 390.7,145.8" fill="none" stroke="#ff0000" stroke-width="1.0" stroke-linejoin="round"/>
<circle cx="270.82" cy="195.50" r="2.10" fill="#ff0000"/>
<circle cx="279.39" cy="191.95" r="2.10" fill="#ff0000"/>
<circle cx="287.95" cy="188.40" r="2.10" fill="#ff0000"/>
<circle cx="296.51" cy="184.85" r="2.10" fill="#ff0000"/>
<circle cx="305.07" cy="181.30" r="2.10" fill="#ff0000"/>
<circle cx="313.63" cy="177.75" r="2.10" fill="#ff0000"/>
<circle cx="322.19" cy="174.20" r="2.10" fill="#ff0000"/>
<circle cx="330.75" cy="170.65" r="2.10" fill="#ff0000"/>
<circle cx="339.31" cy="167.10" r="2.10" fill="#ff0000"/>
<circle cx="347.87" cy="163.55" r="2.10" fill="#ff0000"/>
<circle cx="356.43" cy="160.00" r="2.10" fill="#ff0000"/>
<circle cx="364.99" cy="156.45" r="2.10" fill="#ff0000"/>
<circle cx="373.55" cy="152.90" r="2.10" fill="#ff0000"/>
<circle cx="382.11" cy="149.35" r="2.10" fill="#ff0000"/>
<circle cx="390.68" cy="145.80" r="2.10" fill="#ff0000"/>
<polyline points="270.8,195.5 279.4,191.8 287.9,188.1 296.5,184.3 305.1,180.6 313.6,176.9 322.2,173.2 330.8,169.4 339.3,165.7 347.9,162.0 356.4,158.3 365.0,154.6 373.6,150.8 382.1,147.1 390.7,143.4" fill="none" stroke="#0000ff" stroke-width="1.0" stroke-linejoin="round"/>
<polygon points="270.8,193.1 273.1,197.1 268.5,197.1" fill="#0000ff"/>
<polygon points="279.4,189.4 281.7,193.4 277.1,193.4" fill="#0000ff"/>
<polygon points="287.9,185.7 290.2,189.7 285.6,189.7" fill="#0000ff"/>
<polygon points="296.5,181.9 298.8,185.9 294.2,185.9" fill="#0000ff"/>
<polygon points="305.1,178.2 307.4,182.2 302.8,182.2" fill="#0000ff"/>
<polygon points="313.6,174.5 315.9,178.5 311.3,178.5" fill="#0000ff"/>
<polygon points="322.2,170.8 324.5,174.8 319.9,174.8" fill="#0000ff"/>
<polygon points="330.8,167.0 333.1,171.0 328.4,171.0" fill="#0000ff"/>
<polygon points="339.3,163.3 341.6,167.3 337.0,167.3" fill="#0000ff"/>
<polygon points="347.9,159.6 350.2,163.6 345.6,163.6" fill="#0000ff"/>
<polygon points="356.4,155.9 358.7,159.9 354.1,159.9" fill="#0000ff"/>
<polygon points="365.0,152.2 367.3,156.2 362.7,156.2" fill="#0000ff"/>
<polygon points="373.6,148.4 375.9,152.4 371.3,152.4" fill="#0000ff"/>
<polygon points="382.1,144.7 384.4,148.7 379.8,148.7" fill="#0000ff"/>
<polygon points="390.7,141.0 393.0,145.0 388.4,145.0" fill="#0000ff"/>
<polyline points="270.8,195.5 279.4,189.8 287.9,184.1 296.5,178.4 305.1,172.7 313.6,167.0 322.2,161.3 330.8,155.7 339.3,150.0 347.9,144.3 356.4,138.6 365.0,132.9 373.6,127.2 382.1,121.5 390.7,115.8" fill="none" stroke="#ff00ff" stroke-width="1.0" stroke-linejoin="round"/>
<polygon points="270.8,197.9 273.1,193.9 268.5,193.9" fill="#ff00ff"/>
<polygon points="279.4,192.2 281.7,188.2 277.1,188.2" fill="#ff00ff"/>
<polygon points="287.9,186.5 290.2,182.5 285.6,182.5" fill="#ff00ff"/>
<polygon points="296.5,180.8 298.8,176.8 294.2,176.8" fill="#ff00ff"/>
<polygon points="305.1,175.1 307.4,171.1 302.8,171.1" fill="#ff00ff"/>
<polygon points="313.6,169.4 315.9,165.4 311.3,165.4" fill="#ff00ff"/>
<polygon points="322.2,163.7 324.5,159.7 319.9,159.7" fill="#ff00ff"/>
<polygon points="330.8,158.1 333.1,154.1 328.4,154.1" fill="#ff00ff"/>
<polygon points="339.3,152.4 341.6,148.4 337.0,148.4" fill="#ff00ff"/>
<polygon points="347.9,146.7 350.2,142.7 345.6,142.7" fill="#ff00ff"/>
<polygon points="356.4,141.0 358.7,137.0 354.1,137.0" fill="#ff00ff"/>
<polygon points="365.0,135.3 367.3,131.3 362.7,131.3" fill="#ff00ff"/>
<polygon points="373.6,129.6 375.9,125.6 371.3,125.6" fill="#ff00ff"/>
<polygon points="382.1,123.9 384.4,119.9 379.8,119.9" fill="#ff00ff"/>
<polygon points="390.7,118.2 393.0,114.2 388.4,114.2" fill="#ff00ff"/>
<polyline points="270.8,195.5 279.4,189.9 287.9,184.3 296.5,178.7 305.1,173.1 313.6,167.5 322.2,161.9 330.8,156.2 339.3,150.6 347.9,145.0 356.4,139.4 365.0,133.8 373.6,128.2 382.1,122.6 390.7,117.0" fill="none" stroke="#008000" stroke-width="1.0" stroke-linejoin="round"/>
<polygon points="270.8,192.9 273.0,195.5 270.8,198.1 268.6,195.5" fill="#008000"/>
<polygon points="279.4,187.3 281.6,189.9 279.4,192.5 277.2,189.9" fill="#008000"/>
<polygon points="287.9,181.7 290.1,184.3 287.9,186.9 285.7,184.3" fill="#008000"/>
<polygon points="296.5,176.1 298.7,178.7 296.5,181.3 294.3,178.7" fill="#008000"/>
<polygon points="305.1,170.5 307.3,173.1 305.1,175.7 302.9,173.1" fill="#008000"/>
<polygon points="313.6,164.9 315.8,167.5 313.6,170.1 311.4,167.5" fill="#008000"/>
<polygon points="322.2,159.3 324.4,161.9 322.2,164.5 320.0,161.9" fill="#008000"/>
<polygon points="330.8,153.7 332.9,156.2 330.8,158.8 328.6,156.2" fill="#008000"/>
<polygon points="339.3,148.0 341.5,150.6 339.3,153.2 337.1,150.6" fill="#008000"/>
<polygon points="347.9,142.4 350.1,145.0 347.9,147.6 345.7,145.0" fill="#008000"/>
<polygon points="356.4,136.8 358.6,139.4 356.4,142.0 354.2,139.4" fill="#008000"/>
<polygon points="365.0,131.2 367.2,133.8 365.0,136.4 362.8,133.8" fill="#008000"/>
<polygon points="373.6,125.6 375.8,128.2 373.6,130.8 371.4,128.2" fill="#008000"/>
<polygon points="382.1,120.0 384.3,122.6 382.1,125.2 379.9,122.6" fill="#008000"/>
<polygon points="390.7,114.4 392.9,117.0 390.7,119.6 388.5,117.0" fill="#008000"/>
<polyline points="270.8,195.5 279.4,190.0 287.9,184.5 296.5,178.9 305.1,173.4 313.6,167.9 322.2,162.4 330.8,156.8 339.3,151.3 347.9,145.8 356.4,140.3 365.0,134.8 373.6,129.2 382.1,123.7 390.7,118.2" fill="none" stroke="#000080" stroke-width="1.0" stroke-linejoin="round"/>
<polygon points="268.4,195.5 272.4,193.2 272.4,197.8" fill="#000080"/>
<polygon points="277.0,190.0 281.0,187.7 281.0,192.3" fill="#000080"/>
<polygon points="285.5,184.5 289.5,182.2 289.5,186.8" fill="#000080"/>
<polygon points="294.1,178.9 298.1,176.6 298.1,181.2" fill="#000080"/>
<polygon points="302.7,173.4 306.7,171.1 306.7,175.7" fill="#000080"/>
<polygon points="311.2,167.9 315.2,165.6 315.2,170.2" fill="#000080"/>
<polygon points="319.8,162.4 323.8,160.1 323.8,164.7" fill="#000080"/>
<polygon points="328.4,156.8 332.4,154.5 332.4,159.2" fill="#000080"/>
<polygon points="336.9,151.3 340.9,149.0 340.9,153.6" fill="#000080"/>
<polygon points="345.5,145.8 349.5,143.5 349.5,148.1" fill="#000080"/>
<polygon points="354.0,140.3 358.0,138.0 358.0,142.6" fill="#000080"/>
<polygon points="362.6,134.8 366.6,132.5 366.6,137.1" fill="#000080"/>
<polygon points="371.2,129.2 375.2,126.9 375.2,131.5" fill="#000080"/>
<polygon points="379.7,123.7 383.7,121.4 383.7,126.0" fill="#000080"/>
<polygon points="388.3,118.2 392.3,115.9 392.3,120.5" fill="#000080"/>
<polyline points="270.8,195.5 279.4,189.7 287.9,183.9 296.5,178.2 305.1,172.4 313.6,166.6 322.2,160.8 330.8,155.1 339.3,149.3 347.9,143.5 356.4,137.7 365.0,131.9 373.6,126.2 382.1,120.4 390.7,114.6" fill="none" stroke="#8000ff" stroke-width="1.0" stroke-linejoin="round"/>
<polygon points="273.2,195.5 269.2,193.2 269.2,197.8" fill="#8000ff"/>
<polygon points="281.8,189.7 277.8,187.4 277.8,192.0" fill="#8000ff"/>
<polygon points="290.3,183.9 286.3,181.6 286.3,186.2" fill="#8000ff"/>
<polygon points="298.9,178.2 294.9,175.9 294.9,180.5" fill="#8000ff"/>
<polygon points="307.5,172.4 303.5,170.1 303.5,174.7" fill="#8000ff"/>
<polygon points="316.0,166.6 312.0,164.3 312.0,168.9" fill="#8000ff"/>
<polygon points="324.6,160.8 320.6,158.5 320.6,163.1" fill="#8000ff"/>
<polygon points="333.1,155.1 329.1,152.8 329.1,157.4" fill="#8000ff"/>
<polygon points="341.7,149.3 337.7,147.0 337.7,151.6" fill="#8000ff"/>
<polygon points="350.3,143.5 346.3,141.2 346.3,145.8" fill="#8000ff"/>
<polygon points="358.8,137.7 354.8,135.4 354.8,140.0" fill="#8000ff"/>
<polygon points="367.4,131.9 363.4,129.6 363.4,134.2" fill="#8000ff"/>
<polygon points="376.0,126.2 372.0,123.9 372.0,128.5" fill="#8000ff"/>
<polygon points="384.5,120.4 380.5,118.1 380.5,122.7" fill="#8000ff"/>
<polygon points="393.1,114.6 389.1,112.3 389.1,116.9" fill="#8000ff"/>
<polyline points="270.8,195.5 279.4,189.3 287.9,183.1 296.5,176.9 305.1,170.7 313.6,164.5 322.2,158.3 330.8,152.1 339.3,145.9 347.9,139.7 356.4,133.5 365.0,127.3 373.6,121.1 382.1,114.9 390.7,108.7" fill="none" stroke="#800080" stroke-width="1.0" stroke-linejoin="round"/>
<polygon points="273.1,195.5 272.0,197.5 269.7,197.5 268.5,195.5 269.7,193.5 272.0,193.5" fill="#800080"/>
<polygon points="281.7,189.3 280.5,191.3 278.2,191.3 277.1,189.3 278.2,187.3 280.5,187.3" fill="#800080"/>
<polygon points="290.2,183.1 289.1,185.1 286.8,185.1 285.6,183.1 286.8,181.1 289.1,181.1" fill="#800080"/>
<polygon points="298.8,176.9 297.7,178.9 295.4,178.9 294.2,176.9 295.4,174.9 297.7,174.9" fill="#800080"/>
<polygon points="307.4,170.7 306.2,172.7 303.9,172.7 302.8,170.7 303.9,168.7 306.2,168.7" fill="#800080"/>
<polygon points="315.9,164.5 314.8,166.5 312.5,166.5 311.3,164.5 312.5,162.5 314.8,162.5" fill="#800080"/>
<polygon points="324.5,158.3 323.3,160.3 321.0,160.3 319.9,158.3 321.0,156.3 323.3,156.3" fill="#800080"/>
<polygon points="333.1,152.1 331.9,154.1 329.6,154.1 328.4,152.1 329.6,150.1 331.9,150.1" fill="#800080"/>
<polygon points="341.6,145.9 340.5,147.9 338.2,147.9 337.0,145.9 338.2,143.9 340.5,143.9" fill="#800080"/>
<polygon points="350.2,139.7 349.0,141.7 346.7,141.7 345.6,139.7 346.7,137.7 349.0,137.7" fill="#800080"/>
<polygon points="358.7,133.5 357.6,135.5 355.3,135.5 354.1,133.5 355.3,131.5 357.6,131.5" fill="#800080"/>
<polygon points="367.3,127.3 366.1,129.3 363.8,129.3 362.7,127.3 363.8,125.3 366.1,125.3" fill="#800080"/>
<polygon points="375.9,121.1 374.7,123.1 372.4,123.1 371.3,121.1 372.4,119.1 374.7,119.1" fill="#800080"/>
<polygon points="384.4,114.9 383.3,116.9 381.0,116.9 379.8,114.9 381.0,112.9 383.3,112.9" fill="#800080"/>
<polygon points="393.0,108.7 391.8,110.7 389.5,110.7 388.4,108.7 389.5,106.7 391.8,106.7" fill="#800080"/>
<polyline points="270.8,195.5 279.4,188.9 287.9,182.3 296.5,175.8 305.1,169.2 313.6,162.6 322.2,156.0 330.8,149.4 339.3,142.9 347.9,136.3 356.4,129.7 365.0,123.1 373.6,116.6 382.1,110.0 390.7,103.4" fill="none" stroke="#800000" stroke-width="1.0" stroke-linejoin="round"/>
<polygon points="270.8,192.7 271.6,194.5 273.5,194.6 272.0,195.9 272.5,197.8 270.8,196.8 269.2,197.8 269.6,195.9 268.2,194.6 270.1,194.5" fill="#800000"/>
<polygon points="279.4,186.1 280.1,187.9 282.0,188.1 280.6,189.3 281.0,191.2 279.4,190.2 277.7,191.2 278.2,189.3 276.7,188.1 278.6,187.9" fill="#800000"/>
<polygon points="287.9,179.5 288.7,181.3 290.6,181.5 289.1,182.7 289.6,184.6 287.9,183.6 286.3,184.6 286.7,182.7 285.3,181.5 287.2,181.3" fill="#800000"/>
<polygon points="296.5,173.0 297.2,174.7 299.2,174.9 297.7,176.2 298.2,178.0 296.5,177.0 294.9,178.0 295.3,176.2 293.8,174.9 295.8,174.7" fill="#800000"/>
<polygon points="305.1,166.4 305.8,168.2 307.7,168.3 306.3,169.6 306.7,171.5 305.1,170.4 303.4,171.5 303.9,169.6 302.4,168.3 304.3,168.2" fill="#800000"/>
<polygon points="313.6,159.8 314.4,161.6 316.3,161.7 314.8,163.0 315.3,164.9 313.6,163.9 312.0,164.9 312.4,163.0 311.0,161.7 312.9,161.6" fill="#800000"/>
<polygon points="322.2,153.2 322.9,155.0 324.9,155.2 323.4,156.4 323.8,158.3 322.2,157.3 320.5,158.3 321.0,156.4 319.5,155.2 321.4,155.0" fill="#800000"/>
<polygon points="330.8,146.6 331.5,148.4 333.4,148.6 331.9,149.8 332.4,151.7 330.8,150.7 329.1,151.7 329.6,149.8 328.1,148.6 330.0,148.4" fill="#800000"/>
<polygon points="339.3,140.1 340.1,141.9 342.0,142.0 340.5,143.3 341.0,145.1 339.3,144.1 337.7,145.1 338.1,143.3 336.6,142.0 338.6,141.9" fill="#800000"/>
<polygon points="347.9,133.5 348.6,135.3 350.5,135.4 349.1,136.7 349.5,138.6 347.9,137.6 346.2,138.6 346.7,136.7 345.2,135.4 347.1,135.3" fill="#800000"/>
<polygon points="356.4,126.9 357.2,128.7 359.1,128.8 357.6,130.1 358.1,132.0 356.4,131.0 354.8,132.0 355.2,130.1 353.8,128.8 355.7,128.7" fill="#800000"/>
<polygon points="365.0,120.3 365.7,122.1 367.7,122.3 366.2,123.5 366.6,125.4 365.0,124.4 363.3,125.4 363.8,123.5 362.3,122.3 364.3,122.1" fill="#800000"/>
<polygon points="373.6,113.8 374.3,115.5 376.2,115.7 374.8,116.9 375.2,118.8 373.6,117.8 371.9,118.8 372.4,116.9 370.9,115.7 372.8,115.5" fill="#800000"/>
<polygon points="382.1,107.2 382.9,109.0 384.8,109.1 383.3,110.4 383.8,112.2 382.1,111.2 380.5,112.2 380.9,110.4 379.5,109.1 381.4,109.0" fill="#800000"/>
<polygon points="390.7,100.6 391.4,102.4 393.3,102.5 391.9,103.8 392.3,105.7 390.7,104.7 389.0,105.7 389.5,103.8 388.0,102.5 389.9,102.4" fill="#800000"/>
<polyline points="270.8,195.5 279.4,187.3 287.9,179.2 296.5,171.0 305.1,162.8 313.6,154.7 322.2,146.5 330.8,138.3 339.3,130.2 347.9,122.0 356.4,113.9 365.0,105.7 373.6,97.5 382.1,89.4 390.7,81.2" fill="none" stroke="#808000" stroke-width="1.0" stroke-linejoin="round"/>
<polygon points="270.8,193.1 273.1,194.8 272.2,197.4 269.4,197.4 268.5,194.8" fill="#808000"/>
<polygon points="279.4,184.9 281.7,186.6 280.8,189.3 278.0,189.3 277.1,186.6" fill="#808000"/>
<polygon points="287.9,176.8 290.2,178.4 289.4,181.1 286.5,181.1 285.7,178.4" fill="#808000"/>
<polygon points="296.5,168.6 298.8,170.3 297.9,172.9 295.1,172.9 294.2,170.3" fill="#808000"/>
<polygon points="305.1,160.4 307.4,162.1 306.5,164.8 303.7,164.8 302.8,162.1" fill="#808000"/>
<polygon points="313.6,152.3 315.9,153.9 315.0,156.6 312.2,156.6 311.3,153.9" fill="#808000"/>
<polygon points="322.2,144.1 324.5,145.8 323.6,148.5 320.8,148.5 319.9,145.8" fill="#808000"/>
<polygon points="330.8,135.9 333.0,137.6 332.2,140.3 329.3,140.3 328.5,137.6" fill="#808000"/>
<polygon points="339.3,127.8 341.6,129.4 340.7,132.1 337.9,132.1 337.0,129.4" fill="#808000"/>
<polygon points="347.9,119.6 350.2,121.3 349.3,124.0 346.5,124.0 345.6,121.3" fill="#808000"/>
<polygon points="356.4,111.5 358.7,113.1 357.8,115.8 355.0,115.8 354.1,113.1" fill="#808000"/>
<polygon points="365.0,103.3 367.3,105.0 366.4,107.6 363.6,107.6 362.7,105.0" fill="#808000"/>
<polygon points="373.6,95.1 375.8,96.8 375.0,99.5 372.1,99.5 371.3,96.8" fill="#808000"/>
<polygon points="382.1,87.0 384.4,88.6 383.5,91.3 380.7,91.3 379.8,88.6" fill="#808000"/>
<polygon points="390.7,78.8 393.0,80.5 392.1,83.1 389.3,83.1 388.4,80.5" fill="#808000"/>
<polyline points="270.8,195.5 279.4,186.2 287.9,176.9 296.5,167.6 305.1,158.4 313.6,149.1 322.2,139.8 330.8,130.5 339.3,121.2 347.9,111.9 356.4,102.6 365.0,93.4 373.6,84.1 382.1,74.8 390.7,65.5" fill="none" stroke="#2f66a8" stroke-width="1.0" stroke-linejoin="round"/>
<circle cx="270.82" cy="195.50" r="1.80" fill="#b5cdee" stroke="#2f66a8" stroke-width="1.00"/>
<circle cx="279.39" cy="186.21" r="1.80" fill="#b5cdee" stroke="#2f66a8" stroke-width="1.00"/>
<circle cx="287.95" cy="176.93" r="1.80" fill="#b5cdee" stroke="#2f66a8" stroke-width="1.00"/>
<circle cx="296.51" cy="167.64" r="1.80" fill="#b5cdee" stroke="#2f66a8" stroke-width="1.00"/>
<circle cx="305.07" cy="158.36" r="1.80" fill="#b5cdee" stroke="#2f66a8" stroke-width="1.00"/>
<circle cx="313.63" cy="149.07" r="1.80" fill="#b5cdee" stroke="#2f66a8" stroke-width="1.00"/>
<circle cx="322.19" cy="139.79" r="1.80" fill="#b5cdee" stroke="#2f66a8" stroke-width="1.00"/>
<circle cx="330.75" cy="130.50" r="1.80" fill="#b5cdee" stroke="#2f66a8" stroke-width="1.00"/>
<circle cx="339.31" cy="121.21" r="1.80" fill="#b5cdee" stroke="#2f66a8" stroke-width="1.00"/>
<circle cx="347.87" cy="111.93" r="1.80" fill="#b5cdee" stroke="#2f66a8" stroke-width="1.00"/>
<circle cx="356.43" cy="102.64" r="1.80" fill="#b5cdee" stroke="#2f66a8" stroke-width="1.00"/>
<circle cx="364.99" cy="93.36" r="1.80" fill="#b5cdee" stroke="#2f66a8" stroke-width="1.00"/>
<circle cx="373.55" cy="84.07" r="1.80" fill="#b5cdee" stroke="#2f66a8" stroke-width="1.00"/>
<circle cx="382.11" cy="74.79" r="1.80" fill="#b5cdee" stroke="#2f66a8" stroke-width="1.00"/>
<circle cx="390.68" cy="65.50" r="1.80" fill="#b5cdee" stroke="#2f66a8" stroke-width="1.00"/>
<rect x="266.50" y="54.00" width="179.00" height="158.00" fill="none" stroke="#222" stroke-width="1.3"/>
<path d="M263.50,195.90H266.50M263.50,158.37H266.50M263.50,120.83H266.50M263.50,83.30H266.50M264.70,205.28H266.50M264.70,177.13H266.50M264.70,139.60H266.50M264.70,102.06H266.50M264.70,64.53H266.50" stroke="#111" stroke-width="1.25" fill="none"/>
<g transform="translate(261.60 199.40) scale(0.830 1)"><text x="0" y="0" font-size="12.0" text-anchor="end" font-weight="bold" fill="#000">0.0</text></g>
<g transform="translate(261.60 161.87) scale(0.830 1)"><text x="0" y="0" font-size="12.0" text-anchor="end" font-weight="bold" fill="#000">0.5</text></g>
<g transform="translate(261.60 124.33) scale(0.830 1)"><text x="0" y="0" font-size="12.0" text-anchor="end" font-weight="bold" fill="#000">1.0</text></g>
<g transform="translate(261.60 86.80) scale(0.830 1)"><text x="0" y="0" font-size="12.0" text-anchor="end" font-weight="bold" fill="#000">1.5</text></g>
<path d="M267.00,212.00V215.00M292.50,212.00V215.00M318.00,212.00V215.00M343.50,212.00V215.00M369.00,212.00V215.00M394.50,212.00V215.00M420.00,212.00V215.00M445.50,212.00V215.00M279.75,212.00V213.80M305.25,212.00V213.80M330.75,212.00V213.80M356.25,212.00V213.80M381.75,212.00V213.80M407.25,212.00V213.80M432.75,212.00V213.80" stroke="#111" stroke-width="1.25" fill="none"/>
<g transform="translate(267.00 226.00) scale(0.830 1)"><text x="0" y="0" font-size="12.0" text-anchor="middle" font-weight="bold" fill="#000">0</text></g>
<g transform="translate(292.50 226.00) scale(0.830 1)"><text x="0" y="0" font-size="12.0" text-anchor="middle" font-weight="bold" fill="#000">10</text></g>
<g transform="translate(318.00 226.00) scale(0.830 1)"><text x="0" y="0" font-size="12.0" text-anchor="middle" font-weight="bold" fill="#000">20</text></g>
<g transform="translate(343.50 226.00) scale(0.830 1)"><text x="0" y="0" font-size="12.0" text-anchor="middle" font-weight="bold" fill="#000">30</text></g>
<g transform="translate(369.00 226.00) scale(0.830 1)"><text x="0" y="0" font-size="12.0" text-anchor="middle" font-weight="bold" fill="#000">40</text></g>
<g transform="translate(394.50 226.00) scale(0.830 1)"><text x="0" y="0" font-size="12.0" text-anchor="middle" font-weight="bold" fill="#000">50</text></g>
<g transform="translate(420.00 226.00) scale(0.830 1)"><text x="0" y="0" font-size="12.0" text-anchor="middle" font-weight="bold" fill="#000">60</text></g>
<g transform="translate(445.50 226.00) scale(0.830 1)"><text x="0" y="0" font-size="12.0" text-anchor="middle" font-weight="bold" fill="#000">70</text></g>
<text x="243.10" y="134.20" font-size="12" text-anchor="middle" font-weight="bold" letter-spacing="1.3" textLength="96" lengthAdjust="spacingAndGlyphs" transform="rotate(-90 243.10 134.20)">Total charge (nC)</text>
<text x="356.2" y="239.2" font-size="11.5" text-anchor="middle" font-weight="bold" fill="#000" textLength="40.8" lengthAdjust="spacingAndGlyphs">Time (µs)</text>
<line x1="395.30" y1="69.70" x2="412.00" y2="69.70" stroke="#000000" stroke-width="1.0"/>
<rect x="401.75" y="67.80" width="3.80" height="3.80" fill="#000000"/>
<g transform="translate(414.00 71.80) scale(0.860 1)"><text x="0" y="0" font-size="9.0" text-anchor="start" font-weight="bold" fill="#000">Aptamer</text></g>
<line x1="395.30" y1="81.90" x2="412.00" y2="81.90" stroke="#ff0000" stroke-width="1.0"/>
<circle cx="403.65" cy="81.90" r="1.99" fill="#ff0000"/>
<g transform="translate(414.00 84.00) scale(0.860 1)"><text x="0" y="0" font-size="9.0" text-anchor="start" font-weight="bold" fill="#000">BSA-1st</text></g>
<line x1="395.30" y1="94.10" x2="412.00" y2="94.10" stroke="#0000ff" stroke-width="1.0"/>
<polygon points="403.6,91.8 405.8,95.6 401.5,95.6" fill="#0000ff"/>
<g transform="translate(414.00 96.20) scale(0.860 1)"><text x="0" y="0" font-size="9.0" text-anchor="start" font-weight="bold" fill="#000">BSA-2nd</text></g>
<line x1="395.30" y1="106.30" x2="412.00" y2="106.30" stroke="#ff00ff" stroke-width="1.0"/>
<polygon points="403.6,108.6 405.8,104.8 401.5,104.8" fill="#ff00ff"/>
<g transform="translate(414.00 108.40) scale(0.860 1)"><text x="0" y="0" font-size="9.0" text-anchor="start" font-weight="bold" fill="#000">1fM</text></g>
<line x1="395.30" y1="118.50" x2="412.00" y2="118.50" stroke="#008000" stroke-width="1.0"/>
<polygon points="403.6,116.0 405.7,118.5 403.6,121.0 401.6,118.5" fill="#008000"/>
<g transform="translate(414.00 120.60) scale(0.860 1)"><text x="0" y="0" font-size="9.0" text-anchor="start" font-weight="bold" fill="#000">10fM</text></g>
<line x1="395.30" y1="130.70" x2="412.00" y2="130.70" stroke="#000080" stroke-width="1.0"/>
<polygon points="401.4,130.7 405.2,128.5 405.2,132.9" fill="#000080"/>
<g transform="translate(414.00 132.80) scale(0.860 1)"><text x="0" y="0" font-size="9.0" text-anchor="start" font-weight="bold" fill="#000">100fM</text></g>
<line x1="395.30" y1="142.90" x2="412.00" y2="142.90" stroke="#8000ff" stroke-width="1.0"/>
<polygon points="405.9,142.9 402.1,140.7 402.1,145.1" fill="#8000ff"/>
<g transform="translate(414.00 145.00) scale(0.860 1)"><text x="0" y="0" font-size="9.0" text-anchor="start" font-weight="bold" fill="#000">10pM</text></g>
<line x1="395.30" y1="155.10" x2="412.00" y2="155.10" stroke="#800080" stroke-width="1.0"/>
<polygon points="405.8,155.1 404.7,157.0 402.6,157.0 401.5,155.1 402.6,153.2 404.7,153.2" fill="#800080"/>
<g transform="translate(414.00 157.20) scale(0.860 1)"><text x="0" y="0" font-size="9.0" text-anchor="start" font-weight="bold" fill="#000">2.6nM</text></g>
<line x1="395.30" y1="167.30" x2="412.00" y2="167.30" stroke="#800000" stroke-width="1.0"/>
<polygon points="403.6,164.6 404.4,166.3 406.2,166.5 404.8,167.7 405.2,169.5 403.6,168.5 402.1,169.5 402.5,167.7 401.1,166.5 402.9,166.3" fill="#800000"/>
<g transform="translate(414.00 169.40) scale(0.860 1)"><text x="0" y="0" font-size="9.0" text-anchor="start" font-weight="bold" fill="#000">9nM</text></g>
<line x1="395.30" y1="179.50" x2="412.00" y2="179.50" stroke="#808000" stroke-width="1.0"/>
<polygon points="403.6,177.2 405.8,178.8 405.0,181.3 402.3,181.3 401.5,178.8" fill="#808000"/>
<g transform="translate(414.00 181.60) scale(0.860 1)"><text x="0" y="0" font-size="9.0" text-anchor="start" font-weight="bold" fill="#000">26nM</text></g>
<line x1="395.30" y1="191.70" x2="412.00" y2="191.70" stroke="#2f66a8" stroke-width="1.0"/>
<circle cx="403.65" cy="191.70" r="1.71" fill="#b5cdee" stroke="#2f66a8" stroke-width="0.95"/>
<g transform="translate(414.00 193.80) scale(0.860 1)"><text x="0" y="0" font-size="9.0" text-anchor="start" font-weight="bold" fill="#000">100nM</text></g>
<text x="458.6" y="11.5" font-size="14" text-anchor="start" font-weight="bold" fill="#000">(c)</text>
<text x="490.0" y="37.0" font-size="10.4" text-anchor="start" font-weight="bold" fill="#000" textLength="151.1" lengthAdjust="spacingAndGlyphs">Calibration curve- CRP detection</text>
<text x="490.0" y="51.9" font-size="10.4" text-anchor="start" font-weight="bold" fill="#000" textLength="40.6" lengthAdjust="spacingAndGlyphs">in 1xPBS</text>
<rect x="489.60" y="53.60" width="182.30" height="156.00" fill="none" stroke="#222" stroke-width="1.3"/>
<path d="M486.60,183.60H489.60M486.60,148.80H489.60M486.60,114.00H489.60M486.60,79.20H489.60M487.80,201.00H489.60M487.80,166.20H489.60M487.80,131.40H489.60M487.80,96.60H489.60M487.80,61.80H489.60" stroke="#111" stroke-width="1.25" fill="none"/>
<g transform="translate(485.50 187.10) scale(0.830 1)"><text x="0" y="0" font-size="12.0" text-anchor="end" font-weight="bold" fill="#000">0.4</text></g>
<g transform="translate(485.50 152.30) scale(0.830 1)"><text x="0" y="0" font-size="12.0" text-anchor="end" font-weight="bold" fill="#000">0.6</text></g>
<g transform="translate(485.50 117.50) scale(0.830 1)"><text x="0" y="0" font-size="12.0" text-anchor="end" font-weight="bold" fill="#000">0.8</text></g>
<g transform="translate(485.50 82.70) scale(0.830 1)"><text x="0" y="0" font-size="12.0" text-anchor="end" font-weight="bold" fill="#000">1.0</text></g>
<path d="M504.50,209.60V212.60M534.96,209.60V212.60M565.42,209.60V212.60M595.88,209.60V212.60M626.34,209.60V212.60M656.80,209.60V212.60M519.73,209.60V211.40M550.19,209.60V211.40M580.65,209.60V211.40M611.11,209.60V211.40M641.57,209.60V211.40M672.03,209.60V211.40M489.27,209.60V211.40" stroke="#111" stroke-width="1.25" fill="none"/>
<g transform="translate(504.50 222.80) scale(0.830 1)"><text x="0" y="0" font-size="12.0" text-anchor="middle" font-weight="bold" fill="#000">0.0</text></g>
<g transform="translate(534.96 222.80) scale(0.830 1)"><text x="0" y="0" font-size="12.0" text-anchor="middle" font-weight="bold" fill="#000">20.0</text></g>
<g transform="translate(565.42 222.80) scale(0.830 1)"><text x="0" y="0" font-size="12.0" text-anchor="middle" font-weight="bold" fill="#000">40.0</text></g>
<g transform="translate(595.88 222.80) scale(0.830 1)"><text x="0" y="0" font-size="12.0" text-anchor="middle" font-weight="bold" fill="#000">60.0</text></g>
<g transform="translate(626.34 222.80) scale(0.830 1)"><text x="0" y="0" font-size="12.0" text-anchor="middle" font-weight="bold" fill="#000">80.0</text></g>
<g transform="translate(656.80 222.80) scale(0.830 1)"><text x="0" y="0" font-size="12.0" text-anchor="middle" font-weight="bold" fill="#000">100.0</text></g>
<text x="467.50" y="139.40" font-size="12" text-anchor="middle" font-weight="bold" letter-spacing="1.3" textLength="94.6" lengthAdjust="spacingAndGlyphs" transform="rotate(-90 467.50 139.40)">Total charge (nC)</text>
<text x="581.2" y="241.9" font-size="11.5" text-anchor="middle" font-weight="bold" fill="#000" textLength="114.5" lengthAdjust="spacingAndGlyphs">CRP Concentration (nM)</text>
<polygon points="505.0,189.5 507.9,191.2 507.9,194.5 505.0,196.1 502.1,194.5 502.1,191.2" fill="#fff" stroke="#000" stroke-width="1.1"/>
<polygon points="505.0,189.5 502.1,191.2 502.1,194.5 505.0,196.1" fill="#000"/>
<polygon points="505.0,186.5 507.9,188.2 507.9,191.5 505.0,193.1 502.1,191.5 502.1,188.2" fill="#fff" stroke="#000" stroke-width="1.1"/>
<polygon points="505.0,186.5 502.1,188.2 502.1,191.5 505.0,193.1" fill="#000"/>
<polygon points="505.0,183.3 507.9,184.9 507.9,188.2 505.0,189.9 502.1,188.2 502.1,184.9" fill="#fff" stroke="#000" stroke-width="1.1"/>
<polygon points="505.0,183.3 502.1,184.9 502.1,188.2 505.0,189.9" fill="#000"/>
<polygon points="509.4,168.9 512.3,170.5 512.3,173.8 509.4,175.5 506.5,173.8 506.5,170.5" fill="#fff" stroke="#000" stroke-width="1.1"/>
<polygon points="509.4,168.9 506.5,170.5 506.5,173.8 509.4,175.5" fill="#000"/>
<polygon points="519.1,139.7 522.0,141.3 522.0,144.7 519.1,146.3 516.2,144.7 516.2,141.3" fill="#fff" stroke="#000" stroke-width="1.1"/>
<polygon points="519.1,139.7 516.2,141.3 516.2,144.7 519.1,146.3" fill="#000"/>
<polygon points="544.2,101.3 547.1,102.9 547.1,106.2 544.2,107.9 541.3,106.2 541.3,102.9" fill="#fff" stroke="#000" stroke-width="1.1"/>
<polygon points="544.2,101.3 541.3,102.9 541.3,106.2 544.2,107.9" fill="#000"/>
<polygon points="657.0,61.5 659.9,63.1 659.9,66.5 657.0,68.1 654.1,66.5 654.1,63.1" fill="#fff" stroke="#000" stroke-width="1.1"/>
<polygon points="657.0,61.5 654.1,63.1 654.1,66.5 657.0,68.1" fill="#000"/>
<text x="19.0" y="261.2" font-size="14" text-anchor="start" font-weight="bold" fill="#000">(d)</text>
<text x="46.1" y="291.7" font-size="10.6" text-anchor="start" font-weight="bold" fill="#000" textLength="106.3" lengthAdjust="spacingAndGlyphs">CRP detection in serum</text>
<polyline points="49.1,441.8 57.7,429.7 66.3,433.4 74.9,433.4 83.6,433.0 92.2,434.1 100.8,435.2 109.5,435.6 118.1,436.3 126.7,436.3 135.3,437.0 144.0,437.0 152.6,437.0 161.2,437.0 169.8,438.3" fill="none" stroke="#000000" stroke-width="1.0" stroke-linejoin="round"/>
<rect x="47.05" y="439.84" width="4.00" height="4.00" fill="#000000"/>
<rect x="55.68" y="427.67" width="4.00" height="4.00" fill="#000000"/>
<rect x="64.31" y="431.43" width="4.00" height="4.00" fill="#000000"/>
<rect x="72.94" y="431.43" width="4.00" height="4.00" fill="#000000"/>
<rect x="81.57" y="430.99" width="4.00" height="4.00" fill="#000000"/>
<rect x="90.19" y="432.09" width="4.00" height="4.00" fill="#000000"/>
<rect x="98.82" y="433.20" width="4.00" height="4.00" fill="#000000"/>
<rect x="107.45" y="433.64" width="4.00" height="4.00" fill="#000000"/>
<rect x="116.08" y="434.31" width="4.00" height="4.00" fill="#000000"/>
<rect x="124.71" y="434.31" width="4.00" height="4.00" fill="#000000"/>
<rect x="133.33" y="434.97" width="4.00" height="4.00" fill="#000000"/>
<rect x="141.96" y="434.97" width="4.00" height="4.00" fill="#000000"/>
<rect x="150.59" y="434.97" width="4.00" height="4.00" fill="#000000"/>
<rect x="159.22" y="434.97" width="4.00" height="4.00" fill="#000000"/>
<rect x="167.84" y="436.30" width="4.00" height="4.00" fill="#000000"/>
<polyline points="49.1,441.8 57.7,421.9 66.3,424.1 74.9,425.9 83.6,427.5 92.2,428.6 100.8,429.0 109.5,429.4 118.1,429.7 126.7,429.9 135.3,429.9 144.0,430.1 152.6,430.1 161.2,430.1 169.8,430.1" fill="none" stroke="#ff0000" stroke-width="1.0" stroke-linejoin="round"/>
<circle cx="49.05" cy="441.84" r="2.10" fill="#ff0000"/>
<circle cx="57.68" cy="421.92" r="2.10" fill="#ff0000"/>
<circle cx="66.31" cy="424.13" r="2.10" fill="#ff0000"/>
<circle cx="74.94" cy="425.90" r="2.10" fill="#ff0000"/>
<circle cx="83.57" cy="427.45" r="2.10" fill="#ff0000"/>
<circle cx="92.19" cy="428.56" r="2.10" fill="#ff0000"/>
<circle cx="100.82" cy="429.00" r="2.10" fill="#ff0000"/>
<circle cx="109.45" cy="429.45" r="2.10" fill="#ff0000"/>
<circle cx="118.08" cy="429.67" r="2.10" fill="#ff0000"/>
<circle cx="126.71" cy="429.89" r="2.10" fill="#ff0000"/>
<circle cx="135.33" cy="429.89" r="2.10" fill="#ff0000"/>
<circle cx="143.96" cy="430.11" r="2.10" fill="#ff0000"/>
<circle cx="152.59" cy="430.11" r="2.10" fill="#ff0000"/>
<circle cx="161.22" cy="430.11" r="2.10" fill="#ff0000"/>
<circle cx="169.84" cy="430.11" r="2.10" fill="#ff0000"/>
<polyline points="49.1,426.3 57.7,382.1 66.3,392.6 74.9,400.4 83.6,406.3 92.2,410.8 100.8,414.5 109.5,417.4 118.1,419.7 126.7,421.7 135.3,423.3 144.0,424.6 152.6,425.7 161.2,426.7 169.8,427.5" fill="none" stroke="#0000ff" stroke-width="1.0" stroke-linejoin="round"/>
<polygon points="49.1,423.9 51.4,427.9 46.8,427.9" fill="#0000ff"/>
<polygon points="57.7,379.7 60.0,383.7 55.4,383.7" fill="#0000ff"/>
<polygon points="66.3,390.2 68.6,394.2 64.0,394.2" fill="#0000ff"/>
<polygon points="74.9,398.0 77.2,402.0 72.6,402.0" fill="#0000ff"/>
<polygon points="83.6,403.9 85.9,407.9 81.3,407.9" fill="#0000ff"/>
<polygon points="92.2,408.4 94.5,412.4 89.9,412.4" fill="#0000ff"/>
<polygon points="100.8,412.1 103.1,416.1 98.5,416.1" fill="#0000ff"/>
<polygon points="109.5,415.0 111.8,419.0 107.2,419.0" fill="#0000ff"/>
<polygon points="118.1,417.3 120.4,421.3 115.8,421.3" fill="#0000ff"/>
<polygon points="126.7,419.3 129.0,423.3 124.4,423.3" fill="#0000ff"/>
<polygon points="135.3,420.9 137.6,424.9 133.0,424.9" fill="#0000ff"/>
<polygon points="144.0,422.2 146.3,426.2 141.7,426.2" fill="#0000ff"/>
<polygon points="152.6,423.3 154.9,427.3 150.3,427.3" fill="#0000ff"/>
<polygon points="161.2,424.3 163.5,428.3 158.9,428.3" fill="#0000ff"/>
<polygon points="169.8,425.1 172.1,429.1 167.5,429.1" fill="#0000ff"/>
<polyline points="49.1,423.0 57.7,380.3 66.3,391.2 74.9,399.2 83.6,405.1 92.2,409.7 100.8,413.4 109.5,416.3 118.1,418.7 126.7,420.6 135.3,422.2 144.0,423.5 152.6,424.7 161.2,425.6 169.8,426.3" fill="none" stroke="#ff00ff" stroke-width="1.0" stroke-linejoin="round"/>
<polygon points="49.1,425.4 51.4,421.4 46.8,421.4" fill="#ff00ff"/>
<polygon points="57.7,382.7 60.0,378.7 55.4,378.7" fill="#ff00ff"/>
<polygon points="66.3,393.6 68.6,389.6 64.0,389.6" fill="#ff00ff"/>
<polygon points="74.9,401.6 77.2,397.6 72.6,397.6" fill="#ff00ff"/>
<polygon points="83.6,407.5 85.9,403.5 81.3,403.5" fill="#ff00ff"/>
<polygon points="92.2,412.1 94.5,408.1 89.9,408.1" fill="#ff00ff"/>
<polygon points="100.8,415.8 103.1,411.8 98.5,411.8" fill="#ff00ff"/>
<polygon points="109.5,418.7 111.8,414.7 107.2,414.7" fill="#ff00ff"/>
<polygon points="118.1,421.1 120.4,417.1 115.8,417.1" fill="#ff00ff"/>
<polygon points="126.7,423.0 129.0,419.0 124.4,419.0" fill="#ff00ff"/>
<polygon points="135.3,424.6 137.6,420.6 133.0,420.6" fill="#ff00ff"/>
<polygon points="144.0,425.9 146.3,421.9 141.7,421.9" fill="#ff00ff"/>
<polygon points="152.6,427.1 154.9,423.1 150.3,423.1" fill="#ff00ff"/>
<polygon points="161.2,428.0 163.5,424.0 158.9,424.0" fill="#ff00ff"/>
<polygon points="169.8,428.7 172.1,424.7 167.5,424.7" fill="#ff00ff"/>
<polyline points="49.1,418.2 57.7,370.6 66.3,385.5 74.9,395.4 83.6,402.4 92.2,407.7 100.8,411.7 109.5,414.9 118.1,417.5 126.7,419.6 135.3,421.4 144.0,422.8 152.6,424.0 161.2,425.1 169.8,425.9" fill="none" stroke="#008000" stroke-width="1.0" stroke-linejoin="round"/>
<polygon points="49.1,415.6 51.3,418.2 49.1,420.8 46.9,418.2" fill="#008000"/>
<polygon points="57.7,368.0 59.9,370.6 57.7,373.2 55.5,370.6" fill="#008000"/>
<polygon points="66.3,382.9 68.5,385.5 66.3,388.1 64.1,385.5" fill="#008000"/>
<polygon points="74.9,392.8 77.1,395.4 74.9,398.0 72.7,395.4" fill="#008000"/>
<polygon points="83.6,399.8 85.8,402.4 83.6,405.0 81.4,402.4" fill="#008000"/>
<polygon points="92.2,405.1 94.4,407.7 92.2,410.3 90.0,407.7" fill="#008000"/>
<polygon points="100.8,409.1 103.0,411.7 100.8,414.3 98.6,411.7" fill="#008000"/>
<polygon points="109.5,412.3 111.7,414.9 109.5,417.5 107.2,414.9" fill="#008000"/>
<polygon points="118.1,414.9 120.3,417.5 118.1,420.1 115.9,417.5" fill="#008000"/>
<polygon points="126.7,417.0 128.9,419.6 126.7,422.2 124.5,419.6" fill="#008000"/>
<polygon points="135.3,418.8 137.5,421.4 135.3,424.0 133.1,421.4" fill="#008000"/>
<polygon points="144.0,420.2 146.2,422.8 144.0,425.4 141.8,422.8" fill="#008000"/>
<polygon points="152.6,421.4 154.8,424.0 152.6,426.6 150.4,424.0" fill="#008000"/>
<polygon points="161.2,422.5 163.4,425.1 161.2,427.7 159.0,425.1" fill="#008000"/>
<polygon points="169.8,423.3 172.0,425.9 169.8,428.5 167.6,425.9" fill="#008000"/>
<polyline points="49.1,401.8 57.7,349.1 66.3,376.8 74.9,392.3 83.6,401.7 92.2,407.8 100.8,412.2 109.5,415.4 118.1,417.9 126.7,420.0 135.3,421.6 144.0,423.0 152.6,424.2 161.2,425.1 169.8,425.9" fill="none" stroke="#000080" stroke-width="1.0" stroke-linejoin="round"/>
<polygon points="46.7,401.8 50.7,399.5 50.7,404.1" fill="#000080"/>
<polygon points="55.3,349.1 59.3,346.8 59.3,351.4" fill="#000080"/>
<polygon points="63.9,376.8 67.9,374.5 67.9,379.1" fill="#000080"/>
<polygon points="72.5,392.3 76.5,390.0 76.5,394.6" fill="#000080"/>
<polygon points="81.2,401.7 85.2,399.4 85.2,404.0" fill="#000080"/>
<polygon points="89.8,407.8 93.8,405.5 93.8,410.1" fill="#000080"/>
<polygon points="98.4,412.2 102.4,409.9 102.4,414.5" fill="#000080"/>
<polygon points="107.0,415.4 111.0,413.1 111.0,417.7" fill="#000080"/>
<polygon points="115.7,417.9 119.7,415.6 119.7,420.2" fill="#000080"/>
<polygon points="124.3,420.0 128.3,417.7 128.3,422.3" fill="#000080"/>
<polygon points="132.9,421.6 136.9,419.3 136.9,423.9" fill="#000080"/>
<polygon points="141.6,423.0 145.6,420.7 145.6,425.3" fill="#000080"/>
<polygon points="150.2,424.2 154.2,421.9 154.2,426.5" fill="#000080"/>
<polygon points="158.8,425.1 162.8,422.8 162.8,427.4" fill="#000080"/>
<polygon points="167.4,425.9 171.4,423.6 171.4,428.2" fill="#000080"/>
<polyline points="49.1,417.5 57.7,379.9 66.3,390.3 74.9,398.0 83.6,404.0 92.2,408.7 100.8,412.4 109.5,415.5 118.1,418.0 126.7,420.1 135.3,421.8 144.0,423.3 152.6,424.5 161.2,425.5 169.8,426.3" fill="none" stroke="#8000ff" stroke-width="1.0" stroke-linejoin="round"/>
<polygon points="51.5,417.5 47.5,415.2 47.5,419.8" fill="#8000ff"/>
<polygon points="60.1,379.9 56.1,377.6 56.1,382.2" fill="#8000ff"/>
<polygon points="68.7,390.3 64.7,388.0 64.7,392.6" fill="#8000ff"/>
<polygon points="77.3,398.0 73.3,395.7 73.3,400.3" fill="#8000ff"/>
<polygon points="86.0,404.0 82.0,401.7 82.0,406.3" fill="#8000ff"/>
<polygon points="94.6,408.7 90.6,406.4 90.6,411.0" fill="#8000ff"/>
<polygon points="103.2,412.4 99.2,410.1 99.2,414.7" fill="#8000ff"/>
<polygon points="111.9,415.5 107.9,413.2 107.9,417.8" fill="#8000ff"/>
<polygon points="120.5,418.0 116.5,415.7 116.5,420.3" fill="#8000ff"/>
<polygon points="129.1,420.1 125.1,417.8 125.1,422.4" fill="#8000ff"/>
<polygon points="137.7,421.8 133.7,419.5 133.7,424.1" fill="#8000ff"/>
<polygon points="146.4,423.3 142.4,421.0 142.4,425.6" fill="#8000ff"/>
<polygon points="155.0,424.5 151.0,422.2 151.0,426.8" fill="#8000ff"/>
<polygon points="163.6,425.5 159.6,423.2 159.6,427.8" fill="#8000ff"/>
<polygon points="172.2,426.3 168.2,424.0 168.2,428.6" fill="#8000ff"/>
<polyline points="49.1,392.7 57.7,333.6 66.3,369.9 74.9,388.5 83.6,399.1 92.2,405.7 100.8,410.3 109.5,413.8 118.1,416.5 126.7,418.7 135.3,420.5 144.0,422.1 152.6,423.3 161.2,424.4 169.8,425.2" fill="none" stroke="#800080" stroke-width="1.0" stroke-linejoin="round"/>
<polygon points="51.4,392.7 50.2,394.7 47.9,394.7 46.8,392.7 47.9,390.7 50.2,390.7" fill="#800080"/>
<polygon points="60.0,333.6 58.8,335.6 56.5,335.6 55.4,333.6 56.5,331.6 58.8,331.6" fill="#800080"/>
<polygon points="68.6,369.9 67.5,371.9 65.2,371.9 64.0,369.9 65.2,367.9 67.5,367.9" fill="#800080"/>
<polygon points="77.2,388.5 76.1,390.5 73.8,390.5 72.6,388.5 73.8,386.5 76.1,386.5" fill="#800080"/>
<polygon points="85.9,399.1 84.7,401.1 82.4,401.1 81.3,399.1 82.4,397.1 84.7,397.1" fill="#800080"/>
<polygon points="94.5,405.7 93.3,407.7 91.0,407.7 89.9,405.7 91.0,403.7 93.3,403.7" fill="#800080"/>
<polygon points="103.1,410.3 102.0,412.3 99.7,412.3 98.5,410.3 99.7,408.3 102.0,408.3" fill="#800080"/>
<polygon points="111.8,413.8 110.6,415.8 108.3,415.8 107.2,413.8 108.3,411.8 110.6,411.8" fill="#800080"/>
<polygon points="120.4,416.5 119.2,418.5 116.9,418.5 115.8,416.5 116.9,414.5 119.2,414.5" fill="#800080"/>
<polygon points="129.0,418.7 127.9,420.7 125.6,420.7 124.4,418.7 125.6,416.7 127.9,416.7" fill="#800080"/>
<polygon points="137.6,420.5 136.5,422.5 134.2,422.5 133.0,420.5 134.2,418.6 136.5,418.6" fill="#800080"/>
<polygon points="146.3,422.1 145.1,424.0 142.8,424.0 141.7,422.1 142.8,420.1 145.1,420.1" fill="#800080"/>
<polygon points="154.9,423.3 153.7,425.3 151.4,425.3 150.3,423.3 151.4,421.3 153.7,421.3" fill="#800080"/>
<polygon points="163.5,424.4 162.4,426.4 160.1,426.4 158.9,424.4 160.1,422.4 162.4,422.4" fill="#800080"/>
<polygon points="172.1,425.2 171.0,427.2 168.7,427.2 167.5,425.2 168.7,423.2 171.0,423.2" fill="#800080"/>
<polyline points="49.1,384.3 57.7,322.5 66.3,365.5 74.9,386.2 83.6,397.3 92.2,403.9 100.8,408.4 109.5,411.7 118.1,414.3 126.7,416.4 135.3,418.1 144.0,419.6 152.6,420.7 161.2,421.7 169.8,422.6" fill="none" stroke="#800000" stroke-width="1.0" stroke-linejoin="round"/>
<polygon points="49.1,381.5 49.8,383.3 51.7,383.4 50.3,384.7 50.7,386.5 49.1,385.5 47.4,386.5 47.9,384.7 46.4,383.4 48.3,383.3" fill="#800000"/>
<polygon points="57.7,319.7 58.4,321.5 60.3,321.6 58.9,322.9 59.3,324.8 57.7,323.8 56.0,324.8 56.5,322.9 55.0,321.6 56.9,321.5" fill="#800000"/>
<polygon points="66.3,362.7 67.1,364.5 69.0,364.6 67.5,365.9 68.0,367.8 66.3,366.8 64.7,367.8 65.1,365.9 63.6,364.6 65.6,364.5" fill="#800000"/>
<polygon points="74.9,383.4 75.7,385.2 77.6,385.4 76.1,386.6 76.6,388.5 74.9,387.5 73.3,388.5 73.7,386.6 72.3,385.4 74.2,385.2" fill="#800000"/>
<polygon points="83.6,394.5 84.3,396.3 86.2,396.4 84.8,397.7 85.2,399.5 83.6,398.5 81.9,399.5 82.4,397.7 80.9,396.4 82.8,396.3" fill="#800000"/>
<polygon points="92.2,401.1 92.9,402.9 94.9,403.1 93.4,404.3 93.8,406.2 92.2,405.2 90.5,406.2 91.0,404.3 89.5,403.1 91.5,402.9" fill="#800000"/>
<polygon points="100.8,405.6 101.6,407.4 103.5,407.5 102.0,408.8 102.5,410.7 100.8,409.7 99.2,410.7 99.6,408.8 98.2,407.5 100.1,407.4" fill="#800000"/>
<polygon points="109.5,408.9 110.2,410.7 112.1,410.8 110.6,412.1 111.1,414.0 109.5,413.0 107.8,414.0 108.3,412.1 106.8,410.8 108.7,410.7" fill="#800000"/>
<polygon points="118.1,411.5 118.8,413.3 120.7,413.4 119.3,414.7 119.7,416.6 118.1,415.6 116.4,416.6 116.9,414.7 115.4,413.4 117.3,413.3" fill="#800000"/>
<polygon points="126.7,413.6 127.4,415.4 129.4,415.5 127.9,416.8 128.4,418.7 126.7,417.7 125.1,418.7 125.5,416.8 124.0,415.5 126.0,415.4" fill="#800000"/>
<polygon points="135.3,415.3 136.1,417.1 138.0,417.3 136.5,418.5 137.0,420.4 135.3,419.4 133.7,420.4 134.1,418.5 132.7,417.3 134.6,417.1" fill="#800000"/>
<polygon points="144.0,416.8 144.7,418.5 146.6,418.7 145.2,419.9 145.6,421.8 144.0,420.8 142.3,421.8 142.8,419.9 141.3,418.7 143.2,418.5" fill="#800000"/>
<polygon points="152.6,417.9 153.3,419.7 155.3,419.9 153.8,421.1 154.2,423.0 152.6,422.0 150.9,423.0 151.4,421.1 149.9,419.9 151.8,419.7" fill="#800000"/>
<polygon points="161.2,418.9 162.0,420.7 163.9,420.9 162.4,422.1 162.9,424.0 161.2,423.0 159.6,424.0 160.0,422.1 158.6,420.9 160.5,420.7" fill="#800000"/>
<polygon points="169.8,419.8 170.6,421.6 172.5,421.7 171.0,423.0 171.5,424.8 169.8,423.8 168.2,424.8 168.6,423.0 167.2,421.7 169.1,421.6" fill="#800000"/>
<polyline points="49.1,379.2 57.7,317.0 66.3,360.7 74.9,381.9 83.6,393.3 92.2,400.2 100.8,404.9 109.5,408.4 118.1,411.1 126.7,413.4 135.3,415.2 144.0,416.7 152.6,418.0 161.2,419.0 169.8,419.9" fill="none" stroke="#808000" stroke-width="1.0" stroke-linejoin="round"/>
<polygon points="49.1,376.8 51.3,378.4 50.5,381.1 47.6,381.1 46.8,378.4" fill="#808000"/>
<polygon points="57.7,314.6 60.0,316.2 59.1,318.9 56.3,318.9 55.4,316.2" fill="#808000"/>
<polygon points="66.3,358.3 68.6,360.0 67.7,362.6 64.9,362.6 64.0,360.0" fill="#808000"/>
<polygon points="74.9,379.5 77.2,381.2 76.3,383.9 73.5,383.9 72.7,381.2" fill="#808000"/>
<polygon points="83.6,390.9 85.8,392.6 85.0,395.2 82.2,395.2 81.3,392.6" fill="#808000"/>
<polygon points="92.2,397.8 94.5,399.5 93.6,402.2 90.8,402.2 89.9,399.5" fill="#808000"/>
<polygon points="100.8,402.5 103.1,404.2 102.2,406.9 99.4,406.9 98.5,404.2" fill="#808000"/>
<polygon points="109.5,406.0 111.7,407.7 110.9,410.4 108.0,410.4 107.2,407.7" fill="#808000"/>
<polygon points="118.1,408.7 120.4,410.4 119.5,413.1 116.7,413.1 115.8,410.4" fill="#808000"/>
<polygon points="126.7,411.0 129.0,412.6 128.1,415.3 125.3,415.3 124.4,412.6" fill="#808000"/>
<polygon points="135.3,412.8 137.6,414.5 136.7,417.1 133.9,417.1 133.1,414.5" fill="#808000"/>
<polygon points="144.0,414.3 146.2,416.0 145.4,418.7 142.6,418.7 141.7,416.0" fill="#808000"/>
<polygon points="152.6,415.6 154.9,417.2 154.0,419.9 151.2,419.9 150.3,417.2" fill="#808000"/>
<polygon points="161.2,416.6 163.5,418.3 162.6,421.0 159.8,421.0 158.9,418.3" fill="#808000"/>
<polygon points="169.8,417.5 172.1,419.2 171.3,421.9 168.4,421.9 167.6,419.2" fill="#808000"/>
<polyline points="49.1,375.0 57.7,311.7 66.3,355.5 74.9,376.7 83.6,388.1 92.2,394.9 100.8,399.5 109.5,402.9 118.1,405.6 126.7,407.8 135.3,409.6 144.0,411.0 152.6,412.3 161.2,413.3 169.8,414.2" fill="none" stroke="#2f66a8" stroke-width="1.0" stroke-linejoin="round"/>
<circle cx="49.05" cy="374.98" r="1.80" fill="#b5cdee" stroke="#2f66a8" stroke-width="1.00"/>
<circle cx="57.68" cy="311.66" r="1.80" fill="#b5cdee" stroke="#2f66a8" stroke-width="1.00"/>
<circle cx="66.31" cy="355.54" r="1.80" fill="#b5cdee" stroke="#2f66a8" stroke-width="1.00"/>
<circle cx="74.94" cy="376.73" r="1.80" fill="#b5cdee" stroke="#2f66a8" stroke-width="1.00"/>
<circle cx="83.57" cy="388.05" r="1.80" fill="#b5cdee" stroke="#2f66a8" stroke-width="1.00"/>
<circle cx="92.19" cy="394.88" r="1.80" fill="#b5cdee" stroke="#2f66a8" stroke-width="1.00"/>
<circle cx="100.82" cy="399.51" r="1.80" fill="#b5cdee" stroke="#2f66a8" stroke-width="1.00"/>
<circle cx="109.45" cy="402.93" r="1.80" fill="#b5cdee" stroke="#2f66a8" stroke-width="1.00"/>
<circle cx="118.08" cy="405.60" r="1.80" fill="#b5cdee" stroke="#2f66a8" stroke-width="1.00"/>
<circle cx="126.71" cy="407.77" r="1.80" fill="#b5cdee" stroke="#2f66a8" stroke-width="1.00"/>
<circle cx="135.33" cy="409.55" r="1.80" fill="#b5cdee" stroke="#2f66a8" stroke-width="1.00"/>
<circle cx="143.96" cy="411.03" r="1.80" fill="#b5cdee" stroke="#2f66a8" stroke-width="1.00"/>
<circle cx="152.59" cy="412.27" r="1.80" fill="#b5cdee" stroke="#2f66a8" stroke-width="1.00"/>
<circle cx="161.22" cy="413.30" r="1.80" fill="#b5cdee" stroke="#2f66a8" stroke-width="1.00"/>
<circle cx="169.84" cy="414.17" r="1.80" fill="#b5cdee" stroke="#2f66a8" stroke-width="1.00"/>
<polyline points="49.1,375.6 57.7,302.8 66.3,348.4 74.9,370.6 83.6,382.5 92.2,389.7 100.8,394.6 109.5,398.2 118.1,401.0 126.7,403.4 135.3,405.3 144.0,406.8 152.6,408.2 161.2,409.3 169.8,410.2" fill="none" stroke="#2a8c9a" stroke-width="1.0" stroke-linejoin="round"/>
<path d="M46.66,375.65H51.45M49.05,373.25V378.05" stroke="#2a8c9a" stroke-width="0.9" fill="none"/>
<path d="M55.28,302.80H60.08M57.68,300.40V305.20" stroke="#2a8c9a" stroke-width="0.9" fill="none"/>
<path d="M63.91,348.44H68.71M66.31,346.04V350.84" stroke="#2a8c9a" stroke-width="0.9" fill="none"/>
<path d="M72.54,370.57H77.34M74.94,368.17V372.97" stroke="#2a8c9a" stroke-width="0.9" fill="none"/>
<path d="M81.17,382.45H85.97M83.57,380.05V384.85" stroke="#2a8c9a" stroke-width="0.9" fill="none"/>
<path d="M89.79,389.66H94.59M92.19,387.26V392.06" stroke="#2a8c9a" stroke-width="0.9" fill="none"/>
<path d="M98.42,394.56H103.22M100.82,392.16V396.96" stroke="#2a8c9a" stroke-width="0.9" fill="none"/>
<path d="M107.05,398.19H111.85M109.45,395.79V400.59" stroke="#2a8c9a" stroke-width="0.9" fill="none"/>
<path d="M115.68,401.04H120.48M118.08,398.64V403.44" stroke="#2a8c9a" stroke-width="0.9" fill="none"/>
<path d="M124.31,403.35H129.11M126.71,400.95V405.75" stroke="#2a8c9a" stroke-width="0.9" fill="none"/>
<path d="M132.93,405.26H137.73M135.33,402.86V407.66" stroke="#2a8c9a" stroke-width="0.9" fill="none"/>
<path d="M141.56,406.84H146.36M143.96,404.44V409.24" stroke="#2a8c9a" stroke-width="0.9" fill="none"/>
<path d="M150.19,408.16H154.99M152.59,405.76V410.56" stroke="#2a8c9a" stroke-width="0.9" fill="none"/>
<path d="M158.82,409.26H163.62M161.22,406.86V411.66" stroke="#2a8c9a" stroke-width="0.9" fill="none"/>
<path d="M167.44,410.18H172.25M169.84,407.78V412.58" stroke="#2a8c9a" stroke-width="0.9" fill="none"/>
<rect x="45.00" y="295.80" width="180.20" height="154.90" fill="none" stroke="#222" stroke-width="1.3"/>
<path d="M42.00,450.70H45.00M42.00,428.56H45.00M42.00,406.42H45.00M42.00,384.28H45.00M42.00,362.14H45.00M42.00,340.00H45.00M42.00,317.86H45.00M42.00,295.72H45.00M43.20,439.70H45.00M43.20,417.56H45.00M43.20,395.42H45.00M43.20,373.28H45.00M43.20,351.14H45.00M43.20,329.00H45.00M43.20,306.86H45.00" stroke="#111" stroke-width="1.25" fill="none"/>
<g transform="translate(40.80 454.20) scale(0.830 1)"><text x="0" y="0" font-size="12.0" text-anchor="end" font-weight="bold" fill="#000">3.8</text></g>
<g transform="translate(40.80 432.06) scale(0.830 1)"><text x="0" y="0" font-size="12.0" text-anchor="end" font-weight="bold" fill="#000">3.9</text></g>
<g transform="translate(40.80 409.92) scale(0.830 1)"><text x="0" y="0" font-size="12.0" text-anchor="end" font-weight="bold" fill="#000">4.0</text></g>
<g transform="translate(40.80 387.78) scale(0.830 1)"><text x="0" y="0" font-size="12.0" text-anchor="end" font-weight="bold" fill="#000">4.1</text></g>
<g transform="translate(40.80 365.64) scale(0.830 1)"><text x="0" y="0" font-size="12.0" text-anchor="end" font-weight="bold" fill="#000">4.2</text></g>
<g transform="translate(40.80 343.50) scale(0.830 1)"><text x="0" y="0" font-size="12.0" text-anchor="end" font-weight="bold" fill="#000">4.3</text></g>
<g transform="translate(40.80 321.36) scale(0.830 1)"><text x="0" y="0" font-size="12.0" text-anchor="end" font-weight="bold" fill="#000">4.4</text></g>
<g transform="translate(40.80 299.22) scale(0.830 1)"><text x="0" y="0" font-size="12.0" text-anchor="end" font-weight="bold" fill="#000">4.5</text></g>
<path d="M45.20,450.70V453.70M70.90,450.70V453.70M96.60,450.70V453.70M122.30,450.70V453.70M148.00,450.70V453.70M173.70,450.70V453.70M199.40,450.70V453.70M225.10,450.70V453.70M58.05,450.70V452.50M83.75,450.70V452.50M109.45,450.70V452.50M135.15,450.70V452.50M160.85,450.70V452.50M186.55,450.70V452.50M212.25,450.70V452.50" stroke="#111" stroke-width="1.25" fill="none"/>
<g transform="translate(45.20 465.20) scale(0.830 1)"><text x="0" y="0" font-size="12.0" text-anchor="middle" font-weight="bold" fill="#000">0</text></g>
<g transform="translate(70.90 465.20) scale(0.830 1)"><text x="0" y="0" font-size="12.0" text-anchor="middle" font-weight="bold" fill="#000">10</text></g>
<g transform="translate(96.60 465.20) scale(0.830 1)"><text x="0" y="0" font-size="12.0" text-anchor="middle" font-weight="bold" fill="#000">20</text></g>
<g transform="translate(122.30 465.20) scale(0.830 1)"><text x="0" y="0" font-size="12.0" text-anchor="middle" font-weight="bold" fill="#000">30</text></g>
<g transform="translate(148.00 465.20) scale(0.830 1)"><text x="0" y="0" font-size="12.0" text-anchor="middle" font-weight="bold" fill="#000">40</text></g>
<g transform="translate(173.70 465.20) scale(0.830 1)"><text x="0" y="0" font-size="12.0" text-anchor="middle" font-weight="bold" fill="#000">50</text></g>
<g transform="translate(199.40 465.20) scale(0.830 1)"><text x="0" y="0" font-size="12.0" text-anchor="middle" font-weight="bold" fill="#000">60</text></g>
<g transform="translate(225.10 465.20) scale(0.830 1)"><text x="0" y="0" font-size="12.0" text-anchor="middle" font-weight="bold" fill="#000">70</text></g>
<text x="20.40" y="380.00" font-size="12" text-anchor="middle" font-weight="bold" letter-spacing="1.3" textLength="73" lengthAdjust="spacingAndGlyphs" transform="rotate(-90 20.40 380.00)">Current (mA)</text>
<text x="135.4" y="482.7" font-size="11.5" text-anchor="middle" font-weight="bold" fill="#000" textLength="42.3" lengthAdjust="spacingAndGlyphs">Time (µs)</text>
<line x1="170.70" y1="304.60" x2="187.60" y2="304.60" stroke="#000000" stroke-width="1.0"/>
<rect x="177.25" y="302.70" width="3.80" height="3.80" fill="#000000"/>
<g transform="translate(190.00 306.70) scale(0.900 1)"><text x="0" y="0" font-size="8.8" text-anchor="start" font-weight="bold" fill="#000">1X PBS</text></g>
<line x1="170.70" y1="316.60" x2="187.60" y2="316.60" stroke="#ff0000" stroke-width="1.0"/>
<circle cx="179.15" cy="316.60" r="1.99" fill="#ff0000"/>
<g transform="translate(190.00 318.70) scale(0.900 1)"><text x="0" y="0" font-size="8.8" text-anchor="start" font-weight="bold" fill="#000">Aptamer</text></g>
<line x1="170.70" y1="328.60" x2="187.60" y2="328.60" stroke="#0000ff" stroke-width="1.0"/>
<polygon points="179.1,326.3 181.3,330.1 177.0,330.1" fill="#0000ff"/>
<g transform="translate(190.00 330.70) scale(0.900 1)"><text x="0" y="0" font-size="8.8" text-anchor="start" font-weight="bold" fill="#000">0.34 mg/L</text></g>
<line x1="170.70" y1="340.60" x2="187.60" y2="340.60" stroke="#ff00ff" stroke-width="1.0"/>
<polygon points="179.1,342.9 181.3,339.1 177.0,339.1" fill="#ff00ff"/>
<g transform="translate(190.00 342.70) scale(0.900 1)"><text x="0" y="0" font-size="8.8" text-anchor="start" font-weight="bold" fill="#000">0.36 mg/L</text></g>
<line x1="170.70" y1="352.60" x2="187.60" y2="352.60" stroke="#008000" stroke-width="1.0"/>
<polygon points="179.1,350.1 181.2,352.6 179.1,355.1 177.1,352.6" fill="#008000"/>
<g transform="translate(190.00 354.70) scale(0.900 1)"><text x="0" y="0" font-size="8.8" text-anchor="start" font-weight="bold" fill="#000">0.38 mg/L</text></g>
<line x1="170.70" y1="364.60" x2="187.60" y2="364.60" stroke="#000080" stroke-width="1.0"/>
<polygon points="176.9,364.6 180.7,362.4 180.7,366.8" fill="#000080"/>
<g transform="translate(190.00 366.70) scale(0.900 1)"><text x="0" y="0" font-size="8.8" text-anchor="start" font-weight="bold" fill="#000">0.65 mg/L</text></g>
<line x1="170.70" y1="376.60" x2="187.60" y2="376.60" stroke="#8000ff" stroke-width="1.0"/>
<polygon points="181.4,376.6 177.6,374.4 177.6,378.8" fill="#8000ff"/>
<g transform="translate(190.00 378.70) scale(0.900 1)"><text x="0" y="0" font-size="8.8" text-anchor="start" font-weight="bold" fill="#000">1.37 mg/L</text></g>
<line x1="170.70" y1="388.60" x2="187.60" y2="388.60" stroke="#800080" stroke-width="1.0"/>
<polygon points="181.3,388.6 180.2,390.5 178.1,390.5 177.0,388.6 178.1,386.7 180.2,386.7" fill="#800080"/>
<g transform="translate(190.00 390.70) scale(0.900 1)"><text x="0" y="0" font-size="8.8" text-anchor="start" font-weight="bold" fill="#000">1.5 mg/L</text></g>
<line x1="170.70" y1="400.60" x2="187.60" y2="400.60" stroke="#800000" stroke-width="1.0"/>
<polygon points="179.1,397.9 179.9,399.6 181.7,399.8 180.3,401.0 180.7,402.8 179.1,401.8 177.6,402.8 178.0,401.0 176.6,399.8 178.4,399.6" fill="#800000"/>
<g transform="translate(190.00 402.70) scale(0.900 1)"><text x="0" y="0" font-size="8.8" text-anchor="start" font-weight="bold" fill="#000">2.3 mg/L</text></g>
<line x1="170.70" y1="412.60" x2="187.60" y2="412.60" stroke="#808000" stroke-width="1.0"/>
<polygon points="179.1,410.3 181.3,411.9 180.5,414.4 177.8,414.4 177.0,411.9" fill="#808000"/>
<g transform="translate(190.00 414.70) scale(0.900 1)"><text x="0" y="0" font-size="8.8" text-anchor="start" font-weight="bold" fill="#000">5.4 mg/L</text></g>
<line x1="170.70" y1="424.60" x2="187.60" y2="424.60" stroke="#2f66a8" stroke-width="1.0"/>
<circle cx="179.15" cy="424.60" r="1.71" fill="#b5cdee" stroke="#2f66a8" stroke-width="0.95"/>
<g transform="translate(190.00 426.70) scale(0.900 1)"><text x="0" y="0" font-size="8.8" text-anchor="start" font-weight="bold" fill="#000">9.2 mg/L</text></g>
<line x1="170.70" y1="436.60" x2="187.60" y2="436.60" stroke="#2a8c9a" stroke-width="1.0"/>
<path d="M176.87,436.60H181.43M179.15,434.32V438.88" stroke="#2a8c9a" stroke-width="0.9" fill="none"/>
<g transform="translate(190.00 438.70) scale(0.900 1)"><text x="0" y="0" font-size="8.8" text-anchor="start" font-weight="bold" fill="#000">23.2 mg/L</text></g>
<text x="245.8" y="258.3" font-size="14" text-anchor="start" font-weight="bold" fill="#000">(e)</text>
<text x="272.3" y="280.2" font-size="10.6" text-anchor="start" font-weight="bold" fill="#000" textLength="154.4" lengthAdjust="spacingAndGlyphs">Accumulated charges for different</text>
<text x="272.3" y="294.6" font-size="10.6" text-anchor="start" font-weight="bold" fill="#000" textLength="131.0" lengthAdjust="spacingAndGlyphs">CRP concentrations in serum</text>
<polyline points="274.6,443.7 283.2,439.9 291.8,436.2 300.4,432.9 309.1,429.7 317.7,426.7 326.3,423.7 334.9,420.8 343.6,418.0 352.2,415.1 360.8,412.3 369.5,409.6 378.1,406.8 386.7,404.0 395.3,401.2" fill="none" stroke="#000000" stroke-width="1.0" stroke-linejoin="round"/>
<rect x="272.56" y="441.73" width="4.00" height="4.00" fill="#000000"/>
<rect x="281.18" y="437.90" width="4.00" height="4.00" fill="#000000"/>
<rect x="289.81" y="434.22" width="4.00" height="4.00" fill="#000000"/>
<rect x="298.44" y="430.92" width="4.00" height="4.00" fill="#000000"/>
<rect x="307.07" y="427.74" width="4.00" height="4.00" fill="#000000"/>
<rect x="315.69" y="424.66" width="4.00" height="4.00" fill="#000000"/>
<rect x="324.32" y="421.73" width="4.00" height="4.00" fill="#000000"/>
<rect x="332.95" y="418.84" width="4.00" height="4.00" fill="#000000"/>
<rect x="341.58" y="415.96" width="4.00" height="4.00" fill="#000000"/>
<rect x="350.21" y="413.15" width="4.00" height="4.00" fill="#000000"/>
<rect x="358.83" y="410.34" width="4.00" height="4.00" fill="#000000"/>
<rect x="367.46" y="407.55" width="4.00" height="4.00" fill="#000000"/>
<rect x="376.09" y="404.80" width="4.00" height="4.00" fill="#000000"/>
<rect x="384.72" y="402.03" width="4.00" height="4.00" fill="#000000"/>
<rect x="393.34" y="399.19" width="4.00" height="4.00" fill="#000000"/>
<polyline points="274.6,443.7 283.2,438.7 291.8,433.8 300.4,429.6 309.1,425.5 317.7,421.5 326.3,417.8 334.9,414.2 343.6,410.6 352.2,407.1 360.8,403.6 369.5,400.1 378.1,396.6 386.7,393.2 395.3,389.6" fill="none" stroke="#ff0000" stroke-width="1.0" stroke-linejoin="round"/>
<circle cx="274.56" cy="443.73" r="2.10" fill="#ff0000"/>
<circle cx="283.18" cy="438.65" r="2.10" fill="#ff0000"/>
<circle cx="291.81" cy="433.82" r="2.10" fill="#ff0000"/>
<circle cx="300.44" cy="429.55" r="2.10" fill="#ff0000"/>
<circle cx="309.07" cy="425.47" r="2.10" fill="#ff0000"/>
<circle cx="317.69" cy="421.54" r="2.10" fill="#ff0000"/>
<circle cx="326.32" cy="417.84" r="2.10" fill="#ff0000"/>
<circle cx="334.95" cy="414.21" r="2.10" fill="#ff0000"/>
<circle cx="343.58" cy="410.57" r="2.10" fill="#ff0000"/>
<circle cx="352.21" cy="407.06" r="2.10" fill="#ff0000"/>
<circle cx="360.83" cy="403.55" r="2.10" fill="#ff0000"/>
<circle cx="369.46" cy="400.06" r="2.10" fill="#ff0000"/>
<circle cx="378.09" cy="396.64" r="2.10" fill="#ff0000"/>
<circle cx="386.72" cy="393.18" r="2.10" fill="#ff0000"/>
<circle cx="395.34" cy="389.62" r="2.10" fill="#ff0000"/>
<polyline points="274.6,443.7 283.2,429.4 291.8,416.4 300.4,406.7 309.1,398.1 317.7,390.3 326.3,383.9 334.9,377.8 343.6,371.7 352.2,366.4 360.8,361.0 369.5,355.8 378.1,350.9 386.7,345.9 395.3,340.2" fill="none" stroke="#0000ff" stroke-width="1.0" stroke-linejoin="round"/>
<polygon points="274.6,441.3 276.9,445.3 272.3,445.3" fill="#0000ff"/>
<polygon points="283.2,427.0 285.5,431.0 280.9,431.0" fill="#0000ff"/>
<polygon points="291.8,414.0 294.1,418.0 289.5,418.0" fill="#0000ff"/>
<polygon points="300.4,404.3 302.7,408.3 298.1,408.3" fill="#0000ff"/>
<polygon points="309.1,395.7 311.4,399.7 306.8,399.7" fill="#0000ff"/>
<polygon points="317.7,387.9 320.0,391.9 315.4,391.9" fill="#0000ff"/>
<polygon points="326.3,381.5 328.6,385.5 324.0,385.5" fill="#0000ff"/>
<polygon points="334.9,375.4 337.2,379.4 332.6,379.4" fill="#0000ff"/>
<polygon points="343.6,369.3 345.9,373.3 341.3,373.3" fill="#0000ff"/>
<polygon points="352.2,364.0 354.5,368.0 349.9,368.0" fill="#0000ff"/>
<polygon points="360.8,358.6 363.1,362.6 358.5,362.6" fill="#0000ff"/>
<polygon points="369.5,353.4 371.8,357.4 367.2,357.4" fill="#0000ff"/>
<polygon points="378.1,348.5 380.4,352.5 375.8,352.5" fill="#0000ff"/>
<polygon points="386.7,343.5 389.0,347.5 384.4,347.5" fill="#0000ff"/>
<polygon points="395.3,337.8 397.6,341.8 393.0,341.8" fill="#0000ff"/>
<polyline points="274.6,443.7 283.2,431.5 291.8,420.5 300.4,412.1 309.1,404.7 317.7,397.9 326.3,392.2 334.9,386.9 343.6,381.5 352.2,376.7 360.8,371.9 369.5,367.3 378.1,362.9 386.7,358.4 395.3,353.3" fill="none" stroke="#ff00ff" stroke-width="1.0" stroke-linejoin="round"/>
<polygon points="274.6,446.1 276.9,442.1 272.3,442.1" fill="#ff00ff"/>
<polygon points="283.2,433.9 285.5,429.9 280.9,429.9" fill="#ff00ff"/>
<polygon points="291.8,422.9 294.1,418.9 289.5,418.9" fill="#ff00ff"/>
<polygon points="300.4,414.5 302.7,410.5 298.1,410.5" fill="#ff00ff"/>
<polygon points="309.1,407.1 311.4,403.1 306.8,403.1" fill="#ff00ff"/>
<polygon points="317.7,400.3 320.0,396.3 315.4,396.3" fill="#ff00ff"/>
<polygon points="326.3,394.6 328.6,390.6 324.0,390.6" fill="#ff00ff"/>
<polygon points="334.9,389.3 337.2,385.3 332.6,385.3" fill="#ff00ff"/>
<polygon points="343.6,383.9 345.9,379.9 341.3,379.9" fill="#ff00ff"/>
<polygon points="352.2,379.1 354.5,375.1 349.9,375.1" fill="#ff00ff"/>
<polygon points="360.8,374.3 363.1,370.3 358.5,370.3" fill="#ff00ff"/>
<polygon points="369.5,369.7 371.8,365.7 367.2,365.7" fill="#ff00ff"/>
<polygon points="378.1,365.3 380.4,361.3 375.8,361.3" fill="#ff00ff"/>
<polygon points="386.7,360.8 389.0,356.8 384.4,356.8" fill="#ff00ff"/>
<polygon points="395.3,355.7 397.6,351.7 393.0,351.7" fill="#ff00ff"/>
<polyline points="274.6,443.7 283.2,430.8 291.8,419.1 300.4,410.3 309.1,402.4 317.7,395.4 326.3,389.5 334.9,383.9 343.6,378.4 352.2,373.4 360.8,368.5 369.5,363.7 378.1,359.2 386.7,354.5 395.3,349.3" fill="none" stroke="#008000" stroke-width="1.0" stroke-linejoin="round"/>
<polygon points="274.6,441.1 276.8,443.7 274.6,446.3 272.4,443.7" fill="#008000"/>
<polygon points="283.2,428.2 285.4,430.8 283.2,433.4 281.0,430.8" fill="#008000"/>
<polygon points="291.8,416.5 294.0,419.1 291.8,421.7 289.6,419.1" fill="#008000"/>
<polygon points="300.4,407.7 302.6,410.3 300.4,412.9 298.2,410.3" fill="#008000"/>
<polygon points="309.1,399.8 311.3,402.4 309.1,405.0 306.9,402.4" fill="#008000"/>
<polygon points="317.7,392.8 319.9,395.4 317.7,398.0 315.5,395.4" fill="#008000"/>
<polygon points="326.3,386.9 328.5,389.5 326.3,392.1 324.1,389.5" fill="#008000"/>
<polygon points="334.9,381.3 337.1,383.9 334.9,386.5 332.8,383.9" fill="#008000"/>
<polygon points="343.6,375.8 345.8,378.4 343.6,381.0 341.4,378.4" fill="#008000"/>
<polygon points="352.2,370.8 354.4,373.4 352.2,376.0 350.0,373.4" fill="#008000"/>
<polygon points="360.8,365.9 363.0,368.5 360.8,371.1 358.6,368.5" fill="#008000"/>
<polygon points="369.5,361.1 371.7,363.7 369.5,366.3 367.3,363.7" fill="#008000"/>
<polygon points="378.1,356.6 380.3,359.2 378.1,361.8 375.9,359.2" fill="#008000"/>
<polygon points="386.7,351.9 388.9,354.5 386.7,357.1 384.5,354.5" fill="#008000"/>
<polygon points="395.3,346.7 397.5,349.3 395.3,351.9 393.1,349.3" fill="#008000"/>
<polyline points="274.6,443.7 283.2,429.9 291.8,417.4 300.4,408.1 309.1,399.8 317.7,392.3 326.3,386.1 334.9,380.3 343.6,374.4 352.2,369.2 360.8,364.1 369.5,359.0 378.1,354.3 386.7,349.5 395.3,344.0" fill="none" stroke="#000080" stroke-width="1.0" stroke-linejoin="round"/>
<polygon points="272.2,443.7 276.2,441.4 276.2,446.0" fill="#000080"/>
<polygon points="280.8,429.9 284.8,427.6 284.8,432.2" fill="#000080"/>
<polygon points="289.4,417.4 293.4,415.1 293.4,419.7" fill="#000080"/>
<polygon points="298.0,408.1 302.0,405.8 302.0,410.4" fill="#000080"/>
<polygon points="306.7,399.8 310.7,397.5 310.7,402.1" fill="#000080"/>
<polygon points="315.3,392.3 319.3,390.0 319.3,394.6" fill="#000080"/>
<polygon points="323.9,386.1 327.9,383.8 327.9,388.4" fill="#000080"/>
<polygon points="332.6,380.3 336.6,378.0 336.6,382.6" fill="#000080"/>
<polygon points="341.2,374.4 345.2,372.1 345.2,376.7" fill="#000080"/>
<polygon points="349.8,369.2 353.8,366.9 353.8,371.5" fill="#000080"/>
<polygon points="358.4,364.1 362.4,361.8 362.4,366.4" fill="#000080"/>
<polygon points="367.1,359.0 371.1,356.7 371.1,361.3" fill="#000080"/>
<polygon points="375.7,354.3 379.7,352.0 379.7,356.6" fill="#000080"/>
<polygon points="384.3,349.5 388.3,347.2 388.3,351.8" fill="#000080"/>
<polygon points="392.9,344.0 396.9,341.7 396.9,346.3" fill="#000080"/>
<polyline points="274.6,443.7 283.2,429.0 291.8,415.7 300.4,405.8 309.1,397.0 317.7,389.1 326.3,382.5 334.9,376.4 343.6,370.2 352.2,364.8 360.8,359.4 369.5,354.2 378.1,349.3 386.7,344.2 395.3,338.5" fill="none" stroke="#8000ff" stroke-width="1.0" stroke-linejoin="round"/>
<polygon points="277.0,443.7 273.0,441.4 273.0,446.0" fill="#8000ff"/>
<polygon points="285.6,429.0 281.6,426.7 281.6,431.3" fill="#8000ff"/>
<polygon points="294.2,415.7 290.2,413.4 290.2,418.0" fill="#8000ff"/>
<polygon points="302.8,405.8 298.8,403.5 298.8,408.1" fill="#8000ff"/>
<polygon points="311.5,397.0 307.5,394.7 307.5,399.3" fill="#8000ff"/>
<polygon points="320.1,389.1 316.1,386.8 316.1,391.4" fill="#8000ff"/>
<polygon points="328.7,382.5 324.7,380.2 324.7,384.8" fill="#8000ff"/>
<polygon points="337.3,376.4 333.3,374.1 333.3,378.7" fill="#8000ff"/>
<polygon points="346.0,370.2 342.0,367.9 342.0,372.5" fill="#8000ff"/>
<polygon points="354.6,364.8 350.6,362.5 350.6,367.1" fill="#8000ff"/>
<polygon points="363.2,359.4 359.2,357.1 359.2,361.7" fill="#8000ff"/>
<polygon points="371.9,354.2 367.9,351.9 367.9,356.5" fill="#8000ff"/>
<polygon points="380.5,349.3 376.5,347.0 376.5,351.6" fill="#8000ff"/>
<polygon points="389.1,344.2 385.1,341.9 385.1,346.5" fill="#8000ff"/>
<polygon points="397.7,338.5 393.7,336.2 393.7,340.8" fill="#8000ff"/>
<polyline points="274.6,443.7 283.2,428.4 291.8,414.7 300.4,404.5 309.1,395.5 317.7,387.4 326.3,380.8 334.9,374.6 343.6,368.3 352.2,362.9 360.8,357.5 369.5,352.2 378.1,347.2 386.7,342.1 395.3,336.4" fill="none" stroke="#800080" stroke-width="1.0" stroke-linejoin="round"/>
<polygon points="276.9,443.7 275.7,445.7 273.4,445.7 272.3,443.7 273.4,441.7 275.7,441.7" fill="#800080"/>
<polygon points="285.5,428.4 284.3,430.4 282.0,430.4 280.9,428.4 282.0,426.5 284.3,426.5" fill="#800080"/>
<polygon points="294.1,414.7 293.0,416.7 290.7,416.7 289.5,414.7 290.7,412.7 293.0,412.7" fill="#800080"/>
<polygon points="302.7,404.5 301.6,406.5 299.3,406.5 298.1,404.5 299.3,402.5 301.6,402.5" fill="#800080"/>
<polygon points="311.4,395.5 310.2,397.5 307.9,397.5 306.8,395.5 307.9,393.5 310.2,393.5" fill="#800080"/>
<polygon points="320.0,387.4 318.8,389.4 316.5,389.4 315.4,387.4 316.5,385.4 318.8,385.4" fill="#800080"/>
<polygon points="328.6,380.8 327.5,382.8 325.2,382.8 324.0,380.8 325.2,378.8 327.5,378.8" fill="#800080"/>
<polygon points="337.2,374.6 336.1,376.6 333.8,376.6 332.6,374.6 333.8,372.6 336.1,372.6" fill="#800080"/>
<polygon points="345.9,368.3 344.7,370.3 342.4,370.3 341.3,368.3 342.4,366.3 344.7,366.3" fill="#800080"/>
<polygon points="354.5,362.9 353.4,364.9 351.1,364.9 349.9,362.9 351.1,360.9 353.4,360.9" fill="#800080"/>
<polygon points="363.1,357.5 362.0,359.5 359.7,359.5 358.5,357.5 359.7,355.5 362.0,355.5" fill="#800080"/>
<polygon points="371.8,352.2 370.6,354.1 368.3,354.1 367.2,352.2 368.3,350.2 370.6,350.2" fill="#800080"/>
<polygon points="380.4,347.2 379.2,349.2 376.9,349.2 375.8,347.2 376.9,345.3 379.2,345.3" fill="#800080"/>
<polygon points="389.0,342.1 387.9,344.1 385.6,344.1 384.4,342.1 385.6,340.1 387.9,340.1" fill="#800080"/>
<polygon points="397.6,336.4 396.5,338.4 394.2,338.4 393.0,336.4 394.2,334.4 396.5,334.4" fill="#800080"/>
<polyline points="274.6,443.7 283.2,428.0 291.8,413.7 300.4,403.3 309.1,394.0 317.7,385.8 326.3,379.0 334.9,372.7 343.6,366.4 352.2,360.9 360.8,355.4 369.5,350.0 378.1,345.0 386.7,339.9 395.3,334.0" fill="none" stroke="#800000" stroke-width="1.0" stroke-linejoin="round"/>
<polygon points="274.6,440.9 275.3,442.7 277.2,442.9 275.8,444.1 276.2,446.0 274.6,445.0 272.9,446.0 273.4,444.1 271.9,442.9 273.8,442.7" fill="#800000"/>
<polygon points="283.2,425.2 283.9,426.9 285.8,427.1 284.4,428.3 284.8,430.2 283.2,429.2 281.5,430.2 282.0,428.3 280.5,427.1 282.4,426.9" fill="#800000"/>
<polygon points="291.8,410.9 292.6,412.7 294.5,412.9 293.0,414.1 293.5,416.0 291.8,415.0 290.2,416.0 290.6,414.1 289.1,412.9 291.1,412.7" fill="#800000"/>
<polygon points="300.4,400.5 301.2,402.3 303.1,402.4 301.6,403.7 302.1,405.6 300.4,404.6 298.8,405.6 299.2,403.7 297.8,402.4 299.7,402.3" fill="#800000"/>
<polygon points="309.1,391.2 309.8,393.0 311.7,393.2 310.3,394.4 310.7,396.3 309.1,395.3 307.4,396.3 307.9,394.4 306.4,393.2 308.3,393.0" fill="#800000"/>
<polygon points="317.7,383.0 318.4,384.8 320.4,384.9 318.9,386.2 319.3,388.1 317.7,387.0 316.0,388.1 316.5,386.2 315.0,384.9 317.0,384.8" fill="#800000"/>
<polygon points="326.3,376.2 327.1,378.0 329.0,378.2 327.5,379.4 328.0,381.3 326.3,380.3 324.7,381.3 325.1,379.4 323.7,378.2 325.6,378.0" fill="#800000"/>
<polygon points="334.9,369.9 335.7,371.7 337.6,371.9 336.1,373.1 336.6,375.0 334.9,374.0 333.3,375.0 333.8,373.1 332.3,371.9 334.2,371.7" fill="#800000"/>
<polygon points="343.6,363.6 344.3,365.4 346.2,365.5 344.8,366.8 345.2,368.7 343.6,367.6 341.9,368.7 342.4,366.8 340.9,365.5 342.8,365.4" fill="#800000"/>
<polygon points="352.2,358.1 352.9,359.9 354.9,360.0 353.4,361.3 353.9,363.1 352.2,362.1 350.6,363.1 351.0,361.3 349.5,360.0 351.5,359.9" fill="#800000"/>
<polygon points="360.8,352.6 361.6,354.4 363.5,354.5 362.0,355.8 362.5,357.6 360.8,356.6 359.2,357.6 359.6,355.8 358.2,354.5 360.1,354.4" fill="#800000"/>
<polygon points="369.5,347.2 370.2,349.0 372.1,349.1 370.7,350.4 371.1,352.3 369.5,351.3 367.8,352.3 368.3,350.4 366.8,349.1 368.7,349.0" fill="#800000"/>
<polygon points="378.1,342.2 378.8,344.0 380.8,344.2 379.3,345.4 379.7,347.3 378.1,346.3 376.4,347.3 376.9,345.4 375.4,344.2 377.3,344.0" fill="#800000"/>
<polygon points="386.7,337.1 387.5,338.9 389.4,339.0 387.9,340.3 388.4,342.1 386.7,341.1 385.1,342.1 385.5,340.3 384.1,339.0 386.0,338.9" fill="#800000"/>
<polygon points="395.3,331.2 396.1,333.0 398.0,333.2 396.5,334.4 397.0,336.3 395.3,335.3 393.7,336.3 394.1,334.4 392.7,333.2 394.6,333.0" fill="#800000"/>
<polyline points="274.6,443.7 283.2,426.5 291.8,411.1 300.4,399.8 309.1,389.8 317.7,380.9 326.3,373.7 334.9,366.9 343.6,360.2 352.2,354.4 360.8,348.5 369.5,342.8 378.1,337.6 386.7,332.1 395.3,325.9" fill="none" stroke="#808000" stroke-width="1.0" stroke-linejoin="round"/>
<polygon points="274.6,441.3 276.8,443.0 276.0,445.7 273.1,445.7 272.3,443.0" fill="#808000"/>
<polygon points="283.2,424.1 285.5,425.8 284.6,428.5 281.8,428.5 280.9,425.8" fill="#808000"/>
<polygon points="291.8,408.7 294.1,410.3 293.2,413.0 290.4,413.0 289.5,410.3" fill="#808000"/>
<polygon points="300.4,397.4 302.7,399.0 301.8,401.7 299.0,401.7 298.2,399.0" fill="#808000"/>
<polygon points="309.1,387.4 311.3,389.0 310.5,391.7 307.7,391.7 306.8,389.0" fill="#808000"/>
<polygon points="317.7,378.5 320.0,380.1 319.1,382.8 316.3,382.8 315.4,380.1" fill="#808000"/>
<polygon points="326.3,371.3 328.6,372.9 327.7,375.6 324.9,375.6 324.0,372.9" fill="#808000"/>
<polygon points="334.9,364.5 337.2,366.2 336.4,368.9 333.5,368.9 332.7,366.2" fill="#808000"/>
<polygon points="343.6,357.8 345.9,359.5 345.0,362.1 342.2,362.1 341.3,359.5" fill="#808000"/>
<polygon points="352.2,352.0 354.5,353.6 353.6,356.3 350.8,356.3 349.9,353.6" fill="#808000"/>
<polygon points="360.8,346.1 363.1,347.8 362.2,350.5 359.4,350.5 358.6,347.8" fill="#808000"/>
<polygon points="369.5,340.4 371.7,342.1 370.9,344.8 368.1,344.8 367.2,342.1" fill="#808000"/>
<polygon points="378.1,335.2 380.4,336.9 379.5,339.5 376.7,339.5 375.8,336.9" fill="#808000"/>
<polygon points="386.7,329.7 389.0,331.4 388.1,334.1 385.3,334.1 384.4,331.4" fill="#808000"/>
<polygon points="395.3,323.5 397.6,325.2 396.8,327.9 393.9,327.9 393.1,325.2" fill="#808000"/>
<polyline points="274.6,443.7 283.2,425.2 291.8,408.5 300.4,396.3 309.1,385.5 317.7,375.9 326.3,368.1 334.9,360.8 343.6,353.5 352.2,347.2 360.8,340.9 369.5,334.8 378.1,329.1 386.7,323.2 395.3,316.5" fill="none" stroke="#2f66a8" stroke-width="1.0" stroke-linejoin="round"/>
<circle cx="274.56" cy="443.73" r="1.80" fill="#b5cdee" stroke="#2f66a8" stroke-width="1.00"/>
<circle cx="283.18" cy="425.15" r="1.80" fill="#b5cdee" stroke="#2f66a8" stroke-width="1.00"/>
<circle cx="291.81" cy="408.45" r="1.80" fill="#b5cdee" stroke="#2f66a8" stroke-width="1.00"/>
<circle cx="300.44" cy="396.26" r="1.80" fill="#b5cdee" stroke="#2f66a8" stroke-width="1.00"/>
<circle cx="309.07" cy="385.45" r="1.80" fill="#b5cdee" stroke="#2f66a8" stroke-width="1.00"/>
<circle cx="317.69" cy="375.88" r="1.80" fill="#b5cdee" stroke="#2f66a8" stroke-width="1.00"/>
<circle cx="326.32" cy="368.10" r="1.80" fill="#b5cdee" stroke="#2f66a8" stroke-width="1.00"/>
<circle cx="334.95" cy="360.82" r="1.80" fill="#b5cdee" stroke="#2f66a8" stroke-width="1.00"/>
<circle cx="343.58" cy="353.53" r="1.80" fill="#b5cdee" stroke="#2f66a8" stroke-width="1.00"/>
<circle cx="352.21" cy="347.23" r="1.80" fill="#b5cdee" stroke="#2f66a8" stroke-width="1.00"/>
<circle cx="360.83" cy="340.93" r="1.80" fill="#b5cdee" stroke="#2f66a8" stroke-width="1.00"/>
<circle cx="369.46" cy="334.79" r="1.80" fill="#b5cdee" stroke="#2f66a8" stroke-width="1.00"/>
<circle cx="378.09" cy="329.14" r="1.80" fill="#b5cdee" stroke="#2f66a8" stroke-width="1.00"/>
<circle cx="386.72" cy="323.25" r="1.80" fill="#b5cdee" stroke="#2f66a8" stroke-width="1.00"/>
<circle cx="395.34" cy="316.54" r="1.80" fill="#b5cdee" stroke="#2f66a8" stroke-width="1.00"/>
<polyline points="274.6,443.7 283.2,423.9 291.8,406.0 300.4,393.0 309.1,381.5 317.7,371.2 326.3,362.9 334.9,355.1 343.6,347.4 352.2,340.6 360.8,333.9 369.5,327.3 378.1,321.3 386.7,315.0 395.3,307.8" fill="none" stroke="#2a8c9a" stroke-width="1.0" stroke-linejoin="round"/>
<path d="M272.16,443.73H276.95M274.56,441.33V446.13" stroke="#2a8c9a" stroke-width="0.9" fill="none"/>
<path d="M280.78,423.88H285.58M283.18,421.48V426.28" stroke="#2a8c9a" stroke-width="0.9" fill="none"/>
<path d="M289.41,406.04H294.21M291.81,403.64V408.44" stroke="#2a8c9a" stroke-width="0.9" fill="none"/>
<path d="M298.04,393.01H302.84M300.44,390.61V395.41" stroke="#2a8c9a" stroke-width="0.9" fill="none"/>
<path d="M306.67,381.47H311.47M309.07,379.07V383.87" stroke="#2a8c9a" stroke-width="0.9" fill="none"/>
<path d="M315.29,371.24H320.09M317.69,368.84V373.64" stroke="#2a8c9a" stroke-width="0.9" fill="none"/>
<path d="M323.92,362.93H328.72M326.32,360.53V365.33" stroke="#2a8c9a" stroke-width="0.9" fill="none"/>
<path d="M332.55,355.15H337.35M334.95,352.75V357.55" stroke="#2a8c9a" stroke-width="0.9" fill="none"/>
<path d="M341.18,347.36H345.98M343.58,344.96V349.76" stroke="#2a8c9a" stroke-width="0.9" fill="none"/>
<path d="M349.81,340.63H354.61M352.21,338.23V343.03" stroke="#2a8c9a" stroke-width="0.9" fill="none"/>
<path d="M358.43,333.90H363.23M360.83,331.50V336.30" stroke="#2a8c9a" stroke-width="0.9" fill="none"/>
<path d="M367.06,327.34H371.86M369.46,324.94V329.74" stroke="#2a8c9a" stroke-width="0.9" fill="none"/>
<path d="M375.69,321.30H380.49M378.09,318.90V323.70" stroke="#2a8c9a" stroke-width="0.9" fill="none"/>
<path d="M384.32,315.01H389.12M386.72,312.61V317.41" stroke="#2a8c9a" stroke-width="0.9" fill="none"/>
<path d="M392.94,307.84H397.74M395.34,305.44V310.24" stroke="#2a8c9a" stroke-width="0.9" fill="none"/>
<rect x="270.40" y="296.50" width="180.10" height="157.50" fill="none" stroke="#222" stroke-width="1.3"/>
<path d="M267.40,444.60H270.40M267.40,427.20H270.40M267.40,409.80H270.40M267.40,392.40H270.40M267.40,375.00H270.40M267.40,357.60H270.40M267.40,340.20H270.40M267.40,322.80H270.40M267.40,305.40H270.40M268.60,453.30H270.40M268.60,435.90H270.40M268.60,418.50H270.40M268.60,401.10H270.40M268.60,383.70H270.40M268.60,366.30H270.40M268.60,348.90H270.40M268.60,331.50H270.40M268.60,314.10H270.40M268.60,296.70H270.40" stroke="#111" stroke-width="1.25" fill="none"/>
<g transform="translate(267.60 448.10) scale(0.830 1)"><text x="0" y="0" font-size="12.0" text-anchor="end" font-weight="bold" fill="#000">0</text></g>
<g transform="translate(267.60 430.70) scale(0.830 1)"><text x="0" y="0" font-size="12.0" text-anchor="end" font-weight="bold" fill="#000">2</text></g>
<g transform="translate(267.60 413.30) scale(0.830 1)"><text x="0" y="0" font-size="12.0" text-anchor="end" font-weight="bold" fill="#000">4</text></g>
<g transform="translate(267.60 395.90) scale(0.830 1)"><text x="0" y="0" font-size="12.0" text-anchor="end" font-weight="bold" fill="#000">6</text></g>
<g transform="translate(267.60 378.50) scale(0.830 1)"><text x="0" y="0" font-size="12.0" text-anchor="end" font-weight="bold" fill="#000">8</text></g>
<g transform="translate(267.60 361.10) scale(0.830 1)"><text x="0" y="0" font-size="12.0" text-anchor="end" font-weight="bold" fill="#000">10</text></g>
<g transform="translate(267.60 343.70) scale(0.830 1)"><text x="0" y="0" font-size="12.0" text-anchor="end" font-weight="bold" fill="#000">12</text></g>
<g transform="translate(267.60 326.30) scale(0.830 1)"><text x="0" y="0" font-size="12.0" text-anchor="end" font-weight="bold" fill="#000">14</text></g>
<g transform="translate(267.60 308.90) scale(0.830 1)"><text x="0" y="0" font-size="12.0" text-anchor="end" font-weight="bold" fill="#000">16</text></g>
<path d="M270.70,454.00V457.00M296.40,454.00V457.00M322.10,454.00V457.00M347.80,454.00V457.00M373.50,454.00V457.00M399.20,454.00V457.00M424.90,454.00V457.00M450.60,454.00V457.00M283.55,454.00V455.80M309.25,454.00V455.80M334.95,454.00V455.80M360.65,454.00V455.80M386.35,454.00V455.80M412.05,454.00V455.80M437.75,454.00V455.80" stroke="#111" stroke-width="1.25" fill="none"/>
<g transform="translate(270.70 468.30) scale(0.830 1)"><text x="0" y="0" font-size="12.0" text-anchor="middle" font-weight="bold" fill="#000">0</text></g>
<g transform="translate(296.40 468.30) scale(0.830 1)"><text x="0" y="0" font-size="12.0" text-anchor="middle" font-weight="bold" fill="#000">10</text></g>
<g transform="translate(322.10 468.30) scale(0.830 1)"><text x="0" y="0" font-size="12.0" text-anchor="middle" font-weight="bold" fill="#000">20</text></g>
<g transform="translate(347.80 468.30) scale(0.830 1)"><text x="0" y="0" font-size="12.0" text-anchor="middle" font-weight="bold" fill="#000">30</text></g>
<g transform="translate(373.50 468.30) scale(0.830 1)"><text x="0" y="0" font-size="12.0" text-anchor="middle" font-weight="bold" fill="#000">40</text></g>
<g transform="translate(399.20 468.30) scale(0.830 1)"><text x="0" y="0" font-size="12.0" text-anchor="middle" font-weight="bold" fill="#000">50</text></g>
<g transform="translate(424.90 468.30) scale(0.830 1)"><text x="0" y="0" font-size="12.0" text-anchor="middle" font-weight="bold" fill="#000">60</text></g>
<g transform="translate(450.60 468.30) scale(0.830 1)"><text x="0" y="0" font-size="12.0" text-anchor="middle" font-weight="bold" fill="#000">70</text></g>
<text x="249.30" y="381.40" font-size="12" text-anchor="middle" font-weight="bold" letter-spacing="1.3" textLength="94.2" lengthAdjust="spacingAndGlyphs" transform="rotate(-90 249.30 381.40)">Total charge (nC)</text>
<text x="360.8" y="483.5" font-size="11.5" text-anchor="middle" font-weight="bold" fill="#000" textLength="42.4" lengthAdjust="spacingAndGlyphs">Time (µs)</text>
<line x1="396.40" y1="314.50" x2="413.60" y2="314.50" stroke="#000000" stroke-width="1.0"/>
<rect x="403.10" y="312.60" width="3.80" height="3.80" fill="#000000"/>
<g transform="translate(415.50 316.60) scale(0.900 1)"><text x="0" y="0" font-size="8.8" text-anchor="start" font-weight="bold" fill="#000">1X PBS</text></g>
<line x1="396.40" y1="326.60" x2="413.60" y2="326.60" stroke="#ff0000" stroke-width="1.0"/>
<circle cx="405.00" cy="326.60" r="1.99" fill="#ff0000"/>
<g transform="translate(415.50 328.70) scale(0.900 1)"><text x="0" y="0" font-size="8.8" text-anchor="start" font-weight="bold" fill="#000">Aptamer</text></g>
<line x1="396.40" y1="338.70" x2="413.60" y2="338.70" stroke="#0000ff" stroke-width="1.0"/>
<polygon points="405.0,336.4 407.2,340.2 402.8,340.2" fill="#0000ff"/>
<g transform="translate(415.50 340.80) scale(0.900 1)"><text x="0" y="0" font-size="8.8" text-anchor="start" font-weight="bold" fill="#000">0.34 mg/L</text></g>
<line x1="396.40" y1="350.80" x2="413.60" y2="350.80" stroke="#ff00ff" stroke-width="1.0"/>
<polygon points="405.0,353.1 407.2,349.3 402.8,349.3" fill="#ff00ff"/>
<g transform="translate(415.50 352.90) scale(0.900 1)"><text x="0" y="0" font-size="8.8" text-anchor="start" font-weight="bold" fill="#000">0.36 mg/L</text></g>
<line x1="396.40" y1="362.90" x2="413.60" y2="362.90" stroke="#008000" stroke-width="1.0"/>
<polygon points="405.0,360.4 407.1,362.9 405.0,365.4 402.9,362.9" fill="#008000"/>
<g transform="translate(415.50 365.00) scale(0.900 1)"><text x="0" y="0" font-size="8.8" text-anchor="start" font-weight="bold" fill="#000">0.38 mg/L</text></g>
<line x1="396.40" y1="375.00" x2="413.60" y2="375.00" stroke="#000080" stroke-width="1.0"/>
<polygon points="402.7,375.0 406.5,372.8 406.5,377.2" fill="#000080"/>
<g transform="translate(415.50 377.10) scale(0.900 1)"><text x="0" y="0" font-size="8.8" text-anchor="start" font-weight="bold" fill="#000">0.65 mg/L</text></g>
<line x1="396.40" y1="387.10" x2="413.60" y2="387.10" stroke="#8000ff" stroke-width="1.0"/>
<polygon points="407.3,387.1 403.5,384.9 403.5,389.3" fill="#8000ff"/>
<g transform="translate(415.50 389.20) scale(0.900 1)"><text x="0" y="0" font-size="8.8" text-anchor="start" font-weight="bold" fill="#000">1.37 mg/L</text></g>
<line x1="396.40" y1="399.20" x2="413.60" y2="399.20" stroke="#800080" stroke-width="1.0"/>
<polygon points="407.2,399.2 406.1,401.1 403.9,401.1 402.8,399.2 403.9,397.3 406.1,397.3" fill="#800080"/>
<g transform="translate(415.50 401.30) scale(0.900 1)"><text x="0" y="0" font-size="8.8" text-anchor="start" font-weight="bold" fill="#000">1.5 mg/L</text></g>
<line x1="396.40" y1="411.30" x2="413.60" y2="411.30" stroke="#800000" stroke-width="1.0"/>
<polygon points="405.0,408.6 405.7,410.3 407.5,410.5 406.1,411.7 406.6,413.5 405.0,412.5 403.4,413.5 403.9,411.7 402.5,410.5 404.3,410.3" fill="#800000"/>
<g transform="translate(415.50 413.40) scale(0.900 1)"><text x="0" y="0" font-size="8.8" text-anchor="start" font-weight="bold" fill="#000">2.3 mg/L</text></g>
<line x1="396.40" y1="423.40" x2="413.60" y2="423.40" stroke="#808000" stroke-width="1.0"/>
<polygon points="405.0,421.1 407.2,422.7 406.3,425.2 403.7,425.2 402.8,422.7" fill="#808000"/>
<g transform="translate(415.50 425.50) scale(0.900 1)"><text x="0" y="0" font-size="8.8" text-anchor="start" font-weight="bold" fill="#000">5.4 mg/L</text></g>
<line x1="396.40" y1="435.50" x2="413.60" y2="435.50" stroke="#2f66a8" stroke-width="1.0"/>
<circle cx="405.00" cy="435.50" r="1.71" fill="#b5cdee" stroke="#2f66a8" stroke-width="0.95"/>
<g transform="translate(415.50 437.60) scale(0.900 1)"><text x="0" y="0" font-size="8.8" text-anchor="start" font-weight="bold" fill="#000">9.2 mg/L</text></g>
<line x1="396.40" y1="447.60" x2="413.60" y2="447.60" stroke="#2a8c9a" stroke-width="1.0"/>
<path d="M402.72,447.60H407.28M405.00,445.32V449.88" stroke="#2a8c9a" stroke-width="0.9" fill="none"/>
<g transform="translate(415.50 449.70) scale(0.900 1)"><text x="0" y="0" font-size="8.8" text-anchor="start" font-weight="bold" fill="#000">23.2 mg/L</text></g>
<text x="458.5" y="260.6" font-size="14" text-anchor="start" font-weight="bold" fill="#000">(f)</text>
<text x="485.0" y="283.3" font-size="10.4" text-anchor="start" font-weight="bold" fill="#000" textLength="156.7" lengthAdjust="spacingAndGlyphs">Calibration curve- CRP detection</text>
<text x="485.0" y="299.0" font-size="10.4" text-anchor="start" font-weight="bold" fill="#000" textLength="41.0" lengthAdjust="spacingAndGlyphs">in serum</text>
<rect x="486.50" y="301.60" width="184.70" height="157.90" fill="none" stroke="#222" stroke-width="1.3"/>
<path d="M483.50,459.50H486.50M483.50,420.02H486.50M483.50,380.54H486.50M483.50,341.06H486.50M483.50,301.58H486.50M484.70,439.76H486.50M484.70,400.28H486.50M484.70,360.80H486.50M484.70,321.32H486.50" stroke="#111" stroke-width="1.25" fill="none"/>
<g transform="translate(482.40 463.00) scale(0.830 1)"><text x="0" y="0" font-size="12.0" text-anchor="end" font-weight="bold" fill="#000">10</text></g>
<g transform="translate(482.40 423.52) scale(0.830 1)"><text x="0" y="0" font-size="12.0" text-anchor="end" font-weight="bold" fill="#000">12</text></g>
<g transform="translate(482.40 384.04) scale(0.830 1)"><text x="0" y="0" font-size="12.0" text-anchor="end" font-weight="bold" fill="#000">14</text></g>
<g transform="translate(482.40 344.56) scale(0.830 1)"><text x="0" y="0" font-size="12.0" text-anchor="end" font-weight="bold" fill="#000">16</text></g>
<g transform="translate(482.40 305.08) scale(0.830 1)"><text x="0" y="0" font-size="12.0" text-anchor="end" font-weight="bold" fill="#000">18</text></g>
<path d="M502.70,459.50V462.50M535.15,459.50V462.50M567.60,459.50V462.50M600.05,459.50V462.50M632.50,459.50V462.50M664.95,459.50V462.50M518.90,459.50V461.30M551.35,459.50V461.30M583.80,459.50V461.30M616.25,459.50V461.30M648.70,459.50V461.30M486.47,459.50V461.30" stroke="#111" stroke-width="1.25" fill="none"/>
<g transform="translate(502.70 474.90) scale(0.830 1)"><text x="0" y="0" font-size="12.0" text-anchor="middle" font-weight="bold" fill="#000">0</text></g>
<g transform="translate(535.15 474.90) scale(0.830 1)"><text x="0" y="0" font-size="12.0" text-anchor="middle" font-weight="bold" fill="#000">5</text></g>
<g transform="translate(567.60 474.90) scale(0.830 1)"><text x="0" y="0" font-size="12.0" text-anchor="middle" font-weight="bold" fill="#000">10</text></g>
<g transform="translate(600.05 474.90) scale(0.830 1)"><text x="0" y="0" font-size="12.0" text-anchor="middle" font-weight="bold" fill="#000">15</text></g>
<g transform="translate(632.50 474.90) scale(0.830 1)"><text x="0" y="0" font-size="12.0" text-anchor="middle" font-weight="bold" fill="#000">20</text></g>
<g transform="translate(664.95 474.90) scale(0.830 1)"><text x="0" y="0" font-size="12.0" text-anchor="middle" font-weight="bold" fill="#000">25</text></g>
<text x="467.80" y="386.40" font-size="12" text-anchor="middle" font-weight="bold" letter-spacing="1.3" textLength="94.2" lengthAdjust="spacingAndGlyphs" transform="rotate(-90 467.80 386.40)">Total charge (nC)</text>
<text x="578.5" y="488.9" font-size="11.5" text-anchor="middle" font-weight="bold" fill="#000" textLength="122.8" lengthAdjust="spacingAndGlyphs">CRP concentration (mg/L)</text>
<polygon points="504.9,442.5 507.8,444.2 507.8,447.4 504.9,449.1 502.0,447.4 502.0,444.2" fill="#fff" stroke="#000" stroke-width="1.1"/>
<polygon points="504.9,442.5 502.0,444.2 502.0,447.4 504.9,449.1" fill="#000"/>
<polygon points="504.9,440.1 507.8,441.8 507.8,445.0 504.9,446.7 502.0,445.0 502.0,441.8" fill="#fff" stroke="#000" stroke-width="1.1"/>
<polygon points="504.9,440.1 502.0,441.8 502.0,445.0 504.9,446.7" fill="#000"/>
<polygon points="504.9,431.9 507.8,433.6 507.8,436.8 504.9,438.5 502.0,436.8 502.0,433.6" fill="#fff" stroke="#000" stroke-width="1.1"/>
<polygon points="504.9,431.9 502.0,433.6 502.0,436.8 504.9,438.5" fill="#000"/>
<polygon points="507.0,421.3 509.9,423.0 509.9,426.2 507.0,427.9 504.1,426.2 504.1,423.0" fill="#fff" stroke="#000" stroke-width="1.1"/>
<polygon points="507.0,421.3 504.1,423.0 504.1,426.2 507.0,427.9" fill="#000"/>
<polygon points="511.2,407.9 514.1,409.6 514.1,412.8 511.2,414.5 508.3,412.8 508.3,409.6" fill="#fff" stroke="#000" stroke-width="1.1"/>
<polygon points="511.2,407.9 508.3,409.6 508.3,412.8 511.2,414.5" fill="#000"/>
<polygon points="511.6,402.3 514.5,404.0 514.5,407.2 511.6,408.9 508.7,407.2 508.7,404.0" fill="#fff" stroke="#000" stroke-width="1.1"/>
<polygon points="511.6,402.3 508.7,404.0 508.7,407.2 511.6,408.9" fill="#000"/>
<polygon points="512.2,400.7 515.1,402.4 515.1,405.6 512.2,407.3 509.3,405.6 509.3,402.4" fill="#fff" stroke="#000" stroke-width="1.1"/>
<polygon points="512.2,400.7 509.3,402.4 509.3,405.6 512.2,407.3" fill="#000"/>
<polygon points="518.0,398.0 520.9,399.7 520.9,402.9 518.0,404.6 515.1,402.9 515.1,399.7" fill="#fff" stroke="#000" stroke-width="1.1"/>
<polygon points="518.0,398.0 515.1,399.7 515.1,402.9 518.0,404.6" fill="#000"/>
<polygon points="537.4,379.7 540.3,381.4 540.3,384.6 537.4,386.3 534.5,384.6 534.5,381.4" fill="#fff" stroke="#000" stroke-width="1.1"/>
<polygon points="537.4,379.7 534.5,381.4 534.5,384.6 537.4,386.3" fill="#000"/>
<polygon points="562.4,358.1 565.3,359.8 565.3,363.0 562.4,364.7 559.5,363.0 559.5,359.8" fill="#fff" stroke="#000" stroke-width="1.1"/>
<polygon points="562.4,358.1 559.5,359.8 559.5,363.0 562.4,364.7" fill="#000"/>
<polygon points="653.7,337.7 656.6,339.4 656.6,342.6 653.7,344.3 650.8,342.6 650.8,339.4" fill="#fff" stroke="#000" stroke-width="1.1"/>
<polygon points="653.7,337.7 650.8,339.4 650.8,342.6 653.7,344.3" fill="#000"/>
</svg>
</body></html>
